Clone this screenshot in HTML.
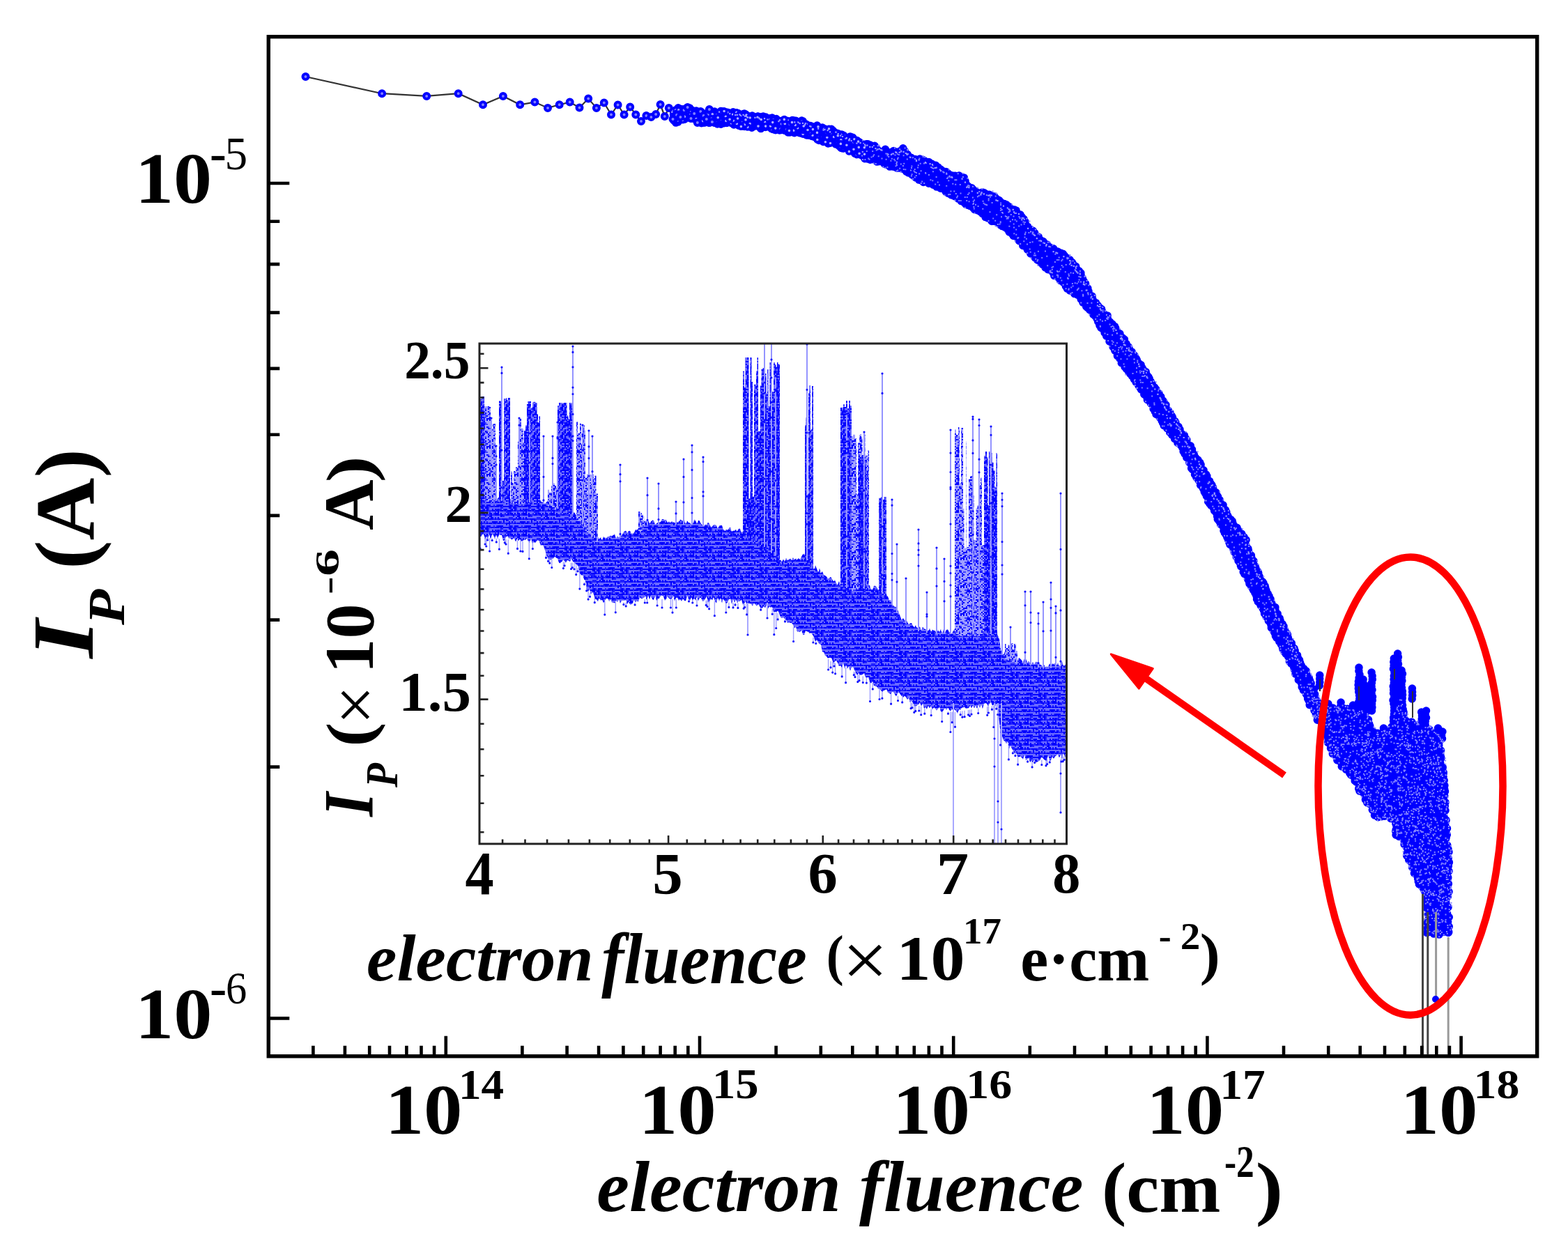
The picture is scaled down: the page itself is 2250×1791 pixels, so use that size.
<!DOCTYPE html>
<html><head><meta charset="utf-8"><title>electron fluence plot</title>
<style>html,body{margin:0;padding:0;background:#fff;overflow:hidden}svg{display:block;font-family:"Liberation Serif",serif;font-weight:bold}</style>
</head><body>
<svg width="2250" height="1791" viewBox="0 0 2250 1791">
<rect width="2250" height="1791" fill="#fff"/>
<path d="M438.5 110.0 L548.1 134.2 L612.2 137.9 L657.7 134.2 L693.0 150.3 L721.9 137.9 L746.2 150.3 L767.4 146.6 L786.0 154.9 L802.7 150.3 L817.7 146.6 L831.5 154.5 L844.2 141.5 L855.9 154.9 L866.8 147.5 L877.0 164.5 L886.6 150.4 L895.6 164.5 L904.2 153.4 L912.3 164.5 L920.0 174.0 L927.4 166.0 L934.4 168.0 L941.1 164.0 L947.6 150.0 L953.8 167.0 L959.8 155.0 L965.5 171.0 L971.1 165.0 L976.4 168.0 L981.6 158.0 L986.6 154.0 L991.5 170.0 L996.2 163.0 L1000.8 176.0 L1005.3 160.0 L1009.6 166.0 L1013.8 171.0 L1017.9 157.0 L1021.9 175.0" fill="none" stroke="#333" stroke-width="2.2"/>
<path d="M1236.7 224.3 L1237.0 224.4 L1254.7 232.3 L1280.3 239.2 L1280.6 239.3 L1298.6 245.3 L1299.1 245.4 L1299.5 245.7 L1299.9 245.9 L1317.3 258.5 L1333.7 264.3 L1334.0 264.4 L1352.0 272.4 L1352.4 272.6 L1352.7 272.8 L1369.6 283.7 L1392.5 296.6 L1392.8 296.8 L1413.7 310.8 L1434.6 323.7 L1434.9 323.9 L1455.9 338.9 L1456.3 339.3 L1456.7 339.6 L1477.6 362.5 L1498.3 383.3 L1519.1 400.1 L1519.5 400.4 L1519.8 400.7 L1533.2 416.1 L1542.6 421.7 L1543.0 422.0 L1543.4 422.3 L1543.8 422.7 L1565.8 447.7 L1566.0 448.0 L1566.3 448.4 L1598.3 500.4 L1598.4 500.6 L1612.2 525.2 L1632.0 551.0 L1632.2 551.3 L1649.2 577.3 L1649.3 577.4 L1664.2 602.2 L1698.0 647.0 L1698.3 647.4 L1698.5 647.8 L1722.5 697.7 L1748.9 747.7 L1749.0 747.9 L1772.5 797.8 L1822.4 897.7 L1849.4 947.6 L1849.5 947.8 L1873.5 997.8 L1894.4 1037.7 L1894.6 1038.1 L1905.6 1064.9 L1917.2 1088.2 L1938.8 1112.7 L1939.0 1113.0 L1939.3 1113.4 L1960.2 1147.4 L1975.9 1172.2 L1998.4 1174.0 L1998.9 1174.1 L1999.4 1174.2 L1999.8 1174.4 L2000.3 1174.6 L2000.7 1174.8 L2001.1 1175.1 L2001.5 1175.4 L2001.8 1175.8 L2002.1 1176.2 L2002.4 1176.6 L2002.6 1177.1 L2002.8 1177.5 L2002.9 1178.0 L2003.0 1178.5 L2003.0 1179.0 L2003.0 1198.0 L2013.4 1203.6 L2013.8 1203.8 L2014.2 1204.1 L2014.5 1204.5 L2014.9 1204.8 L2015.2 1205.2 L2015.4 1205.6 L2015.6 1206.1 L2015.8 1206.5 L2015.9 1207.0 L2016.0 1207.5 L2017.9 1225.6 L2033.5 1258.8 L2044.5 1280.8 L2044.7 1281.2 L2044.8 1281.7 L2044.9 1282.2 L2048.9 1308.2 L2049.0 1308.7 L2049.0 1309.1 L2048.1 1340.0 L2078.0 1340.0 L2078.0 1222.2 L2075.0 1180.4 L2075.0 1180.3 L2072.0 1130.3 L2067.1 1064.2 L2056.5 1053.5 L2056.1 1053.1 L2049.1 1044.4 L2033.6 1039.8 L2033.2 1039.7 L2020.2 1034.7 L2019.7 1034.5 L2019.3 1034.2 L2018.9 1033.9 L2018.5 1033.6 L2018.1 1033.2 L2017.8 1032.8 L2017.6 1032.3 L2017.4 1031.9 L2010.2 1013.8 L1999.7 1041.8 L1999.5 1042.2 L1999.2 1042.7 L1998.9 1043.1 L1998.5 1043.5 L1998.1 1043.9 L1988.1 1051.9 L1987.7 1052.2 L1987.3 1052.4 L1986.9 1052.6 L1986.4 1052.8 L1986.0 1052.9 L1985.5 1053.0 L1985.0 1053.0 L1984.5 1053.0 L1984.0 1052.9 L1983.6 1052.8 L1973.6 1049.8 L1973.1 1049.6 L1972.7 1049.4 L1972.3 1049.2 L1971.9 1048.9 L1971.6 1048.6 L1971.3 1048.3 L1971.0 1048.0 L1970.7 1047.6 L1957.2 1025.0 L1945.0 1025.0 L1944.5 1025.0 L1944.0 1024.9 L1943.6 1024.8 L1943.1 1024.6 L1942.6 1024.4 L1928.8 1017.0 L1905.0 1017.0 L1904.5 1017.0 L1904.0 1016.9 L1903.5 1016.8 L1903.1 1016.6 L1902.6 1016.4 L1902.2 1016.2 L1901.8 1015.9 L1901.5 1015.5 L1889.5 1003.5 L1889.2 1003.2 L1888.9 1002.8 L1888.6 1002.4 L1888.4 1002.0 L1888.3 1001.6 L1875.5 964.2 L1867.8 952.8 L1867.5 952.2 L1843.5 902.2 L1843.5 902.1 L1797.5 802.1 L1797.4 801.9 L1789.4 781.9 L1789.1 781.2 L1786.4 770.4 L1771.3 753.3 L1770.9 752.9 L1770.6 752.4 L1742.6 702.4 L1742.6 702.4 L1715.7 652.5 L1673.7 582.6 L1673.7 582.5 L1658.7 556.6 L1641.8 530.7 L1641.8 530.7 L1625.8 505.8 L1607.9 479.9 L1589.0 454.0 L1569.1 429.1 L1568.8 428.6 L1568.5 428.1 L1552.7 394.6 L1544.1 383.2 L1528.9 366.0 L1513.8 358.5 L1513.4 358.3 L1513.0 358.0 L1497.0 346.0 L1496.5 345.5 L1481.5 330.5 L1481.1 330.1 L1460.6 303.8 L1445.4 294.2 L1445.1 294.1 L1423.0 278.7 L1400.0 273.9 L1399.5 273.8 L1399.1 273.6 L1398.7 273.4 L1398.3 273.2 L1397.9 272.9 L1388.9 265.9 L1388.6 265.7 L1388.3 265.3 L1388.0 265.0 L1387.7 264.6 L1387.5 264.2 L1381.7 252.7 L1366.4 251.0 L1365.9 250.9 L1365.4 250.7 L1364.9 250.6 L1364.5 250.3 L1347.5 240.3 L1347.2 240.1 L1335.0 231.7 L1308.9 225.9 L1308.4 225.7 L1308.0 225.6 L1307.5 225.3 L1307.1 225.1 L1306.7 224.8 L1306.4 224.4 L1306.0 224.0 L1298.0 213.6 L1280.2 217.9 L1279.7 218.0 L1279.2 218.0 L1278.7 218.0 L1278.3 217.9 L1277.8 217.9 L1277.3 217.7 L1260.4 211.7 L1235.0 203.3 L1235.0 223.7 L1236.7 224.3Z" fill="#00f"/>
<path d="M968.8 158.8h0M968.9 158.3h0M966.5 164.1h0M967.3 168.8h0M969.8 176.1h0M972.9 175.1h0M979.0 170.1h0M979.5 170.2h0M982.4 171.2h0M989.1 166.8h0M989.3 169.1h0M995.6 170.3h0M1001.8 173.8h0M1003.3 174.0h0M1006.6 176.8h0M1010.9 176.1h0M1017.8 176.0h0M1021.9 173.9h0M1025.2 176.3h0M1029.4 177.9h0M1033.8 173.8h0M1034.5 178.2h0M1039.3 176.7h0M1042.9 176.5h0M1050.2 176.8h0M1053.0 179.0h0M1060.1 180.2h0M1063.2 179.6h0M1068.2 181.4h0M1069.1 181.2h0M1076.8 180.4h0M1078.8 183.2h0M1083.1 180.1h0M1083.5 180.9h0M1091.6 184.4h0M1091.8 184.6h0M1095.3 182.4h0M1098.2 182.4h0M1105.3 182.3h0M1108.4 183.8h0M1111.7 186.2h0M1112.9 186.8h0M1118.7 187.0h0M1121.8 186.4h0M1127.8 186.9h0M1130.7 189.9h0M1136.4 189.5h0M1140.6 188.7h0M1139.9 190.7h0M1147.2 190.8h0M1149.1 191.1h0M1157.3 194.0h0M1160.5 194.1h0M1165.0 195.4h0M1168.9 196.6h0M1172.5 198.5h0M1175.3 201.5h0M1176.9 198.5h0M1181.3 203.4h0M1185.8 202.6h0M1188.3 206.0h0M1195.3 204.0h0M1199.1 207.0h0M1204.3 209.7h0M1207.3 212.4h0M1210.5 213.0h0M1212.2 211.8h0M1218.6 214.7h0M1218.8 215.4h0M1226.5 220.3h0M1228.6 218.0h0M1231.3 219.2h0M1234.4 222.0h0M1238.7 224.5h0M1241.0 227.7h0M1244.8 228.0h0M1248.7 229.2h0M1254.1 228.9h0M1258.5 232.1h0M1261.3 230.4h0M1263.5 231.6h0M1269.1 235.2h0M1271.7 236.2h0M1276.8 239.1h0M1281.7 237.1h0M1282.1 239.3h0M1287.1 241.3h0M1291.3 241.1h0M1294.2 241.9h0M1299.0 244.1h0M1300.5 246.2h0M1303.5 247.9h0M1308.9 250.9h0M1312.7 253.7h0M1314.1 255.0h0M1318.6 258.1h0M1321.0 258.6h0M1325.1 261.4h0M1327.0 260.5h0M1332.7 263.3h0M1334.3 262.9h0M1339.1 265.2h0M1344.0 268.1h0M1347.4 267.9h0M1349.6 270.2h0M1352.0 270.4h0M1357.2 275.3h0M1360.7 277.5h0M1364.8 279.8h0M1365.5 279.9h0M1369.9 281.7h0M1375.0 285.1h0M1378.0 286.8h0M1379.3 288.6h0M1383.8 291.0h0M1386.2 293.4h0M1389.1 294.4h0M1392.2 295.7h0M1396.8 298.6h0M1398.5 300.8h0M1402.2 301.7h0M1406.4 303.7h0M1409.9 306.7h0M1413.2 308.8h0M1414.1 311.6h0M1417.4 312.9h0M1422.0 315.2h0M1423.2 317.4h0M1427.0 317.4h0M1432.3 319.7h0M1436.0 323.1h0M1438.2 324.6h0M1442.0 326.2h0M1445.9 329.3h0M1448.2 332.9h0M1452.4 335.7h0M1454.3 338.4h0M1459.5 340.3h0M1461.7 344.2h0M1462.5 345.8h0M1465.8 347.1h0M1467.8 352.5h0M1472.1 354.1h0M1474.3 358.1h0M1478.5 360.8h0M1478.8 363.9h0M1484.0 365.6h0M1485.3 370.0h0M1488.4 372.9h0M1490.0 373.7h0M1494.1 377.4h0M1496.3 379.7h0M1499.9 384.0h0M1503.7 386.8h0M1507.2 387.4h0M1510.9 391.2h0M1512.8 395.6h0M1517.2 396.2h0M1519.1 398.7h0M1521.6 402.7h0M1525.7 405.3h0M1528.9 408.8h0M1529.3 410.6h0M1531.3 414.1h0M1535.1 417.0h0M1540.4 419.4h0M1541.9 421.6h0M1545.9 422.9h0M1549.4 425.4h0M1551.3 429.4h0M1553.9 434.1h0M1558.2 435.2h0M1558.7 439.9h0M1560.7 441.7h0M1563.7 444.7h0M1567.8 448.9h0M1569.0 451.4h0M1571.8 453.9h0M1574.4 458.0h0M1575.7 461.5h0M1577.1 463.8h0M1578.0 467.3h0M1580.0 470.4h0M1584.1 474.1h0M1585.1 477.5h0M1587.6 482.1h0M1590.5 483.8h0M1592.0 489.9h0M1594.9 490.9h0M1597.3 496.1h0M1597.1 497.9h0M1599.9 503.3h0M1603.2 505.7h0M1603.4 510.6h0M1606.7 512.8h0M1606.8 514.4h0M1609.3 521.0h0M1612.7 522.1h0M1614.0 526.4h0M1616.1 529.3h0M1619.3 533.3h0M1621.9 536.4h0M1624.5 539.6h0M1627.3 544.3h0M1629.7 546.7h0M1630.2 548.4h0M1633.2 551.7h0M1634.1 553.8h0M1636.2 556.5h0M1637.5 559.0h0M1641.9 562.8h0M1641.8 565.9h0M1645.7 569.9h0M1646.4 573.8h0M1648.9 575.2h0M1651.3 579.0h0M1655.0 583.0h0M1655.1 586.8h0M1657.3 590.5h0M1659.0 594.5h0M1661.1 595.4h0M1664.2 599.1h0M1667.1 603.7h0M1668.5 606.6h0M1670.2 610.6h0M1674.7 614.6h0M1677.4 615.8h0M1678.7 620.5h0M1679.6 620.7h0M1681.7 624.2h0M1685.6 629.8h0M1688.1 630.4h0M1689.9 635.5h0M1694.2 638.7h0M1696.4 642.0h0M1698.1 647.8h0M1699.9 651.1h0M1702.0 652.8h0M1702.8 656.8h0M1706.4 658.8h0M1706.7 663.8h0M1709.7 666.7h0M1709.6 672.0h0M1711.1 673.8h0M1714.9 676.4h0M1714.5 680.9h0M1716.8 685.2h0M1719.9 689.3h0M1721.6 691.0h0M1722.9 693.0h0M1722.6 696.2h0M1726.4 701.0h0M1728.2 705.5h0M1729.4 707.6h0M1731.4 711.9h0M1734.1 716.9h0M1733.6 719.7h0M1735.8 722.8h0M1737.6 725.1h0M1740.6 727.9h0M1742.6 732.9h0M1745.1 735.6h0M1746.6 740.9h0M1747.3 745.3h0M1749.6 748.0h0M1751.6 752.4h0M1755.5 756.4h0M1756.0 761.5h0M1757.3 764.5h0M1759.1 767.1h0M1760.9 771.1h0M1762.7 775.3h0M1763.9 778.4h0M1765.0 781.4h0M1767.6 783.3h0M1770.0 788.2h0M1771.1 792.1h0M1773.8 795.0h0M1774.1 799.2h0M1777.0 804.9h0M1779.1 807.5h0M1780.3 811.5h0M1780.6 812.8h0M1783.8 815.8h0M1784.2 820.8h0M1785.8 823.6h0M1790.4 828.1h0M1790.9 831.8h0M1792.5 835.1h0M1792.9 837.6h0M1795.7 841.9h0M1797.7 845.1h0M1798.6 847.0h0M1800.9 851.0h0M1802.8 854.8h0M1803.5 859.8h0M1805.2 863.4h0M1808.4 867.0h0M1809.2 869.3h0M1812.0 873.2h0M1813.5 876.2h0M1814.5 880.4h0M1817.0 885.0h0M1818.9 886.5h0M1820.3 890.9h0M1822.8 893.4h0M1823.9 896.8h0M1824.3 901.0h0M1827.8 905.6h0M1828.9 908.0h0M1830.4 912.7h0M1831.8 915.2h0M1835.7 919.1h0M1835.7 920.6h0M1838.4 924.7h0M1840.5 929.7h0M1840.9 931.5h0M1843.2 935.7h0M1845.0 938.3h0M1848.3 941.9h0M1850.6 946.8h0M1850.3 949.3h0M1852.7 952.1h0M1856.4 956.8h0M1857.4 960.8h0M1859.1 964.8h0M1859.0 967.3h0M1862.7 969.3h0M1863.7 972.8h0M1863.3 975.7h0M1867.1 979.4h0M1868.3 983.1h0M1868.2 985.9h0M1870.4 990.4h0M1874.3 996.1h0M1876.2 998.9h0M1876.6 1002.4h0M1877.8 1005.0h0M1879.2 1011.6h0M1881.6 1012.2h0M1887.0 1015.2h0M1886.0 1019.4h0M1888.1 1023.5h0M1892.2 1030.1h0M1890.3 1033.3h0M1896.5 1038.0h0M1897.8 1040.6h0M1896.8 1041.8h0M1898.3 1043.9h0M1902.1 1048.6h0M1903.6 1054.2h0M1905.1 1057.7h0M1906.1 1062.0h0M1905.6 1065.8h0M1910.1 1066.7h0M1909.5 1073.6h0M1913.6 1077.1h0M1912.3 1081.7h0M1916.9 1084.4h0M1919.2 1086.7h0M1918.9 1090.9h0M1924.5 1091.6h0M1924.0 1093.8h0M1925.3 1099.9h0M1927.8 1099.0h0M1931.4 1104.3h0M1936.8 1109.5h0M1938.4 1111.9h0M1942.1 1114.2h0M1943.9 1116.5h0M1944.2 1120.4h0M1945.9 1121.9h0M1949.2 1124.9h0M1949.7 1131.7h0M1950.9 1135.2h0M1954.8 1135.5h0M1956.3 1137.7h0M1960.3 1144.5h0M1959.4 1147.4h0M1961.8 1152.0h0M1965.5 1153.8h0M1970.3 1156.7h0M1969.3 1162.3h0M1972.1 1164.0h0M1972.5 1169.9h0M1977.5 1172.7h0M1982.6 1171.8h0M1986.9 1171.3h0M1988.5 1170.0h0M1995.8 1174.6h0M1998.9 1175.1h0M2000.7 1175.6h0M2003.6 1179.6h0M2002.9 1182.3h0M2003.8 1184.7h0M2003.2 1190.7h0M2002.7 1193.0h0M2003.1 1198.3h0M2007.5 1200.5h0M2014.0 1203.2h0M2015.1 1206.6h0M2015.1 1211.8h0M2015.6 1211.5h0M2018.9 1216.4h0M2019.2 1224.4h0M2020.3 1224.4h0M2018.8 1228.3h0M2021.3 1230.9h0M2021.7 1234.2h0M2025.3 1237.4h0M2026.6 1244.8h0M2030.8 1246.0h0M2030.5 1247.5h0M2029.4 1253.2h0M2033.1 1256.0h0M2034.6 1261.0h0M2035.3 1265.3h0M2036.4 1268.9h0M2040.1 1271.8h0M2042.5 1275.2h0M2044.8 1279.5h0M2048.2 1281.2h0M2048.3 1288.0h0M2048.1 1290.0h0M2048.2 1295.1h0M2046.7 1300.8h0M2046.9 1302.6h0M2049.8 1306.7h0M2049.2 1312.3h0M2050.4 1316.9h0M2049.1 1321.2h0M2048.4 1324.6h0M2048.8 1331.0h0M2048.3 1332.3h0M2047.6 1338.6h0M2049.5 1336.9h0M2053.9 1337.7h0M2057.5 1340.1h0M2065.1 1341.1h0M2069.2 1337.0h0M2071.7 1337.5h0M2078.3 1338.5h0M2078.8 1337.5h0M2079.3 1329.8h0M2075.2 1326.7h0M2077.6 1322.7h0M2075.5 1321.7h0M2079.3 1316.2h0M2076.7 1311.4h0M2075.7 1310.7h0M2078.0 1301.9h0M2075.3 1299.3h0M2074.9 1295.7h0M2074.8 1290.9h0M2077.4 1286.4h0M2077.5 1281.1h0M2079.1 1279.8h0M2077.3 1271.5h0M2076.4 1270.8h0M2078.4 1268.3h0M2074.6 1264.3h0M2077.8 1259.4h0M2076.6 1256.8h0M2079.1 1250.2h0M2076.4 1244.9h0M2078.4 1242.6h0M2079.4 1237.5h0M2078.2 1231.8h0M2075.4 1230.4h0M2075.9 1226.8h0M2079.0 1222.8h0M2078.0 1218.6h0M2076.8 1213.1h0M2074.0 1210.0h0M2074.7 1203.6h0M2075.2 1201.8h0M2076.3 1197.9h0M2075.0 1195.1h0M2075.5 1189.5h0M2076.5 1189.0h0M2073.8 1182.2h0M2075.1 1177.1h0M2073.1 1174.7h0M2071.5 1169.8h0M2074.0 1163.2h0M2073.0 1161.5h0M2073.3 1156.5h0M2073.9 1151.4h0M2070.2 1151.4h0M2069.6 1144.7h0M2072.7 1142.1h0M2073.5 1135.8h0M2072.7 1132.2h0M2071.0 1129.9h0M2072.9 1127.2h0M2069.3 1124.7h0M2072.2 1119.9h0M2071.1 1115.0h0M2071.2 1110.1h0M2071.3 1108.6h0M2070.2 1101.5h0M2070.2 1101.1h0M2066.7 1094.9h0M2067.6 1088.4h0M2067.7 1086.7h0M2066.9 1083.4h0M2067.6 1077.0h0M2066.2 1076.1h0M2064.8 1069.3h0M2065.2 1064.4h0M2060.9 1060.2h0M2059.8 1060.0h0M2060.1 1057.3h0M2057.5 1054.4h0M2054.5 1051.4h0M2051.0 1046.7h0M2045.6 1047.0h0M2041.4 1044.1h0M2040.5 1041.0h0M2036.8 1042.4h0M2033.8 1040.9h0M2024.9 1036.3h0M2025.9 1036.2h0M2017.5 1035.2h0M2016.9 1033.9h0M2013.9 1028.0h0M2011.7 1027.3h0M2014.1 1022.0h0M2013.2 1018.1h0M2007.3 1020.4h0M2005.7 1024.6h0M2004.7 1026.1h0M2007.0 1033.2h0M2003.7 1036.2h0M2003.0 1038.8h0M2002.6 1040.9h0M1997.1 1043.0h0M1996.9 1045.7h0M1992.7 1050.1h0M1989.6 1049.9h0M1986.3 1052.5h0M1981.0 1055.0h0M1977.0 1052.3h0M1974.5 1052.6h0M1972.9 1051.8h0M1969.5 1049.4h0M1965.8 1041.7h0M1964.8 1039.1h0M1963.1 1036.5h0M1963.5 1032.7h0M1958.7 1030.3h0M1958.2 1026.6h0M1952.2 1024.2h0M1950.4 1024.4h0M1943.4 1026.0h0M1940.0 1026.3h0M1938.1 1021.5h0M1933.9 1021.8h0M1933.3 1017.2h0M1927.9 1016.6h0M1926.1 1020.4h0M1920.4 1018.8h0M1917.6 1018.9h0M1912.5 1015.9h0M1912.5 1020.0h0M1906.9 1017.9h0M1904.3 1017.8h0M1898.8 1017.3h0M1896.4 1010.3h0M1891.9 1010.1h0M1891.0 1008.4h0M1889.4 1005.3h0M1886.1 998.9h0M1886.7 996.3h0M1883.6 993.9h0M1885.4 989.2h0M1880.1 987.8h0M1881.2 980.6h0M1879.6 976.7h0M1878.3 972.9h0M1876.4 972.2h0M1874.7 967.6h0M1874.1 962.7h0M1870.8 959.6h0M1867.3 955.0h0M1865.7 951.2h0M1864.6 947.2h0M1862.8 944.7h0M1861.6 940.4h0M1858.8 938.3h0M1858.2 933.7h0M1857.1 930.5h0M1853.8 926.8h0M1853.3 923.1h0M1849.8 919.0h0M1848.4 915.4h0M1847.5 910.9h0M1846.2 908.9h0M1843.9 905.1h0M1840.9 901.0h0M1842.0 898.7h0M1840.2 895.5h0M1837.1 890.5h0M1836.2 887.3h0M1833.4 883.9h0M1833.2 880.9h0M1830.0 875.4h0M1829.9 871.5h0M1826.7 870.4h0M1824.9 866.0h0M1823.1 859.9h0M1821.1 855.6h0M1819.3 852.0h0M1817.0 847.2h0M1815.8 843.7h0M1815.2 841.1h0M1813.0 836.8h0M1811.9 835.1h0M1809.2 832.5h0M1807.2 827.4h0M1805.7 822.2h0M1805.0 820.4h0M1802.0 815.7h0M1801.2 812.8h0M1798.5 810.1h0M1798.9 805.0h0M1796.0 800.7h0M1795.4 797.0h0M1792.8 794.6h0M1791.4 789.8h0M1790.9 787.4h0M1788.3 783.5h0M1787.1 780.3h0M1788.1 774.8h0M1785.1 770.8h0M1783.2 769.1h0M1781.7 766.0h0M1778.8 764.5h0M1776.6 760.7h0M1775.0 757.2h0M1770.5 754.0h0M1768.8 750.3h0M1768.2 747.8h0M1765.9 745.4h0M1763.2 743.0h0M1761.7 740.1h0M1759.8 734.8h0M1758.4 731.7h0M1755.4 729.3h0M1755.1 724.8h0M1750.8 720.5h0M1750.1 717.4h0M1747.6 712.7h0M1746.4 711.0h0M1744.7 706.5h0M1741.4 703.8h0M1740.6 699.6h0M1738.9 696.1h0M1737.4 694.0h0M1735.6 690.4h0M1733.1 688.0h0M1731.9 683.2h0M1730.6 680.9h0M1726.4 676.6h0M1727.1 674.8h0M1723.2 670.6h0M1723.1 666.8h0M1721.8 663.9h0M1719.0 660.0h0M1715.5 656.8h0M1713.3 652.2h0M1711.8 650.2h0M1710.4 646.6h0M1710.5 645.1h0M1708.3 639.8h0M1704.1 637.2h0M1702.9 631.4h0M1701.7 629.5h0M1699.4 624.8h0M1696.1 622.7h0M1693.4 619.8h0M1693.0 616.4h0M1691.0 612.3h0M1688.0 610.8h0M1686.9 606.4h0M1685.9 604.4h0M1682.5 599.0h0M1681.5 597.0h0M1679.0 592.4h0M1676.4 589.1h0M1673.3 585.8h0M1673.0 581.0h0M1670.8 578.9h0M1668.8 575.0h0M1665.4 573.1h0M1665.8 569.4h0M1663.1 564.7h0M1660.0 562.6h0M1658.7 558.6h0M1656.6 555.7h0M1653.3 551.4h0M1651.2 547.6h0M1649.2 543.4h0M1647.9 540.7h0M1645.6 538.1h0M1644.2 533.6h0M1639.9 529.6h0M1638.4 527.1h0M1637.1 523.6h0M1633.3 520.5h0M1631.3 516.6h0M1630.3 514.6h0M1628.3 511.9h0M1627.3 509.5h0M1624.1 504.9h0M1621.7 503.1h0M1620.3 500.1h0M1619.4 497.7h0M1616.1 493.2h0M1613.7 492.0h0M1613.4 487.0h0M1611.0 485.0h0M1607.3 480.7h0M1606.9 478.7h0M1603.3 476.2h0M1600.7 470.9h0M1599.5 468.4h0M1596.1 465.1h0M1592.8 462.0h0M1589.6 457.7h0M1589.1 452.9h0M1585.6 451.8h0M1581.8 447.3h0M1580.6 443.6h0M1577.7 441.4h0M1575.3 438.2h0M1572.4 434.4h0M1569.5 432.7h0M1568.0 429.9h0M1567.1 425.1h0M1563.1 422.4h0M1562.0 418.1h0M1560.9 413.8h0M1558.8 412.3h0M1557.6 407.0h0M1555.2 403.6h0M1553.4 399.7h0M1551.1 394.6h0M1550.9 391.8h0M1548.3 388.9h0M1545.7 386.7h0M1543.7 382.3h0M1539.7 378.7h0M1538.4 376.5h0M1535.1 372.8h0M1530.3 369.8h0M1527.1 366.6h0M1525.4 364.2h0M1521.8 362.9h0M1518.9 362.6h0M1517.6 360.9h0M1513.0 360.4h0M1511.7 356.8h0M1506.9 355.1h0M1502.4 350.9h0M1500.1 350.0h0M1497.0 346.5h0M1493.6 344.9h0M1491.1 342.5h0M1490.2 339.9h0M1485.9 337.5h0M1484.7 334.3h0M1482.4 331.3h0M1479.3 329.4h0M1474.6 325.0h0M1471.9 322.2h0M1470.8 317.7h0M1469.0 314.2h0M1466.2 311.4h0M1464.1 308.1h0M1459.8 305.7h0M1458.0 301.9h0M1455.9 301.0h0M1451.1 299.7h0M1448.0 296.6h0M1444.2 293.8h0M1441.3 292.5h0M1435.9 289.9h0M1433.8 287.5h0M1430.0 285.2h0M1427.0 282.1h0M1422.9 280.9h0M1419.7 279.3h0M1414.7 278.3h0M1411.8 276.4h0M1409.5 276.1h0M1403.9 276.7h0M1400.2 274.8h0M1397.8 273.9h0M1396.5 272.0h0M1394.4 269.8h0M1389.2 267.3h0M1387.3 265.5h0M1384.9 263.6h0M1385.1 260.0h0M1383.3 254.9h0M1380.3 253.9h0M1376.2 252.1h0M1370.8 252.3h0M1368.6 252.3h0M1364.0 251.3h0M1360.3 248.7h0M1357.5 246.4h0M1353.1 245.6h0M1349.8 243.0h0M1346.0 239.9h0M1342.7 237.3h0M1339.7 236.8h0M1337.0 235.0h0M1332.8 232.4h0M1331.3 232.9h0M1327.1 231.1h0M1324.3 229.2h0M1319.9 228.1h0M1315.9 229.7h0M1313.3 228.4h0M1307.6 226.2h0M1304.8 224.9h0M1302.2 221.6h0M1298.2 216.6h0M1295.8 212.8h0M1295.8 216.5h0M1291.0 217.1h0M1283.0 217.1h0M1282.4 216.4h0M1277.2 218.8h0M1272.3 218.8h0M1270.4 214.3h0M1267.7 217.1h0M1259.5 215.1h0M1256.5 213.9h0M1255.1 209.2h0M1248.6 208.1h0M1245.5 206.8h0M1243.1 206.7h0M1236.8 207.2h0M1233.4 204.1h0M1231.6 203.0h0M1226.2 201.3h0M1223.7 197.2h0M1220.0 195.9h0M1211.8 196.8h0M1208.6 193.6h0M1207.7 192.9h0M1202.1 191.4h0M1199.8 191.1h0M1195.2 187.3h0M1193.0 185.3h0M1188.9 187.8h0M1183.6 184.9h0M1178.4 185.3h0M1176.6 184.7h0M1172.5 180.1h0M1169.2 181.8h0M1164.4 181.2h0M1160.6 180.2h0M1156.5 179.5h0M1152.1 173.8h0M1150.4 173.0h0M1145.6 175.1h0M1142.0 173.2h0M1137.0 172.6h0M1131.6 174.8h0M1125.5 171.5h0M1120.7 174.0h0M1116.5 172.8h0M1111.6 172.7h0M1108.0 169.0h0M1106.7 170.4h0M1099.1 168.2h0M1098.9 168.0h0M1095.2 167.1h0M1087.7 167.1h0M1087.3 167.1h0M1079.4 166.1h0M1079.6 167.3h0M1073.8 166.4h0M1069.9 163.9h0M1068.1 162.9h0M1062.3 165.4h0M1059.1 162.4h0M1056.5 162.1h0M1052.0 160.7h0M1044.8 161.5h0M1040.6 160.7h0M1037.2 159.9h0M1034.5 159.6h0M1030.1 161.7h0M1025.4 160.1h0M1019.6 161.2h0M1018.7 163.8h0M1011.7 164.6h0M1010.6 163.3h0M1003.4 165.2h0M1002.7 163.4h0M999.1 159.0h0M993.2 158.3h0M991.7 158.5h0M989.6 154.9h0M983.2 156.6h0M980.9 157.2h0M973.2 154.7h0M971.4 156.7h0M1893.8 969.0h0M1893.7 974.0h0M1893.8 979.0h0M1893.3 984.0h0M1905.9 1010.0h0M1905.2 1015.0h0M1924.1 1008.0h0M1923.9 1013.0h0M1941.5 1012.0h0M1941.6 1017.0h0M1950.0 958.0h0M1949.9 963.0h0M1951.0 968.0h0M1950.1 973.0h0M1949.4 978.0h0M1949.1 983.0h0M1949.3 988.0h0M1949.7 993.0h0M1950.6 998.0h0M1950.8 1003.0h0M1949.5 1008.0h0M1950.6 1013.0h0M1949.9 1018.0h0M1956.1 975.0h0M1956.1 980.0h0M1955.1 985.0h0M1955.1 990.0h0M1956.3 995.0h0M1956.4 1000.0h0M1955.8 1005.0h0M1956.8 1010.0h0M1956.6 1015.0h0M1955.6 1020.0h0M1968.1 965.0h0M1969.1 970.0h0M1969.3 975.0h0M1968.4 980.0h0M1968.1 985.0h0M1969.0 990.0h0M1968.1 995.0h0M1969.5 1000.0h0M1969.3 1005.0h0M1968.6 1010.0h0M1968.9 1015.0h0M1968.5 1020.0h0M1962.4 985.0h0M1962.4 990.0h0M1963.6 995.0h0M1962.9 1000.0h0M1963.4 1005.0h0M1962.7 1010.0h0M1963.6 1015.0h0M1963.2 1020.0h0M2000.3 945.0h0M1999.8 950.0h0M2000.1 955.0h0M1999.4 960.0h0M2000.9 965.0h0M2000.3 970.0h0M2000.1 975.0h0M2000.3 980.0h0M1999.2 985.0h0M1999.7 990.0h0M1999.5 995.0h0M2000.7 1000.0h0M1999.0 1005.0h0M1999.9 1010.0h0M2000.7 1015.0h0M2000.6 1020.0h0M2000.4 1025.0h0M1999.6 1030.0h0M1999.5 1035.0h0M2000.4 1040.0h0M2005.6 938.0h0M2006.4 943.0h0M2005.7 948.0h0M2006.5 953.0h0M2006.1 958.0h0M2006.6 963.0h0M2007.0 968.0h0M2005.8 973.0h0M2007.0 978.0h0M2005.0 983.0h0M2006.8 988.0h0M2005.1 993.0h0M2006.1 998.0h0M2005.8 1003.0h0M2006.5 1008.0h0M2005.6 1013.0h0M2005.4 1018.0h0M2006.6 1023.0h0M2006.1 1028.0h0M2006.5 1033.0h0M2006.0 1038.0h0M2011.1 962.0h0M2012.5 967.0h0M2011.4 972.0h0M2011.9 977.0h0M2011.0 982.0h0M2011.5 987.0h0M2012.3 992.0h0M2012.5 997.0h0M2012.3 1002.0h0M2011.9 1007.0h0M2012.5 1012.0h0M2012.3 1017.0h0M2011.4 1022.0h0M2012.1 1027.0h0M2012.2 1032.0h0M2012.5 1037.0h0M2026.4 988.0h0M2026.6 993.0h0M2026.7 998.0h0M2026.2 1003.0h0M2039.7 1022.0h0M2040.5 1027.0h0M2040.2 1032.0h0M2039.3 1037.0h0M2046.5 1020.0h0M2045.2 1025.0h0M2046.5 1030.0h0M2045.3 1035.0h0M2045.2 1040.0h0M2063.5 1045.0h0M2064.0 1050.0h0M2063.5 1055.0h0M2064.8 1060.0h0M2069.9 1050.0h0M2068.6 1055.0h0M2069.5 1060.0h0M1985.4 1045.0h0M1985.1 1050.0h0" stroke="#00f" stroke-width="11.5" stroke-linecap="round" fill="none"/>
<g fill="#b0b0ff" stroke="#00f" stroke-width="3.6"><circle cx="1055.4" cy="165.4" r="3.6"/><circle cx="1113.6" cy="180.9" r="3.6"/><circle cx="985.7" cy="161.1" r="3.6"/><circle cx="1000.5" cy="170.7" r="3.6"/><circle cx="1124.9" cy="183.2" r="3.6"/><circle cx="1006.1" cy="163.1" r="3.6"/><circle cx="1141.9" cy="181.4" r="3.6"/><circle cx="982.9" cy="169.4" r="3.6"/><circle cx="1153.3" cy="185.4" r="3.6"/><circle cx="1090.9" cy="176.2" r="3.6"/><circle cx="1176.4" cy="195.9" r="3.6"/><circle cx="1125.7" cy="187.5" r="3.6"/><circle cx="1012.6" cy="163.0" r="3.6"/><circle cx="1002.0" cy="172.4" r="3.6"/><circle cx="1014.9" cy="171.3" r="3.6"/><circle cx="1128.2" cy="173.5" r="3.6"/><circle cx="1228.1" cy="204.4" r="3.6"/><circle cx="1213.4" cy="210.9" r="3.6"/><circle cx="1206.6" cy="212.2" r="3.6"/><circle cx="983.6" cy="159.4" r="3.6"/><circle cx="1023.8" cy="166.3" r="3.6"/><circle cx="966.6" cy="165.5" r="3.6"/><circle cx="1066.5" cy="163.4" r="3.6"/><circle cx="990.1" cy="161.9" r="3.6"/><circle cx="1060.6" cy="173.7" r="3.6"/><circle cx="1203.5" cy="204.8" r="3.6"/><circle cx="1057.0" cy="170.7" r="3.6"/><circle cx="1027.0" cy="170.9" r="3.6"/><circle cx="1020.5" cy="169.3" r="3.6"/><circle cx="1197.2" cy="189.2" r="3.6"/><circle cx="1216.2" cy="211.0" r="3.6"/><circle cx="1172.4" cy="189.1" r="3.6"/><circle cx="1001.4" cy="165.5" r="3.6"/><circle cx="1214.9" cy="212.8" r="3.6"/><circle cx="1035.6" cy="175.7" r="3.6"/><circle cx="1087.3" cy="167.8" r="3.6"/><circle cx="1165.6" cy="194.7" r="3.6"/><circle cx="1034.7" cy="174.5" r="3.6"/><circle cx="1178.5" cy="191.2" r="3.6"/><circle cx="1238.2" cy="214.6" r="3.6"/><circle cx="1108.0" cy="179.0" r="3.6"/><circle cx="1118.6" cy="186.3" r="3.6"/><circle cx="1040.7" cy="163.9" r="3.6"/><circle cx="991.1" cy="158.7" r="3.6"/><circle cx="1155.4" cy="185.3" r="3.6"/><circle cx="1091.1" cy="179.0" r="3.6"/><circle cx="1040.0" cy="163.9" r="3.6"/><circle cx="1111.1" cy="171.8" r="3.6"/><circle cx="996.5" cy="166.2" r="3.6"/><circle cx="980.3" cy="169.1" r="3.6"/><circle cx="1052.1" cy="176.6" r="3.6"/><circle cx="1167.7" cy="194.3" r="3.6"/><circle cx="1191.3" cy="185.7" r="3.6"/><circle cx="1077.6" cy="179.6" r="3.6"/><circle cx="981.4" cy="163.9" r="3.6"/><circle cx="1036.7" cy="166.3" r="3.6"/><circle cx="1205.5" cy="203.0" r="3.6"/><circle cx="1043.9" cy="172.0" r="3.6"/><circle cx="967.9" cy="173.6" r="3.6"/><circle cx="977.9" cy="156.2" r="3.6"/><circle cx="1050.0" cy="171.4" r="3.6"/><circle cx="1073.4" cy="178.1" r="3.6"/><circle cx="1211.3" cy="199.8" r="3.6"/><circle cx="1102.1" cy="182.2" r="3.6"/><circle cx="1177.0" cy="199.1" r="3.6"/><circle cx="1007.0" cy="172.9" r="3.6"/><circle cx="1152.0" cy="175.5" r="3.6"/><circle cx="1235.0" cy="222.1" r="3.6"/><circle cx="1089.9" cy="173.9" r="3.6"/><circle cx="1191.6" cy="191.3" r="3.6"/><circle cx="1209.9" cy="205.3" r="3.6"/><circle cx="1090.2" cy="176.3" r="3.6"/><circle cx="1220.8" cy="206.0" r="3.6"/><circle cx="1034.9" cy="173.7" r="3.6"/><circle cx="1209.2" cy="213.2" r="3.6"/><circle cx="1167.5" cy="187.1" r="3.6"/><circle cx="1096.1" cy="179.4" r="3.6"/><circle cx="1146.6" cy="176.3" r="3.6"/><circle cx="1119.5" cy="183.0" r="3.6"/><circle cx="1012.4" cy="166.2" r="3.6"/><circle cx="1102.9" cy="170.4" r="3.6"/><circle cx="1019.3" cy="161.1" r="3.6"/><circle cx="1032.1" cy="173.2" r="3.6"/><circle cx="1172.3" cy="184.3" r="3.6"/><circle cx="1069.9" cy="179.0" r="3.6"/><circle cx="1040.9" cy="172.5" r="3.6"/><circle cx="1228.4" cy="215.8" r="3.6"/><circle cx="996.4" cy="165.7" r="3.6"/><circle cx="1224.9" cy="206.7" r="3.6"/><circle cx="1143.7" cy="176.5" r="3.6"/><circle cx="1001.6" cy="172.7" r="3.6"/><circle cx="997.3" cy="159.6" r="3.6"/><circle cx="1073.0" cy="170.7" r="3.6"/><circle cx="1229.7" cy="201.1" r="3.6"/><circle cx="1030.9" cy="172.4" r="3.6"/><circle cx="1230.2" cy="205.4" r="3.6"/><circle cx="1081.8" cy="173.1" r="3.6"/><circle cx="1105.1" cy="169.4" r="3.6"/><circle cx="1148.9" cy="181.9" r="3.6"/><circle cx="1069.1" cy="178.5" r="3.6"/><circle cx="1192.1" cy="185.8" r="3.6"/><circle cx="976.1" cy="159.1" r="3.6"/><circle cx="1059.6" cy="174.2" r="3.6"/><circle cx="1053.4" cy="174.4" r="3.6"/><circle cx="1218.1" cy="200.3" r="3.6"/><circle cx="1072.6" cy="172.7" r="3.6"/><circle cx="1133.2" cy="178.2" r="3.6"/><circle cx="1034.4" cy="159.2" r="3.6"/><circle cx="1039.2" cy="160.6" r="3.6"/><circle cx="1161.3" cy="186.8" r="3.6"/><circle cx="1122.1" cy="181.5" r="3.6"/><circle cx="1034.4" cy="172.3" r="3.6"/><circle cx="1125.2" cy="178.1" r="3.6"/><circle cx="1105.8" cy="171.3" r="3.6"/><circle cx="1188.4" cy="201.7" r="3.6"/><circle cx="999.2" cy="168.2" r="3.6"/><circle cx="1005.3" cy="169.3" r="3.6"/><circle cx="1052.2" cy="169.2" r="3.6"/><circle cx="1184.8" cy="194.1" r="3.6"/><circle cx="983.9" cy="161.9" r="3.6"/><circle cx="1079.0" cy="175.0" r="3.6"/><circle cx="1066.4" cy="168.8" r="3.6"/><circle cx="1006.5" cy="175.0" r="3.6"/><circle cx="1020.7" cy="163.7" r="3.6"/><circle cx="1214.7" cy="199.3" r="3.6"/><circle cx="1108.7" cy="182.2" r="3.6"/><circle cx="1000.3" cy="172.4" r="3.6"/><circle cx="1138.6" cy="176.7" r="3.6"/><circle cx="1100.9" cy="171.5" r="3.6"/><circle cx="1092.3" cy="167.5" r="3.6"/><circle cx="1104.8" cy="181.8" r="3.6"/><circle cx="1023.7" cy="173.5" r="3.6"/><circle cx="1105.4" cy="177.6" r="3.6"/><circle cx="976.6" cy="167.7" r="3.6"/><circle cx="1141.2" cy="180.5" r="3.6"/><circle cx="1206.1" cy="194.6" r="3.6"/><circle cx="1139.4" cy="183.0" r="3.6"/><circle cx="1087.9" cy="167.3" r="3.6"/><circle cx="975.8" cy="165.3" r="3.6"/><circle cx="1135.6" cy="185.8" r="3.6"/><circle cx="1002.7" cy="171.0" r="3.6"/><circle cx="1137.8" cy="188.8" r="3.6"/><circle cx="1033.4" cy="165.3" r="3.6"/><circle cx="1205.7" cy="211.0" r="3.6"/><circle cx="1076.8" cy="173.6" r="3.6"/><circle cx="1120.9" cy="179.8" r="3.6"/><circle cx="1143.7" cy="186.6" r="3.6"/><circle cx="1223.7" cy="207.5" r="3.6"/><circle cx="1077.9" cy="171.7" r="3.6"/><circle cx="1051.4" cy="176.2" r="3.6"/><circle cx="1171.1" cy="188.1" r="3.6"/><circle cx="1170.1" cy="187.2" r="3.6"/><circle cx="1028.5" cy="162.2" r="3.6"/><circle cx="1118.5" cy="186.0" r="3.6"/><circle cx="1182.9" cy="192.3" r="3.6"/><circle cx="1038.0" cy="171.6" r="3.6"/><circle cx="1123.1" cy="176.8" r="3.6"/><circle cx="1061.2" cy="164.8" r="3.6"/><circle cx="974.4" cy="157.6" r="3.6"/><circle cx="995.9" cy="169.4" r="3.6"/><circle cx="1139.9" cy="175.3" r="3.6"/><circle cx="993.9" cy="161.6" r="3.6"/><circle cx="972.2" cy="173.1" r="3.6"/><circle cx="1067.5" cy="177.7" r="3.6"/><circle cx="1200.2" cy="199.2" r="3.6"/><circle cx="1114.1" cy="170.2" r="3.6"/><circle cx="966.9" cy="169.1" r="3.6"/><circle cx="1044.4" cy="170.1" r="3.6"/><circle cx="1158.5" cy="190.5" r="3.6"/><circle cx="1138.9" cy="180.2" r="3.6"/><circle cx="1023.1" cy="173.6" r="3.6"/><circle cx="1062.2" cy="178.1" r="3.6"/><circle cx="1178.8" cy="196.4" r="3.6"/><circle cx="1019.1" cy="176.3" r="3.6"/><circle cx="1008.9" cy="165.8" r="3.6"/><circle cx="1056.6" cy="168.2" r="3.6"/><circle cx="1234.2" cy="207.2" r="3.6"/><circle cx="1236.6" cy="211.9" r="3.6"/><circle cx="1167.8" cy="185.9" r="3.6"/><circle cx="995.8" cy="169.5" r="3.6"/><circle cx="1156.8" cy="190.7" r="3.6"/><circle cx="1140.1" cy="188.0" r="3.6"/><circle cx="1082.1" cy="171.1" r="3.6"/><circle cx="1200.5" cy="203.6" r="3.6"/><circle cx="1142.6" cy="187.3" r="3.6"/><circle cx="1139.3" cy="172.6" r="3.6"/><circle cx="1137.1" cy="184.1" r="3.6"/><circle cx="1180.1" cy="182.6" r="3.6"/><circle cx="1194.1" cy="192.2" r="3.6"/><circle cx="1063.2" cy="173.7" r="3.6"/><circle cx="1074.1" cy="169.9" r="3.6"/><circle cx="1188.7" cy="200.3" r="3.6"/><circle cx="1095.0" cy="175.8" r="3.6"/><circle cx="1069.8" cy="172.9" r="3.6"/><circle cx="1083.5" cy="168.0" r="3.6"/><circle cx="1043.7" cy="172.2" r="3.6"/><circle cx="1147.5" cy="180.7" r="3.6"/><circle cx="1221.4" cy="216.2" r="3.6"/><circle cx="1215.1" cy="211.2" r="3.6"/><circle cx="994.4" cy="164.9" r="3.6"/><circle cx="1061.6" cy="165.6" r="3.6"/><circle cx="1214.7" cy="211.7" r="3.6"/><circle cx="1118.9" cy="173.6" r="3.6"/><circle cx="1030.8" cy="164.6" r="3.6"/><circle cx="1104.8" cy="174.2" r="3.6"/><circle cx="1057.3" cy="177.4" r="3.6"/><circle cx="1209.6" cy="193.9" r="3.6"/><circle cx="968.2" cy="168.3" r="3.6"/><circle cx="1219.4" cy="198.5" r="3.6"/><circle cx="1216.2" cy="198.7" r="3.6"/><circle cx="1149.6" cy="187.6" r="3.6"/><circle cx="1146.5" cy="181.2" r="3.6"/><circle cx="1120.8" cy="173.2" r="3.6"/><circle cx="977.3" cy="163.1" r="3.6"/><circle cx="1188.9" cy="196.1" r="3.6"/><circle cx="1139.4" cy="184.7" r="3.6"/><circle cx="1225.9" cy="211.2" r="3.6"/><circle cx="1122.1" cy="175.7" r="3.6"/><circle cx="1234.8" cy="214.6" r="3.6"/><circle cx="1131.5" cy="176.8" r="3.6"/><circle cx="967.0" cy="173.5" r="3.6"/><circle cx="1123.5" cy="174.3" r="3.6"/><circle cx="1094.2" cy="169.5" r="3.6"/><circle cx="1183.8" cy="187.7" r="3.6"/><circle cx="1018.4" cy="168.4" r="3.6"/><circle cx="1130.4" cy="179.5" r="3.6"/><circle cx="1122.2" cy="173.4" r="3.6"/><circle cx="1180.4" cy="185.3" r="3.6"/><circle cx="1226.3" cy="209.9" r="3.6"/><circle cx="1021.7" cy="167.6" r="3.6"/><circle cx="989.5" cy="158.2" r="3.6"/><circle cx="1130.7" cy="183.2" r="3.6"/><circle cx="1150.3" cy="182.9" r="3.6"/><circle cx="981.8" cy="165.0" r="3.6"/><circle cx="1152.3" cy="176.1" r="3.6"/><circle cx="1037.0" cy="163.5" r="3.6"/><circle cx="1032.0" cy="164.9" r="3.6"/><circle cx="1197.7" cy="199.9" r="3.6"/><circle cx="1090.7" cy="179.1" r="3.6"/><circle cx="1192.4" cy="189.0" r="3.6"/><circle cx="1162.4" cy="194.5" r="3.6"/><circle cx="1009.2" cy="174.1" r="3.6"/><circle cx="1097.6" cy="175.2" r="3.6"/><circle cx="1037.3" cy="169.1" r="3.6"/><circle cx="1240.5" cy="221.3" r="3.6"/><circle cx="1195.0" cy="192.6" r="3.6"/><circle cx="988.3" cy="160.9" r="3.6"/><circle cx="1133.5" cy="190.3" r="3.6"/><circle cx="1041.7" cy="169.4" r="3.6"/><circle cx="1189.3" cy="196.6" r="3.6"/><circle cx="1167.6" cy="184.0" r="3.6"/><circle cx="1067.3" cy="166.4" r="3.6"/><circle cx="1016.6" cy="162.0" r="3.6"/><circle cx="974.8" cy="161.5" r="3.6"/><circle cx="1205.2" cy="206.3" r="3.6"/><circle cx="978.9" cy="163.4" r="3.6"/><circle cx="1043.3" cy="163.4" r="3.6"/><circle cx="1197.0" cy="192.5" r="3.6"/><circle cx="1229.4" cy="222.0" r="3.6"/><circle cx="1140.2" cy="180.9" r="3.6"/><circle cx="972.2" cy="164.6" r="3.6"/><circle cx="1232.7" cy="210.6" r="3.6"/><circle cx="1223.7" cy="200.3" r="3.6"/><circle cx="1142.6" cy="173.7" r="3.6"/><circle cx="1137.0" cy="172.6" r="3.6"/><circle cx="1109.3" cy="185.9" r="3.6"/><circle cx="1000.5" cy="164.0" r="3.6"/><circle cx="1045.6" cy="172.1" r="3.6"/><circle cx="1197.0" cy="198.6" r="3.6"/><circle cx="1134.7" cy="188.4" r="3.6"/><circle cx="1051.7" cy="172.0" r="3.6"/><circle cx="996.5" cy="170.8" r="3.6"/><circle cx="1229.8" cy="207.9" r="3.6"/><circle cx="1191.9" cy="191.9" r="3.6"/><circle cx="1175.0" cy="188.9" r="3.6"/><circle cx="1176.7" cy="196.8" r="3.6"/><circle cx="1123.5" cy="184.7" r="3.6"/><circle cx="1133.2" cy="182.0" r="3.6"/><circle cx="1072.0" cy="177.8" r="3.6"/><circle cx="1017.1" cy="176.5" r="3.6"/><circle cx="969.4" cy="158.0" r="3.6"/><circle cx="1219.1" cy="210.4" r="3.6"/><circle cx="1154.6" cy="182.7" r="3.6"/><circle cx="1152.2" cy="192.5" r="3.6"/><circle cx="1235.1" cy="214.2" r="3.6"/><circle cx="1212.0" cy="204.4" r="3.6"/><circle cx="1009.4" cy="175.5" r="3.6"/><circle cx="1018.1" cy="167.7" r="3.6"/><circle cx="1197.7" cy="196.9" r="3.6"/><circle cx="1124.2" cy="184.2" r="3.6"/><circle cx="999.9" cy="165.9" r="3.6"/><circle cx="994.0" cy="166.9" r="3.6"/><circle cx="983.6" cy="155.5" r="3.6"/><circle cx="1162.9" cy="180.1" r="3.6"/><circle cx="1013.0" cy="173.8" r="3.6"/><circle cx="1126.3" cy="179.7" r="3.6"/><circle cx="1090.0" cy="182.4" r="3.6"/><circle cx="1222.0" cy="216.3" r="3.6"/><circle cx="1033.3" cy="167.1" r="3.6"/><circle cx="1064.9" cy="168.0" r="3.6"/><circle cx="1113.0" cy="182.4" r="3.6"/><circle cx="1062.9" cy="172.2" r="3.6"/><circle cx="1019.0" cy="175.0" r="3.6"/><circle cx="1148.8" cy="179.2" r="3.6"/><circle cx="1105.1" cy="171.0" r="3.6"/><circle cx="1213.4" cy="197.0" r="3.6"/><circle cx="1067.5" cy="172.3" r="3.6"/><circle cx="1122.3" cy="177.0" r="3.6"/><circle cx="1051.9" cy="170.9" r="3.6"/><circle cx="1216.0" cy="210.5" r="3.6"/><circle cx="1002.8" cy="174.5" r="3.6"/><circle cx="1148.7" cy="179.9" r="3.6"/><circle cx="977.6" cy="157.4" r="3.6"/><circle cx="1011.0" cy="168.9" r="3.6"/><circle cx="1196.9" cy="195.7" r="3.6"/><circle cx="1201.0" cy="198.4" r="3.6"/><circle cx="979.5" cy="172.2" r="3.6"/><circle cx="1157.2" cy="183.0" r="3.6"/><circle cx="1043.7" cy="161.0" r="3.6"/><circle cx="1221.8" cy="204.5" r="3.6"/><circle cx="1138.9" cy="187.2" r="3.6"/><circle cx="1115.8" cy="172.6" r="3.6"/><circle cx="1079.5" cy="169.1" r="3.6"/><circle cx="1051.7" cy="164.4" r="3.6"/><circle cx="1031.8" cy="172.0" r="3.6"/><circle cx="1130.8" cy="187.8" r="3.6"/><circle cx="1065.5" cy="169.5" r="3.6"/><circle cx="1066.1" cy="166.7" r="3.6"/><circle cx="986.2" cy="155.3" r="3.6"/><circle cx="1238.8" cy="208.7" r="3.6"/><circle cx="1085.7" cy="168.3" r="3.6"/><circle cx="1218.9" cy="201.1" r="3.6"/><circle cx="1034.0" cy="164.6" r="3.6"/><circle cx="1056.2" cy="167.9" r="3.6"/><circle cx="1191.5" cy="205.5" r="3.6"/><circle cx="1009.7" cy="176.2" r="3.6"/><circle cx="991.1" cy="157.4" r="3.6"/><circle cx="1087.1" cy="168.3" r="3.6"/><circle cx="1182.5" cy="185.3" r="3.6"/><circle cx="1107.8" cy="185.0" r="3.6"/><circle cx="1121.1" cy="179.7" r="3.6"/><circle cx="1020.1" cy="160.7" r="3.6"/><circle cx="1233.1" cy="220.2" r="3.6"/><circle cx="1144.2" cy="176.2" r="3.6"/><circle cx="974.1" cy="168.2" r="3.6"/><circle cx="1152.8" cy="186.8" r="3.6"/><circle cx="1121.5" cy="183.2" r="3.6"/><circle cx="997.9" cy="167.6" r="3.6"/><circle cx="1210.8" cy="194.1" r="3.6"/><circle cx="1036.1" cy="161.4" r="3.6"/><circle cx="1112.2" cy="172.7" r="3.6"/><circle cx="1238.4" cy="206.6" r="3.6"/><circle cx="1074.1" cy="166.9" r="3.6"/><circle cx="1025.0" cy="176.2" r="3.6"/><circle cx="1160.7" cy="185.3" r="3.6"/><circle cx="1210.4" cy="199.4" r="3.6"/><circle cx="1205.9" cy="195.2" r="3.6"/><circle cx="1218.4" cy="217.4" r="3.6"/><circle cx="1196.6" cy="196.5" r="3.6"/><circle cx="1071.0" cy="165.0" r="3.6"/><circle cx="1206.8" cy="193.4" r="3.6"/><circle cx="1060.5" cy="165.4" r="3.6"/><circle cx="1153.0" cy="182.9" r="3.6"/><circle cx="1206.1" cy="198.6" r="3.6"/><circle cx="1073.0" cy="180.1" r="3.6"/><circle cx="979.0" cy="165.1" r="3.6"/><circle cx="1150.7" cy="174.2" r="3.6"/><circle cx="1206.0" cy="210.4" r="3.6"/><circle cx="1066.1" cy="174.9" r="3.6"/><circle cx="1224.2" cy="203.7" r="3.6"/><circle cx="1169.5" cy="191.3" r="3.6"/><circle cx="1140.9" cy="179.8" r="3.6"/><circle cx="1117.7" cy="183.9" r="3.6"/><circle cx="1098.7" cy="181.1" r="3.6"/><circle cx="1033.3" cy="171.5" r="3.6"/><circle cx="1062.4" cy="164.3" r="3.6"/><circle cx="1122.6" cy="176.4" r="3.6"/><circle cx="1049.3" cy="176.8" r="3.6"/><circle cx="1166.0" cy="194.3" r="3.6"/><circle cx="988.5" cy="167.5" r="3.6"/><circle cx="1011.7" cy="173.9" r="3.6"/><circle cx="1076.2" cy="169.0" r="3.6"/><circle cx="1060.1" cy="164.4" r="3.6"/><circle cx="1206.8" cy="200.7" r="3.6"/><circle cx="1144.6" cy="183.8" r="3.6"/><circle cx="1152.9" cy="178.9" r="3.6"/><circle cx="1130.6" cy="173.1" r="3.6"/><circle cx="1056.9" cy="161.3" r="3.6"/><circle cx="1009.4" cy="164.8" r="3.6"/><circle cx="1189.9" cy="185.1" r="3.6"/><circle cx="1131.6" cy="178.4" r="3.6"/><circle cx="1090.9" cy="174.6" r="3.6"/><circle cx="974.2" cy="164.2" r="3.6"/><circle cx="1007.5" cy="167.4" r="3.6"/><circle cx="1141.1" cy="179.4" r="3.6"/><circle cx="1186.2" cy="187.8" r="3.6"/><circle cx="1225.9" cy="199.8" r="3.6"/><circle cx="1028.0" cy="172.7" r="3.6"/><circle cx="1030.0" cy="169.2" r="3.6"/><circle cx="1174.9" cy="200.9" r="3.6"/><circle cx="1130.5" cy="187.3" r="3.6"/><circle cx="993.3" cy="166.7" r="3.6"/><circle cx="1105.1" cy="171.3" r="3.6"/><circle cx="1208.9" cy="207.4" r="3.6"/><circle cx="1041.4" cy="167.3" r="3.6"/><circle cx="1039.1" cy="159.5" r="3.6"/><circle cx="1206.4" cy="206.4" r="3.6"/><circle cx="1076.1" cy="177.5" r="3.6"/><circle cx="1072.8" cy="182.4" r="3.6"/><circle cx="1070.0" cy="171.9" r="3.6"/><circle cx="1021.0" cy="162.9" r="3.6"/><circle cx="1157.1" cy="178.0" r="3.6"/><circle cx="1200.8" cy="191.4" r="3.6"/><circle cx="1170.5" cy="181.9" r="3.6"/><circle cx="1162.0" cy="183.0" r="3.6"/><circle cx="1152.4" cy="177.8" r="3.6"/><circle cx="1027.2" cy="164.8" r="3.6"/><circle cx="1008.7" cy="172.7" r="3.6"/><circle cx="1187.0" cy="192.2" r="3.6"/><circle cx="1157.3" cy="187.0" r="3.6"/><circle cx="1153.2" cy="181.0" r="3.6"/><circle cx="1109.4" cy="171.7" r="3.6"/><circle cx="1068.3" cy="179.1" r="3.6"/><circle cx="982.3" cy="167.4" r="3.6"/><circle cx="1055.4" cy="172.0" r="3.6"/><circle cx="1184.0" cy="199.2" r="3.6"/><circle cx="1088.0" cy="181.1" r="3.6"/><circle cx="1233.1" cy="205.9" r="3.6"/><circle cx="1174.0" cy="181.9" r="3.6"/><circle cx="1213.9" cy="209.2" r="3.6"/><circle cx="998.9" cy="170.5" r="3.6"/><circle cx="994.4" cy="160.9" r="3.6"/><circle cx="1173.3" cy="195.3" r="3.6"/><circle cx="1161.7" cy="189.4" r="3.6"/><circle cx="1240.5" cy="213.5" r="3.6"/><circle cx="1041.9" cy="173.5" r="3.6"/><circle cx="1052.4" cy="173.0" r="3.6"/><circle cx="1202.3" cy="194.7" r="3.6"/><circle cx="1106.8" cy="184.9" r="3.6"/><circle cx="1113.9" cy="181.5" r="3.6"/><circle cx="1126.7" cy="181.0" r="3.6"/><circle cx="1112.8" cy="184.1" r="3.6"/><circle cx="1121.6" cy="177.9" r="3.6"/><circle cx="1186.8" cy="197.3" r="3.6"/><circle cx="1186.3" cy="190.5" r="3.6"/><circle cx="1047.4" cy="169.8" r="3.6"/><circle cx="994.2" cy="161.4" r="3.6"/><circle cx="1047.1" cy="171.3" r="3.6"/><circle cx="1126.3" cy="177.6" r="3.6"/><circle cx="1166.4" cy="185.6" r="3.6"/><circle cx="1172.5" cy="190.4" r="3.6"/><circle cx="990.8" cy="164.6" r="3.6"/><circle cx="1130.0" cy="187.9" r="3.6"/><circle cx="1063.4" cy="181.6" r="3.6"/><circle cx="1007.4" cy="161.3" r="3.6"/><circle cx="1105.6" cy="181.0" r="3.6"/><circle cx="1022.3" cy="163.7" r="3.6"/><circle cx="1008.7" cy="173.6" r="3.6"/><circle cx="1108.7" cy="175.6" r="3.6"/><circle cx="1125.3" cy="171.4" r="3.6"/><circle cx="1189.0" cy="187.9" r="3.6"/><circle cx="1061.0" cy="164.7" r="3.6"/><circle cx="1020.9" cy="170.4" r="3.6"/><circle cx="1240.3" cy="211.7" r="3.6"/><circle cx="1172.8" cy="200.5" r="3.6"/><circle cx="1062.4" cy="166.3" r="3.6"/><circle cx="1231.6" cy="203.1" r="3.6"/><circle cx="1214.9" cy="208.3" r="3.6"/><circle cx="1128.6" cy="186.0" r="3.6"/><circle cx="1232.3" cy="211.4" r="3.6"/><circle cx="1030.2" cy="168.8" r="3.6"/><circle cx="1092.2" cy="171.6" r="3.6"/><circle cx="1184.4" cy="203.8" r="3.6"/><circle cx="1225.0" cy="214.2" r="3.6"/><circle cx="971.0" cy="162.5" r="3.6"/><circle cx="1189.5" cy="184.8" r="3.6"/><circle cx="1132.5" cy="187.6" r="3.6"/><circle cx="1058.6" cy="170.0" r="3.6"/><circle cx="1136.5" cy="175.6" r="3.6"/><circle cx="1159.0" cy="186.5" r="3.6"/></g>
<path d="M964.3 160.8h0M964.4 158.3h0M973.2 157.7h0M973.9 157.1h0M976.8 158.0h0M979.9 158.7h0M986.3 159.0h0M991.4 160.1h0M995.2 160.2h0M1004.3 163.4h0M1009.1 163.0h0M1014.1 163.6h0M1016.4 164.7h0M1022.7 164.0h0M1032.1 160.7h0M1047.3 163.2h0M1055.2 165.2h0M1057.8 164.9h0M1061.4 164.4h0M1066.6 164.9h0M1068.8 166.6h0M1070.8 166.8h0M1072.2 168.1h0M1073.1 168.6h0M1083.4 168.9h0M1088.8 169.2h0M1089.9 170.3h0M1097.0 170.0h0M1097.0 170.1h0M1101.4 171.5h0M1117.4 174.1h0M1119.0 172.3h0M1140.3 175.4h0M1145.5 175.7h0M1147.7 177.2h0M1151.9 176.8h0M1155.0 179.2h0M1155.7 177.2h0M1162.3 181.0h0M1163.5 181.7h0M1174.2 184.6h0M1181.6 186.6h0M1183.5 185.9h0M1187.7 187.1h0M1191.1 189.3h0M1199.4 189.7h0M1202.7 192.0h0M1206.1 194.7h0M1209.0 196.0h0M1213.8 198.9h0M1214.9 197.8h0M1219.1 199.4h0M1221.6 202.0h0M1229.4 205.6h0M1234.6 205.1h0M1241.1 207.5h0M1241.6 209.4h0M1244.4 208.7h0M1248.3 210.9h0M1251.8 211.0h0M1256.4 213.0h0M1259.4 214.3h0M1261.8 213.6h0M1263.9 215.0h0M1265.4 215.7h0M1273.4 220.9h0M1278.9 221.8h0M1281.8 220.6h0M1285.2 218.3h0M1286.4 218.9h0M1291.0 218.5h0M1293.2 217.4h0M1296.6 217.8h0M1299.7 220.0h0M1301.2 220.7h0M1301.7 221.8h0M1306.4 225.8h0M1314.9 229.8h0M1315.0 231.2h0M1318.7 229.4h0M1327.9 233.1h0M1328.6 234.0h0M1334.6 235.2h0M1337.9 236.0h0M1341.7 241.0h0M1343.7 240.7h0M1348.8 243.5h0M1350.1 245.1h0M1354.5 247.5h0M1358.3 249.6h0M1362.5 252.8h0M1365.6 253.8h0M1366.3 254.9h0M1380.6 256.6h0M1385.0 261.6h0M1388.4 268.0h0M1387.3 269.0h0M1390.4 269.1h0M1394.8 274.5h0M1402.8 276.8h0M1407.5 278.7h0M1408.6 277.0h0M1411.9 278.3h0M1418.3 280.7h0M1420.5 280.1h0M1422.8 280.4h0M1429.4 287.4h0M1431.5 288.2h0M1440.0 295.6h0M1445.8 298.5h0M1447.6 300.3h0M1453.7 300.9h0M1455.0 304.4h0M1462.0 307.2h0M1466.8 312.9h0M1466.3 315.3h0M1475.1 327.9h0M1479.1 332.5h0M1482.2 333.5h0M1483.4 336.7h0M1484.9 337.8h0M1487.8 342.1h0M1493.3 345.4h0M1494.1 346.1h0M1498.9 349.0h0M1501.7 351.0h0M1501.2 352.7h0M1505.5 353.9h0M1511.6 361.1h0M1515.4 362.7h0M1517.2 363.3h0M1526.4 368.1h0M1531.6 371.1h0M1535.2 374.0h0M1536.1 377.5h0M1537.6 380.9h0M1540.7 381.8h0M1543.9 384.7h0M1543.5 388.3h0M1544.9 390.2h0M1546.5 391.6h0M1549.9 393.5h0M1550.5 397.6h0M1555.3 404.5h0M1554.9 407.9h0M1556.3 408.7h0M1558.8 416.6h0M1561.2 420.5h0M1566.3 426.1h0M1567.8 429.2h0M1574.9 438.6h0M1577.1 440.0h0M1578.8 443.4h0M1580.0 445.3h0M1588.5 457.2h0M1597.3 472.1h0M1601.4 473.9h0M1602.8 478.4h0M1609.1 484.8h0M1608.1 486.2h0M1610.1 486.0h0M1610.6 488.0h0M1612.4 491.2h0M1612.9 494.6h0M1614.6 495.3h0M1617.1 499.8h0M1619.9 501.8h0M1621.5 503.9h0M1622.8 508.9h0M1627.5 515.5h0M1634.1 522.6h0M1635.1 525.8h0M1641.1 533.0h0M1641.0 535.5h0M1645.5 540.6h0M1646.5 542.5h0M1651.7 548.0h0M1652.8 552.0h0M1654.1 553.6h0M1657.3 558.5h0M1661.4 565.8h0M1664.6 570.9h0M1665.4 572.4h0M1666.6 575.0h0M1667.5 578.4h0M1669.9 580.4h0M1671.1 584.1h0M1671.6 585.5h0M1673.7 588.4h0M1677.3 590.9h0M1679.2 600.2h0M1688.1 608.7h0M1689.6 610.4h0M1691.3 616.0h0M1693.3 617.7h0M1694.9 620.8h0M1695.0 621.5h0M1698.7 628.0h0M1701.9 635.0h0M1704.5 640.6h0M1707.0 641.9h0M1708.1 646.6h0M1711.8 651.4h0M1715.0 657.9h0M1715.4 659.3h0M1720.4 662.5h0M1721.1 666.3h0M1723.1 668.6h0M1721.7 671.0h0M1725.3 672.9h0M1724.7 677.0h0M1728.2 679.7h0M1726.9 680.3h0M1735.3 691.7h0M1733.7 693.6h0M1738.6 696.9h0M1742.7 707.5h0M1742.8 709.1h0M1744.2 711.7h0M1746.5 716.7h0M1748.6 718.8h0M1749.8 721.5h0M1751.3 722.1h0M1752.8 727.0h0M1755.3 728.9h0M1756.2 730.8h0M1757.2 733.6h0M1759.6 740.6h0M1763.2 745.1h0M1765.3 747.1h0M1765.0 748.3h0M1771.1 757.5h0M1772.5 759.7h0M1778.7 764.7h0M1779.4 765.8h0M1779.4 767.6h0M1785.4 771.9h0M1787.8 781.7h0M1787.5 787.3h0M1791.5 792.4h0M1792.1 794.3h0M1798.3 807.6h0M1800.3 811.7h0M1800.8 816.5h0M1801.7 819.5h0M1803.3 823.7h0M1806.0 827.8h0M1808.0 829.9h0M1810.2 833.5h0M1812.5 839.4h0M1812.4 845.1h0M1820.7 856.5h0M1821.6 860.2h0M1825.7 865.6h0M1826.0 870.9h0M1829.3 875.7h0M1829.5 876.5h0M1830.5 881.3h0M1831.2 884.1h0M1835.4 888.1h0M1835.5 890.1h0M1838.4 895.7h0M1837.6 899.2h0M1841.3 899.4h0M1841.3 903.7h0M1847.3 914.7h0M1848.0 919.5h0M1851.4 920.0h0M1849.6 924.6h0M1853.0 925.6h0M1853.1 929.5h0M1854.2 929.3h0M1856.1 932.1h0M1858.7 940.8h0M1859.8 942.5h0M1862.2 946.3h0M1864.0 949.1h0M1864.7 952.0h0" stroke="#9a9aff" stroke-width="2.2" stroke-linecap="square" fill="none"/>
<path d="M1756.0 743.8h0M2008.7 1154.9h0M1964.2 1136.1h0M1358.2 266.7h0M1531.3 407.8h0M1791.4 822.9h0M2058.8 1336.1h0M2050.8 1042.9h0M1993.4 1093.6h0M2063.3 1337.2h0M2033.4 1262.3h0M2054.1 1113.2h0M2040.9 1208.4h0M2046.0 1318.2h0M2056.5 1235.5h0M1941.8 1095.8h0M2012.2 1011.1h0M1967.6 1164.6h0M1952.6 1045.6h0M1904.5 1043.4h0M2063.0 1107.4h0M2052.5 1206.8h0M2069.6 1061.3h0M2046.0 1176.6h0M2044.3 1236.9h0M1464.2 350.0h0M1966.7 1109.5h0M1980.7 1129.4h0M1852.5 962.2h0M1976.3 1106.5h0M2076.5 1235.3h0M1597.5 491.0h0M2019.4 1043.4h0M2056.3 1242.5h0M2051.7 1087.2h0M2024.5 1094.8h0M1594.6 469.1h0M1987.1 1128.8h0M1928.4 1075.0h0M1923.3 1017.8h0M1970.7 1117.4h0M1706.0 628.4h0M2034.3 1035.1h0M2022.5 1177.7h0M1636.3 534.9h0M2001.6 1084.0h0M2060.5 1094.6h0M1302.1 214.6h0M2067.5 1100.8h0M2068.4 1276.1h0M1980.7 1077.5h0M1959.8 1066.2h0M1552.4 417.2h0M1705.6 628.1h0M2030.4 1103.0h0M1291.2 214.3h0M1952.8 1044.8h0M1939.5 1030.6h0M2021.2 1067.8h0M2078.2 1151.3h0M1991.8 1084.5h0M2021.7 1244.1h0M1960.4 1100.4h0M1290.5 219.1h0M1927.0 1058.1h0M2082.7 1300.0h0M1888.5 1007.7h0M2020.9 1217.3h0M1710.6 659.3h0M2071.6 1269.7h0M1867.2 950.5h0M2038.4 1205.1h0M2068.7 1251.1h0M2019.1 1185.7h0M1523.3 374.3h0M1970.4 1165.2h0M1954.6 1058.0h0M1961.4 1141.6h0M2012.6 1025.7h0M1880.2 982.0h0M1930.9 1088.8h0M1835.0 912.6h0M2007.6 1126.1h0M1438.0 305.1h0M1976.2 1079.3h0M1448.4 324.7h0M1449.3 303.1h0M1952.1 1115.9h0M1949.3 1124.1h0M1960.0 1081.0h0M1963.5 1098.0h0M1718.5 648.2h0M2060.1 1156.5h0M1981.5 1074.5h0M1996.9 1098.7h0M2064.3 1086.8h0M2007.5 1195.7h0M2005.4 1018.5h0M2018.3 1167.0h0M2001.5 1040.6h0M2058.1 1088.5h0M2075.4 1160.6h0M2042.4 1279.3h0M2058.8 1108.4h0M1992.2 1095.2h0M1646.6 557.3h0M2008.2 1061.2h0M2028.9 1193.8h0M1485.9 329.5h0M2032.3 1198.6h0M1929.8 1063.1h0M2042.3 1269.9h0M2071.6 1221.2h0M1824.0 863.2h0M1308.4 238.5h0M1238.0 201.4h0M2031.1 1206.7h0M1744.6 698.3h0M2000.5 1102.2h0M2001.6 1121.8h0M1938.2 1042.3h0M2019.8 1150.7h0M1884.9 1003.5h0M2037.8 1250.6h0M2019.3 1065.7h0M2052.0 1157.0h0M2047.8 1333.8h0M1765.7 790.4h0M2019.9 1161.7h0M1320.7 234.7h0M1656.5 580.7h0M2056.3 1059.7h0M1966.2 1034.7h0M1870.3 961.5h0M2012.5 1043.2h0M2049.7 1270.4h0M1916.2 1032.8h0M1469.3 346.3h0M1926.6 1012.4h0M2004.7 1081.3h0M2005.1 1015.2h0M2002.4 1041.6h0M1388.4 255.8h0M1932.0 1041.5h0M1975.7 1062.4h0M1874.3 968.1h0M2071.4 1188.7h0M1355.5 280.2h0M2073.0 1154.8h0M2040.9 1066.7h0M2021.7 1187.2h0M2066.5 1135.2h0M1644.9 534.9h0M2048.9 1243.0h0M1924.7 1068.2h0M2065.2 1271.2h0M2063.9 1252.9h0M1478.2 348.0h0M2044.6 1136.9h0M1691.5 612.6h0M2060.4 1304.0h0M2072.3 1118.6h0M1557.3 396.0h0M1983.5 1109.4h0M1398.4 306.0h0M1989.8 1083.8h0M1976.4 1143.8h0M2073.8 1088.3h0M1452.1 293.4h0M1888.1 1003.5h0M2067.1 1234.0h0M1883.5 978.5h0M1999.3 1175.5h0M1481.6 335.5h0M1592.4 453.6h0M2082.1 1220.2h0M1951.9 1033.7h0M1411.6 291.8h0M1629.0 505.5h0M1381.9 254.1h0M2041.7 1222.2h0M1966.9 1060.8h0M1915.1 1082.8h0M1997.2 1159.6h0M1283.1 228.7h0M2026.3 1150.5h0M1965.8 1092.3h0M2000.5 1066.4h0M2017.5 1217.7h0M1848.1 906.2h0M1627.9 520.6h0M2073.4 1166.4h0M2042.8 1236.9h0M1390.6 276.9h0M2000.7 1142.9h0M1890.9 1019.5h0M1766.1 760.4h0M1574.6 453.7h0M2016.1 1086.3h0M2019.7 1212.2h0M1907.0 1034.0h0M1256.7 235.0h0M1517.0 389.1h0M2054.8 1126.4h0M1899.1 1059.3h0M2078.1 1178.0h0M1978.8 1122.9h0M1993.5 1156.0h0M1998.5 1042.0h0M2070.4 1147.2h0M2033.2 1065.7h0M1842.4 900.5h0M2082.5 1285.5h0M2008.9 1153.4h0M2003.0 1060.3h0M1914.0 1063.7h0M1798.4 802.7h0M1309.9 226.2h0M1537.3 412.4h0M2031.4 1191.0h0M2019.8 1075.7h0M1983.9 1055.6h0M2051.0 1251.9h0M2058.1 1165.9h0M1936.2 1086.0h0M1454.5 310.5h0M1995.4 1169.8h0M1604.9 505.8h0M1358.1 248.4h0M2011.3 1143.7h0M1980.3 1100.5h0M1943.3 1034.0h0M2018.3 1166.7h0M2009.4 1205.8h0M2033.5 1192.1h0M2044.7 1096.9h0M1788.1 810.2h0M1957.2 1134.7h0M1423.6 290.9h0M1740.1 695.9h0M1359.4 256.1h0M1966.7 1159.2h0M1619.4 503.2h0M2035.2 1231.9h0M2064.5 1056.9h0M2040.0 1089.6h0M2016.9 1023.0h0M1663.5 593.9h0M1810.3 841.3h0M1990.0 1104.2h0M2021.4 1165.0h0M1816.8 885.4h0M1717.1 691.8h0M2021.8 1190.8h0M2076.2 1169.0h0M1510.4 396.6h0M2038.8 1279.2h0M2042.6 1132.9h0M2058.7 1223.0h0M1434.5 321.7h0M2035.1 1191.4h0M2042.3 1263.6h0M1947.4 1131.2h0M1679.4 585.6h0M1650.5 584.7h0M2066.9 1340.0h0M2026.9 1055.5h0M1453.0 315.2h0M1975.0 1099.6h0M1916.6 1077.0h0M1993.7 1129.0h0M2057.0 1114.9h0M1981.5 1102.0h0M2010.8 1122.9h0M2069.7 1153.7h0M1939.5 1068.4h0M2034.8 1182.7h0M1321.7 262.9h0M1632.9 508.7h0M2018.5 1069.2h0M1993.6 1051.2h0M2074.5 1312.5h0M1877.6 982.1h0M1740.3 710.2h0M1323.1 260.6h0M1887.8 1030.6h0M2025.8 1130.2h0M1908.0 1016.2h0M2027.0 1071.4h0M2017.0 1070.7h0M2042.6 1211.9h0M2006.0 1071.3h0M2048.7 1090.1h0M2023.5 1079.7h0M1945.1 1091.1h0M1596.4 493.7h0M1805.6 810.1h0M1880.0 988.8h0M1980.4 1160.4h0M1513.6 400.6h0M2056.1 1305.1h0M1536.6 421.8h0M2058.9 1205.9h0M2032.6 1066.5h0M2065.6 1070.5h0M1538.5 420.0h0M1942.2 1105.6h0M1883.6 1006.3h0M2034.9 1230.9h0M2073.2 1154.6h0M2001.6 1023.3h0M1876.6 1008.9h0M1877.1 1000.8h0M1898.8 1036.9h0M2073.3 1221.9h0M1925.1 1059.7h0M2052.5 1070.0h0M2056.7 1127.4h0M2019.8 1178.2h0M2030.0 1049.7h0M1962.0 1031.3h0M1990.5 1137.7h0M2066.2 1122.7h0M2047.8 1096.0h0M2048.0 1315.4h0M1967.2 1035.4h0M1943.9 1067.2h0M2059.4 1175.9h0M2046.9 1324.0h0M2033.4 1187.8h0M2027.0 1176.0h0M1944.5 1119.7h0M1998.2 1124.5h0M1676.1 609.7h0M2055.9 1307.0h0M1923.0 1017.3h0M1885.5 1008.2h0M2021.7 1053.3h0M2023.1 1212.6h0M2014.6 1105.5h0M1297.3 234.8h0M2069.0 1111.3h0M1817.1 865.2h0M2082.3 1230.1h0M1319.2 249.6h0M1884.1 1022.1h0M1761.9 781.5h0M1643.7 530.5h0M1455.3 335.2h0M1886.0 1027.7h0M1994.0 1137.0h0M2054.3 1062.5h0M2007.0 1147.3h0M1968.8 1079.8h0M1525.4 383.3h0M1397.8 299.4h0M2017.4 1147.6h0M1969.8 1121.3h0M2074.2 1304.2h0M1964.0 1053.5h0M1542.1 377.6h0M1488.5 374.8h0M2008.6 1160.1h0M1944.2 1026.7h0M2033.9 1048.9h0M1308.6 250.3h0M2004.5 1017.6h0M1973.3 1079.3h0M2051.0 1210.8h0M2038.7 1133.3h0M1595.7 489.3h0M2044.2 1082.0h0M1933.5 1067.8h0M2022.6 1136.4h0M2060.2 1052.6h0M1730.8 718.5h0M1806.8 872.9h0M1762.8 732.9h0M2077.6 1246.0h0M2057.1 1085.7h0M2028.4 1051.3h0M2068.9 1128.3h0M2045.6 1157.8h0M1985.5 1068.3h0M1977.2 1173.2h0M1766.3 791.7h0M1532.2 398.7h0M1803.5 826.7h0M1933.2 1058.7h0M1962.7 1029.5h0M1628.8 549.2h0M1795.0 836.7h0M1603.2 510.8h0M2036.8 1158.2h0M1978.2 1079.6h0M2052.8 1153.2h0M1816.7 875.4h0M2034.4 1075.5h0M2004.8 1195.0h0M1295.9 238.0h0M2074.7 1323.3h0M1435.7 319.6h0M2058.0 1067.5h0M2018.1 1197.2h0M2034.7 1174.1h0M2070.6 1321.6h0M2006.9 1089.1h0M1920.2 1020.1h0M1961.0 1073.3h0M2045.4 1222.9h0M1969.0 1082.9h0M1829.9 888.0h0M1547.7 404.5h0M1607.9 497.8h0M1941.4 1054.4h0M2082.8 1252.1h0M2073.1 1230.6h0M1973.8 1129.2h0M2077.4 1204.8h0M2069.1 1280.0h0M1669.7 579.1h0M2064.1 1189.7h0M1919.7 1065.8h0M2040.5 1049.9h0M2012.4 1023.3h0M1920.8 1014.9h0M1812.9 887.8h0M1880.7 989.6h0M1940.8 1095.5h0M2022.0 1069.9h0M2017.1 1151.3h0M2056.8 1283.3h0M1907.4 1079.1h0M1945.7 1092.7h0M1435.7 318.2h0M2020.9 1044.9h0M2016.7 1200.8h0M1387.8 282.9h0M1696.8 640.8h0M1671.3 605.7h0M1317.1 240.6h0M1430.2 308.2h0M2044.3 1059.9h0M2012.3 1174.9h0M1826.4 871.6h0M2030.8 1237.0h0M1532.0 399.6h0M1985.3 1059.3h0M1238.0 218.1h0M2023.8 1171.6h0M1404.7 281.1h0M1418.6 287.6h0M2075.8 1258.9h0M2051.6 1127.3h0M2035.6 1057.9h0M1749.7 746.0h0M1436.1 294.0h0M1980.5 1059.7h0M2073.7 1149.0h0M1966.7 1080.0h0M2068.0 1132.9h0M2070.9 1223.1h0M2015.0 1106.8h0M1993.5 1053.2h0M1854.3 944.1h0M2063.4 1086.5h0M2011.2 1155.4h0M2065.1 1247.3h0M1959.1 1136.7h0M2013.7 1222.2h0M2033.8 1135.0h0M1613.5 526.2h0M2056.1 1045.9h0M1308.0 240.9h0M2070.9 1252.6h0M1978.7 1132.0h0M2046.1 1286.5h0M2068.6 1270.7h0M2047.1 1233.0h0M2043.4 1066.4h0M1638.4 532.9h0M1879.7 1006.3h0M2020.9 1179.7h0M2033.9 1251.3h0M1847.0 948.1h0M1859.7 930.4h0M2073.5 1253.1h0M2049.8 1281.1h0M1963.9 1145.5h0M2044.5 1099.9h0M1861.7 947.3h0M2036.8 1057.0h0M2075.9 1245.3h0M1326.2 263.1h0M1265.5 227.6h0M1785.4 830.8h0M1979.4 1087.7h0M2009.6 1127.4h0M2051.4 1137.0h0M1446.1 312.3h0M1906.5 1028.4h0M1809.2 818.0h0M1909.7 1060.7h0M2040.3 1083.0h0M1946.0 1061.0h0M2002.3 1075.3h0M1918.6 1015.3h0M2040.6 1207.1h0M2009.5 1074.5h0M1914.1 1069.0h0M2004.2 1190.6h0M1990.5 1174.2h0M2070.0 1289.1h0M2074.2 1096.7h0M2025.7 1199.4h0M2045.5 1196.7h0M1574.3 461.1h0M1646.0 531.8h0M2062.4 1201.7h0M2035.6 1138.2h0M1926.3 1042.9h0M2072.1 1079.7h0M1586.0 446.3h0M2018.7 1226.5h0M2064.6 1094.8h0M2067.9 1178.1h0M2037.4 1131.9h0M2075.4 1162.3h0M1803.7 836.7h0M1862.4 970.3h0M2034.1 1090.2h0M1420.9 282.6h0M2026.2 1201.1h0M1243.8 217.0h0M1439.0 305.7h0M1997.1 1158.3h0M2039.9 1193.3h0M1824.2 896.2h0M2059.4 1187.1h0M1520.2 389.6h0M2040.5 1091.9h0M2075.8 1142.2h0M1995.0 1133.6h0M1524.6 372.5h0M2056.4 1235.7h0M1942.2 1019.1h0M2009.0 1004.4h0M1982.6 1156.0h0M1937.4 1037.9h0M2052.8 1044.0h0M1566.4 434.8h0M1637.1 548.8h0M2061.6 1114.1h0M1961.5 1156.8h0M2003.2 1171.6h0M1968.6 1104.1h0M1770.9 785.6h0M1655.2 547.1h0M2000.4 1031.9h0M1456.6 345.8h0M1700.6 633.4h0M2074.7 1303.8h0M1855.2 933.8h0M1418.5 316.9h0M1820.9 884.5h0M2029.1 1089.7h0M2022.6 1085.0h0M1469.8 314.9h0M1996.0 1136.1h0M2058.4 1284.7h0M1548.4 396.9h0M1589.3 480.0h0M1927.9 1050.6h0M2010.3 1095.8h0M2050.4 1229.2h0M2028.9 1137.7h0M1958.9 1076.9h0M1958.4 1082.7h0M1632.3 517.4h0M2033.5 1236.2h0M1988.5 1120.2h0M1955.6 1084.4h0M1429.4 277.3h0M1925.6 1021.5h0M1959.0 1075.6h0M2047.7 1082.5h0M1489.2 373.0h0M2056.8 1064.0h0M2048.0 1344.8h0M1933.3 1062.4h0M2066.4 1306.9h0M2047.9 1183.9h0M2061.9 1214.3h0M1535.4 365.9h0M1882.3 987.6h0M1937.7 1080.0h0M1597.8 474.9h0M2036.9 1138.2h0M2034.2 1172.4h0M1907.7 1055.1h0M2003.2 1161.8h0M1907.8 1070.5h0M1851.5 933.2h0M1986.8 1173.0h0M1969.9 1086.9h0M1879.4 962.7h0M1662.2 560.8h0M1988.5 1153.3h0M1781.9 786.9h0M1748.8 726.8h0M1602.9 492.3h0M2046.3 1278.4h0M2059.7 1065.5h0M1796.4 840.5h0M1974.8 1163.2h0M2035.7 1039.8h0M2051.1 1285.5h0M1252.2 217.1h0M2065.5 1102.3h0M1964.9 1063.4h0M1993.6 1130.1h0M2070.9 1292.7h0M1970.8 1091.0h0M2015.9 1168.3h0M1510.5 351.4h0M2048.5 1181.5h0M2001.9 1174.1h0M1907.6 1061.5h0M1996.0 1140.4h0M1881.1 966.8h0M1935.1 1065.8h0M2061.4 1103.8h0M2033.4 1160.4h0M2071.1 1208.0h0M1307.0 244.4h0M1947.1 1100.8h0M1986.5 1140.3h0M2053.2 1282.8h0M2045.3 1157.4h0M1944.1 1023.4h0M1559.7 416.5h0M1615.6 503.4h0M1766.7 756.6h0M1943.0 1065.7h0M2053.0 1220.5h0M1632.3 519.8h0M2013.3 1186.5h0M2052.2 1042.2h0M1976.0 1077.9h0M1957.3 1128.8h0M2034.9 1070.7h0M2050.0 1099.4h0M1909.8 1069.5h0M1914.9 1089.1h0M1628.5 545.0h0M1855.7 917.1h0M1978.0 1137.8h0M1582.3 440.9h0M2021.2 1072.3h0M1983.8 1144.4h0M1471.0 335.8h0M2004.3 1183.6h0M1497.1 348.6h0M1967.4 1082.2h0M1247.5 228.8h0M1983.9 1077.7h0M1946.6 1095.5h0M1702.6 665.6h0M2044.8 1276.2h0M1657.7 592.1h0M2075.6 1219.0h0M2066.3 1323.9h0M2078.2 1276.9h0M2022.6 1244.3h0M2027.5 1184.5h0M1564.3 442.0h0M2061.8 1254.3h0M2063.9 1310.7h0M2006.2 1123.4h0M1996.6 1122.3h0M1940.0 1029.5h0M1642.7 529.4h0M1778.7 781.6h0M2067.2 1299.1h0M1723.4 699.1h0M1882.4 997.5h0M1982.0 1151.2h0M2026.4 1079.3h0M2039.4 1255.4h0M2012.8 1148.6h0M1519.7 369.5h0M1489.9 360.7h0M2080.0 1308.5h0M1889.5 1028.6h0M2002.4 1119.9h0M1776.8 809.3h0M1719.1 673.6h0M2015.9 1100.4h0M1982.8 1050.0h0M1998.0 1176.9h0M2006.8 1020.6h0M2074.0 1322.5h0M1924.5 1042.6h0M2065.3 1203.8h0M1997.4 1174.9h0M2065.6 1069.6h0M1957.0 1071.0h0M1976.4 1160.4h0M2050.5 1313.7h0M1991.0 1094.0h0M1941.3 1070.5h0M1545.1 381.9h0M1890.9 1023.1h0M1936.8 1019.3h0M2027.1 1168.0h0M2046.8 1171.2h0M1642.9 539.0h0M1803.0 838.1h0M2043.5 1144.6h0M1620.0 499.4h0M1364.4 274.5h0M2058.3 1279.2h0M2060.8 1342.9h0M1766.6 794.5h0M2056.8 1285.0h0M2061.6 1321.9h0M2063.9 1203.6h0M2065.9 1155.2h0M2063.5 1184.8h0M1563.3 451.4h0M1303.1 220.9h0M1909.9 1043.3h0M1787.1 782.4h0M1834.1 912.6h0M2047.5 1120.4h0M2050.2 1224.6h0M2034.5 1037.7h0M1947.2 1077.4h0M2006.9 1048.0h0M2064.0 1222.5h0M1982.0 1104.9h0M1702.2 634.5h0M1590.2 489.1h0M1284.4 230.4h0M2011.1 1004.8h0M2066.7 1288.1h0M2015.6 1069.0h0M1492.5 351.8h0M1489.2 380.7h0M1630.9 557.3h0M2027.9 1087.2h0M1586.2 460.0h0M1981.7 1139.8h0M1811.0 833.2h0M2048.8 1086.8h0M1458.1 306.1h0M1946.9 1119.3h0M2062.9 1241.9h0M1786.7 772.0h0M1866.1 975.5h0M2040.6 1093.2h0M2060.8 1309.2h0M2061.6 1311.9h0M2048.0 1322.9h0M2053.9 1119.1h0M1378.7 288.0h0M2038.7 1174.5h0M1842.7 896.9h0M1988.7 1112.9h0M2030.4 1123.1h0M1915.5 1014.8h0M2042.1 1098.3h0M2061.4 1103.6h0M2006.5 1106.6h0M2078.9 1210.5h0M2049.8 1219.3h0M2054.1 1180.3h0M1578.9 458.7h0M1314.9 248.0h0M2023.9 1225.7h0M1682.2 589.1h0M1599.8 503.7h0M2034.7 1179.2h0M2047.5 1082.6h0M2065.8 1142.7h0M2081.7 1226.6h0M1983.9 1137.9h0M1500.0 360.4h0M1828.5 889.7h0M2036.0 1195.4h0M1982.5 1116.5h0M2053.1 1296.4h0M1288.2 244.6h0M2045.9 1238.0h0M1285.5 238.2h0M2008.8 1092.7h0M1428.6 324.4h0M2041.2 1090.7h0M1918.0 1019.6h0M1336.2 240.0h0M2009.5 1195.8h0M1950.8 1021.0h0M2066.6 1069.0h0M1958.3 1131.4h0M1988.3 1161.2h0M2053.8 1162.1h0M1507.2 354.2h0M1507.6 388.5h0M2053.3 1183.4h0M1886.0 1001.0h0M1482.0 333.8h0M2058.9 1265.4h0M2058.1 1075.4h0M2010.6 1180.7h0M2032.0 1163.0h0M1414.9 293.8h0M2020.9 1069.9h0M1979.6 1060.5h0M2078.5 1292.0h0M1905.2 1020.7h0M1373.1 283.5h0M2064.4 1290.9h0M1533.2 370.4h0M1971.8 1058.9h0M1359.1 256.1h0M1959.0 1054.0h0M1926.9 1100.1h0M1611.6 504.6h0M1988.1 1113.6h0M2074.3 1294.1h0M1909.9 1068.4h0M1546.8 415.1h0M2002.9 1058.6h0M2081.1 1289.6h0M1556.4 397.1h0M2069.5 1323.0h0M1932.6 1056.4h0M2058.1 1143.6h0M1909.7 1015.5h0M2004.3 1192.6h0M1688.7 631.7h0M2008.2 1143.8h0M1929.7 1105.4h0M1995.6 1046.9h0M1952.4 1118.1h0M2030.8 1161.4h0M2052.1 1120.2h0M1624.5 505.3h0M1867.2 963.4h0M1963.5 1081.1h0M2070.5 1297.9h0M1881.3 993.1h0M2018.0 1139.8h0M2060.9 1245.9h0M2041.9 1157.1h0M2044.1 1318.7h0M1822.7 906.8h0M2044.5 1235.3h0M2002.4 1058.5h0M2033.6 1140.1h0M1988.2 1125.1h0M1929.7 1041.0h0M1916.9 1062.6h0M1964.1 1140.8h0M2044.4 1247.3h0M1897.6 1050.0h0M2052.5 1194.6h0M2043.4 1174.8h0M2007.6 1134.6h0M2035.7 1260.2h0M1525.6 408.8h0M1845.6 932.4h0M1914.2 1064.2h0M1990.3 1050.4h0M2050.1 1290.9h0M1884.4 992.7h0M2040.9 1063.6h0M2055.5 1134.7h0M2008.1 1084.9h0M1906.7 1040.4h0M2044.7 1105.4h0M2005.0 1197.6h0M2025.9 1245.4h0M2077.6 1331.2h0M1770.9 801.9h0M1861.8 954.8h0M2011.7 1052.8h0M1967.2 1105.6h0M2034.2 1228.5h0M1958.6 1107.1h0M2071.2 1239.5h0M1686.2 626.7h0M2031.0 1071.6h0M2023.4 1233.3h0M2004.1 1087.5h0M1270.4 240.9h0M1740.0 711.9h0M2068.1 1148.2h0M1889.7 1009.8h0M2041.0 1126.6h0M1673.5 617.4h0M1589.7 458.1h0M2036.6 1216.8h0M1966.9 1084.7h0M2020.1 1041.4h0M2017.3 1178.4h0M2078.9 1189.1h0M1990.3 1164.1h0M1848.8 930.8h0M2060.3 1266.8h0M1909.7 1079.2h0M1705.7 630.1h0M1999.8 1122.2h0M1944.4 1113.6h0M1964.6 1108.3h0M2053.1 1237.8h0M2029.6 1240.7h0M1413.3 293.3h0M1983.2 1066.5h0M1565.4 427.5h0M1968.5 1131.7h0M1246.3 227.6h0M2029.8 1227.6h0M1447.3 304.4h0M2061.0 1284.2h0M2006.4 1042.1h0M1983.2 1146.2h0M2009.8 1134.3h0M1539.6 374.6h0M1926.7 1068.3h0M2013.3 1056.5h0M1963.7 1085.9h0M1985.7 1089.5h0M2019.8 1024.9h0M1999.2 1085.5h0M1861.5 939.5h0M1876.4 995.9h0M1729.1 718.4h0M1892.5 999.1h0M2041.7 1208.3h0M1950.6 1055.1h0M1917.5 1072.7h0M1816.9 890.6h0M1850.7 946.1h0M1536.4 374.8h0M2059.0 1243.6h0M2036.6 1275.2h0M2018.3 1074.4h0M2063.5 1335.0h0M2024.1 1069.2h0M1950.8 1054.8h0M2067.4 1225.1h0M1975.9 1099.6h0M2045.7 1132.7h0M1708.9 665.2h0M2066.8 1107.1h0M1410.6 288.8h0M2027.7 1144.4h0M1797.8 807.7h0M1742.0 716.3h0M1693.4 614.3h0M1989.3 1122.6h0M2059.1 1109.1h0M1920.2 1082.9h0M1713.5 651.0h0M1250.6 225.4h0M2056.4 1163.4h0M2010.1 1083.1h0M2044.2 1067.2h0M1689.3 640.6h0M1761.6 744.0h0M1990.2 1068.0h0M2019.0 1227.0h0M1402.9 282.3h0M2029.0 1095.1h0M1287.8 221.2h0M1254.2 222.3h0M2006.9 1142.6h0M1287.0 237.0h0M1267.3 239.4h0M1478.7 361.7h0M1904.0 1022.5h0M1384.7 298.0h0M1471.7 333.5h0M2068.8 1338.1h0M1389.3 266.0h0M1892.0 1029.7h0M2017.7 1230.5h0M1919.1 1083.1h0M1991.2 1085.6h0M1966.2 1112.7h0M2080.0 1256.3h0M1361.7 243.4h0M2000.7 1025.0h0M2054.3 1063.6h0M1950.5 1066.0h0M2042.6 1146.4h0M1987.6 1168.6h0M1974.8 1106.8h0M1685.0 605.9h0M1554.1 422.8h0M2078.1 1247.9h0M1398.1 287.3h0M1237.1 223.4h0M1987.6 1052.8h0M2048.0 1283.1h0M2043.7 1284.3h0M1592.5 453.1h0M1931.3 1055.3h0M1312.8 254.6h0M2057.2 1123.8h0M2071.3 1138.7h0M1967.5 1161.6h0M1529.7 379.9h0M1998.8 1169.4h0M1933.6 1017.9h0M1958.3 1141.8h0M2004.2 1091.9h0M2010.1 1169.9h0M1509.9 391.6h0M1589.5 455.1h0M2065.5 1149.7h0M1292.6 246.6h0M1822.8 877.2h0M1545.6 406.8h0M1944.6 1092.9h0M1806.6 863.1h0M1962.6 1152.8h0M2011.6 1048.9h0M2046.5 1120.2h0M1907.4 1027.1h0M1688.3 639.0h0M2017.3 1038.9h0M1949.0 1026.1h0M1973.1 1156.4h0M1935.2 1092.6h0M1956.2 1134.9h0M1744.3 733.3h0M2050.4 1126.0h0M1397.0 291.7h0M2011.3 1156.7h0M1455.0 326.6h0M2056.4 1235.0h0M2005.7 1132.6h0M1954.5 1102.0h0M1519.3 372.9h0M1829.0 874.4h0M2012.2 1154.9h0M2033.4 1037.1h0M1916.0 1073.0h0M1906.6 1023.8h0M1949.4 1062.2h0M1503.2 381.2h0M1991.1 1097.1h0M1974.1 1173.7h0M2016.6 1193.6h0M1562.4 409.5h0M2072.1 1186.5h0M1921.0 1016.9h0M1917.6 1018.5h0M1860.6 965.7h0M2027.0 1139.9h0M2005.3 1100.6h0M1979.4 1075.1h0M1469.7 321.6h0M1870.0 996.1h0M1955.1 1022.8h0M2056.0 1261.8h0M2009.6 1169.9h0M1653.2 568.5h0M1893.1 1003.3h0M1935.3 1028.5h0M1489.7 335.4h0M2077.5 1144.6h0M1638.8 556.5h0M1947.6 1058.6h0M2066.3 1058.6h0M2036.8 1116.1h0M1717.2 677.3h0M1253.7 209.1h0M1992.0 1156.6h0M2038.5 1146.4h0M1961.0 1066.4h0M1929.8 1064.6h0M2051.1 1150.4h0M2045.8 1247.6h0M2064.1 1318.0h0M1570.8 423.9h0M1274.8 221.8h0M1966.7 1072.2h0M1954.7 1078.6h0M1990.7 1175.9h0M1837.1 927.8h0M1275.2 224.9h0M1898.8 1030.3h0M1760.7 769.1h0M2064.2 1324.3h0M1606.9 472.0h0M1436.2 299.0h0M2020.6 1071.9h0M1934.2 1095.4h0M2056.6 1103.0h0M1539.6 410.5h0M1981.2 1104.0h0M2073.2 1150.9h0M2040.4 1266.3h0M2020.6 1130.4h0M1834.8 887.8h0M1641.6 540.0h0M1972.7 1152.1h0M1961.7 1083.2h0M1703.3 637.0h0M1990.3 1085.8h0M2050.7 1187.1h0M1990.3 1158.3h0M2059.6 1125.2h0M1958.4 1152.7h0M2012.5 1212.7h0M1854.2 969.0h0M2047.7 1087.8h0M1944.6 1107.9h0M2027.7 1102.2h0M2057.3 1070.2h0M2005.2 1099.7h0M2055.9 1247.1h0M2016.8 1225.9h0M2053.3 1059.3h0M1615.3 537.5h0M2014.4 1164.7h0M1582.5 445.3h0M1949.5 1128.3h0M1458.3 336.7h0M2076.0 1336.9h0M1884.3 1011.1h0M2040.9 1160.3h0M2046.0 1138.8h0M2065.8 1283.5h0M2082.7 1250.1h0M2035.5 1161.0h0M1321.6 245.2h0M1920.1 1080.3h0M2006.6 1130.8h0M1449.8 317.8h0M1962.8 1080.3h0M2030.7 1057.5h0M1953.4 1092.7h0M2036.0 1240.4h0M2073.5 1249.3h0M2076.3 1157.4h0M1893.4 1016.6h0M2050.8 1205.7h0M1759.1 777.8h0M2045.8 1296.7h0M2045.2 1308.9h0M1296.8 242.9h0M1582.6 447.6h0M1921.1 1033.4h0M1854.2 919.9h0M1342.2 264.5h0M1338.3 259.2h0M2064.3 1149.6h0M1987.0 1049.7h0M2010.5 1194.6h0M1911.5 1049.3h0M2070.2 1064.9h0M1448.4 303.8h0M1954.9 1066.0h0M1599.3 471.7h0M1886.0 1019.5h0M2015.6 1116.4h0M2039.3 1157.9h0M1949.6 1109.4h0M2027.1 1034.1h0M1882.2 969.6h0M1596.1 480.8h0M1978.7 1087.4h0M1785.9 821.8h0M1908.0 1039.0h0M1826.6 894.2h0M2052.5 1280.1h0M1758.9 753.6h0M1994.0 1157.1h0M1933.9 1014.4h0M1462.4 310.9h0M1396.0 267.7h0M2011.0 1108.6h0M2004.7 1067.0h0M1587.9 452.0h0M2060.4 1096.8h0M1877.9 964.8h0M1689.9 604.6h0M1301.8 228.5h0M1796.1 791.7h0M1893.9 1027.1h0M1968.4 1164.5h0M1431.3 325.7h0M2028.3 1161.1h0M1984.6 1068.8h0M1958.7 1070.6h0M1681.0 610.2h0M2039.2 1113.9h0M2037.1 1118.7h0M1976.5 1135.1h0M1273.4 240.1h0M1506.3 347.6h0M2066.8 1257.5h0M1716.9 691.8h0M2008.8 1070.3h0M1367.3 263.8h0M2043.8 1182.3h0M2020.7 1123.2h0M2064.3 1097.1h0M1670.4 611.4h0M1631.0 528.3h0M2039.3 1248.6h0M1474.0 350.4h0M2035.4 1164.8h0M1891.8 1026.5h0M2071.8 1134.3h0M1672.7 587.2h0M2065.5 1286.8h0M1360.4 254.5h0M1899.6 1061.1h0M1989.3 1156.5h0M1721.4 683.6h0M1989.7 1106.4h0M2074.7 1286.6h0M2064.3 1066.8h0M2046.4 1056.4h0M2051.3 1149.7h0M1962.3 1155.8h0M2008.4 1115.6h0M2082.5 1273.3h0M2039.2 1180.5h0M2031.0 1149.1h0M2044.1 1107.7h0M1693.4 624.8h0M1932.7 1099.3h0M2005.8 1036.1h0M1818.8 873.9h0M1389.2 278.9h0M2041.4 1183.7h0M1686.6 631.1h0M1682.9 592.7h0M2061.3 1073.6h0M1908.3 1069.2h0M1293.0 216.6h0M2006.4 1067.0h0M1996.1 1055.1h0M1363.3 279.1h0M1409.2 271.0h0M1943.2 1042.1h0M2048.7 1305.5h0M2033.1 1087.6h0M2051.8 1190.3h0M1977.4 1127.9h0M1261.9 208.7h0M1994.6 1167.8h0M1435.9 301.8h0M1286.4 245.5h0M1944.2 1111.1h0M2024.8 1087.0h0M2047.0 1135.5h0M1961.2 1066.0h0M2073.6 1274.0h0M1292.8 235.6h0M2032.5 1103.0h0M1963.1 1069.0h0M1506.9 390.8h0M1241.4 229.0h0M1954.8 1068.8h0M1938.3 1024.3h0M2030.9 1193.1h0M2035.2 1039.2h0M1995.0 1107.1h0M1950.5 1117.4h0M1363.4 254.5h0M1934.5 1089.7h0M1866.4 983.0h0M1555.1 405.4h0M2051.8 1265.9h0M1951.4 1114.6h0M1371.8 278.1h0M2026.3 1219.5h0M2072.1 1341.6h0M1971.4 1082.3h0M1942.8 1020.5h0M1890.7 1024.2h0M1871.4 986.4h0M1987.6 1149.3h0M1937.5 1108.7h0M2045.6 1141.1h0M1807.2 825.0h0M2035.9 1051.2h0M1629.5 506.6h0M2051.5 1042.3h0M2021.8 1076.3h0M2040.0 1048.2h0M1813.0 883.3h0M2007.1 1013.2h0M2080.6 1241.3h0M2056.9 1095.6h0M1338.4 237.4h0M1310.0 256.8h0M1390.9 266.8h0M2076.0 1290.1h0M2057.4 1173.2h0M1977.6 1137.4h0M2037.0 1072.5h0M1319.1 249.3h0M2034.7 1265.1h0M2006.8 1106.7h0M2037.4 1157.8h0M1610.4 498.3h0M2028.1 1101.8h0M1931.5 1025.9h0M1850.7 905.8h0M1890.6 1013.8h0M2041.0 1214.0h0M2034.9 1129.7h0M2067.6 1257.5h0M1673.4 580.3h0M2043.9 1073.8h0M2052.1 1122.7h0M1977.6 1084.3h0M2053.6 1176.1h0M2062.0 1255.4h0M2053.0 1175.6h0M2000.2 1149.9h0M1957.5 1066.6h0M2061.8 1110.9h0M1405.3 275.0h0M2058.8 1196.7h0M2061.4 1202.7h0M1425.2 313.5h0M2023.8 1153.8h0M2064.1 1286.2h0M1446.7 313.5h0M2074.3 1106.6h0M2021.6 1034.8h0M2044.1 1104.9h0M2045.2 1314.9h0M1400.0 293.7h0M2036.4 1110.7h0M1545.8 416.3h0M1607.8 481.6h0M2073.7 1240.0h0M1947.1 1081.4h0M1855.2 945.2h0M1905.3 1065.3h0M2053.5 1042.8h0M1848.2 901.8h0M1858.9 928.3h0M1996.7 1171.8h0M2064.6 1312.8h0M2043.6 1227.9h0M2033.0 1223.9h0M1948.9 1137.3h0M2007.3 1131.4h0M1768.1 778.2h0M2065.0 1146.5h0M1994.2 1050.0h0M2033.5 1064.5h0M1917.4 1057.7h0M2025.5 1140.4h0M1253.0 224.2h0M2024.0 1070.6h0M1528.8 390.3h0M2012.3 1060.9h0M2039.8 1194.1h0M1369.3 274.4h0M1960.5 1062.4h0M2028.1 1198.6h0M1845.6 948.5h0M1458.2 329.6h0M1992.6 1144.1h0M1915.5 1039.6h0M1961.9 1149.9h0M2011.9 1182.7h0M1942.9 1059.9h0M1899.4 1025.2h0M1915.9 1081.2h0M1302.2 215.5h0M2011.5 1067.6h0M1749.4 744.6h0M1814.6 853.6h0M2036.4 1163.4h0M1387.7 267.8h0M1987.5 1091.6h0M1715.6 683.9h0M1686.7 630.3h0M1457.4 306.1h0M1982.3 1141.3h0M2065.1 1344.3h0M1913.7 1089.1h0M1407.3 279.7h0M1592.3 497.3h0M1987.2 1048.6h0M1937.6 1084.2h0M1575.1 434.1h0M1532.9 399.9h0M1955.2 1118.2h0M1850.9 909.6h0M1770.7 790.4h0M1936.1 1059.9h0M2035.1 1192.6h0M1900.9 1024.4h0M1986.7 1170.3h0M1919.6 1022.0h0M1288.0 228.3h0M2054.3 1189.0h0M2053.2 1260.2h0M2081.4 1272.6h0M2003.7 1171.3h0M1965.2 1120.5h0M1781.9 800.2h0M1980.5 1174.5h0M1963.2 1059.9h0M2077.3 1327.9h0M2048.3 1295.2h0M1958.5 1035.2h0M1592.5 465.5h0M1656.3 578.5h0M2048.3 1342.0h0M2062.8 1337.2h0M1940.4 1054.3h0M1483.9 366.4h0M1968.4 1068.3h0M2019.1 1119.4h0M1978.2 1173.4h0M1878.4 1000.8h0M2080.6 1227.6h0M1987.6 1104.5h0M1468.5 318.6h0M1474.2 363.2h0M2036.8 1083.4h0M1534.9 379.2h0M1966.9 1139.9h0M2006.6 1052.7h0M2063.2 1090.1h0M2049.7 1053.3h0M2012.1 1177.4h0M1789.3 794.9h0M1998.1 1056.4h0M1945.5 1069.7h0M2081.7 1213.7h0M1881.1 1017.9h0M1712.4 673.9h0M2004.2 1120.8h0M1337.7 240.9h0M2064.7 1072.0h0M1982.6 1150.2h0M1780.3 806.7h0M2018.0 1165.2h0M1701.6 619.7h0M1965.9 1034.5h0M1959.1 1137.8h0M1965.4 1050.5h0M1959.7 1106.2h0M2070.1 1295.5h0M2025.5 1168.0h0M2070.8 1081.2h0M1791.8 802.6h0M2018.3 1168.6h0M1312.7 242.9h0M2074.5 1112.2h0M1470.5 340.4h0M1971.0 1163.0h0M2065.8 1068.9h0M1828.6 861.4h0M1328.1 248.0h0M1991.8 1105.1h0M2021.6 1174.1h0M2006.0 1177.3h0M2007.9 1169.5h0M2011.8 1058.0h0M2049.3 1333.9h0M1747.7 754.9h0M2027.9 1197.6h0M1883.9 1027.2h0M1947.2 1116.1h0M1542.6 387.2h0M1887.4 1026.2h0M1991.6 1174.2h0M1370.4 258.2h0M2062.3 1120.2h0M2079.1 1283.2h0M2030.8 1203.9h0M2029.4 1118.0h0M2067.0 1072.6h0M2012.9 1174.0h0M1374.7 249.3h0M1954.3 1049.1h0M1837.6 935.6h0M1792.3 820.9h0M2026.1 1114.2h0M2025.5 1163.2h0M1931.3 1063.4h0M2022.8 1093.7h0M2040.7 1170.6h0M1776.4 765.0h0M1468.9 313.1h0M2070.8 1278.7h0M1999.7 1099.4h0M1961.5 1054.6h0M1536.6 391.4h0M1623.6 495.9h0M2022.4 1238.8h0M1957.3 1130.7h0M1345.7 261.5h0M1788.4 817.6h0M2012.8 1175.9h0M2048.9 1050.6h0M2021.4 1207.6h0M1962.4 1026.7h0M1967.6 1070.8h0M1934.8 1027.0h0M2045.5 1044.1h0M1881.8 1016.1h0M1667.9 611.6h0M1955.2 1075.5h0M1941.6 1078.3h0M2082.9 1331.5h0M2072.8 1249.7h0M1991.1 1112.4h0M1988.0 1102.9h0M1964.1 1156.8h0M2051.4 1337.1h0M2045.6 1138.9h0M1795.5 831.9h0M1936.5 1054.2h0M2029.1 1161.5h0M1926.6 1045.5h0M2069.1 1238.8h0M1988.1 1168.2h0M2056.3 1292.0h0M2015.0 1099.5h0M2006.9 1102.7h0M1918.4 1084.8h0M1997.1 1135.3h0M1977.7 1067.0h0M2009.1 1094.3h0M2030.0 1185.6h0M1906.4 1039.4h0M1787.4 776.4h0M1692.4 634.5h0M2036.4 1116.3h0M1578.2 436.9h0M1273.5 223.3h0M1956.9 1110.7h0M1911.4 1086.7h0M2052.0 1058.5h0M2052.2 1137.5h0M1314.7 251.9h0M2070.0 1114.0h0M2081.9 1279.2h0M1566.2 425.5h0M2020.6 1129.0h0M1687.8 614.6h0M2009.1 1098.4h0M1319.4 227.5h0M2024.9 1194.4h0M2021.3 1133.2h0M1905.6 1014.0h0M2039.7 1218.9h0M2007.7 1078.9h0M1792.0 844.7h0M2048.3 1314.9h0M2030.2 1037.3h0M2008.0 1084.5h0M2041.1 1232.1h0M1981.4 1176.0h0M2004.8 1176.7h0M1675.0 600.3h0M1975.8 1054.1h0M1913.2 1051.1h0M1415.8 280.1h0M2015.9 1031.5h0M2047.2 1111.7h0M1812.3 865.5h0M2071.4 1280.1h0M1888.6 1028.4h0M2005.5 1174.7h0M2079.0 1186.0h0M2067.5 1294.0h0M2028.0 1148.4h0M1950.0 1082.9h0M2053.7 1202.8h0M1845.6 917.2h0M2010.4 1169.6h0M2045.4 1218.6h0M2011.3 1145.0h0M2001.2 1159.8h0M1805.9 859.2h0M2079.3 1217.6h0M2066.7 1277.3h0M1957.7 1089.6h0M1472.9 342.8h0M2021.6 1121.9h0M1983.1 1121.1h0M1957.4 1066.4h0M1921.5 1094.8h0M1942.9 1028.0h0M1486.3 371.8h0M2063.2 1144.8h0M1998.5 1091.2h0M1408.6 276.1h0M2068.0 1220.9h0M1280.1 220.8h0M1905.3 1065.5h0M1326.0 234.4h0M1534.0 395.8h0M2013.7 1189.1h0M1987.5 1114.3h0M2062.3 1054.3h0M1653.0 561.5h0M1305.5 225.6h0M2033.1 1140.8h0M2041.9 1193.9h0M1920.3 1073.3h0M1976.7 1075.8h0M1977.9 1083.6h0M2045.2 1253.8h0M2003.7 1147.7h0M2006.5 1134.6h0M1458.8 317.4h0M1969.7 1098.3h0M2066.7 1199.9h0M2055.1 1139.5h0M1938.4 1046.0h0M1551.2 434.6h0M2053.6 1236.9h0M1959.5 1132.9h0M2050.8 1262.9h0M1286.7 233.8h0M1797.9 831.1h0M2043.5 1227.6h0M2052.5 1299.0h0M2031.8 1186.1h0M1922.7 1019.4h0M2046.1 1156.1h0M1431.8 322.0h0M2044.8 1151.0h0M1921.5 1058.2h0M1909.6 1082.7h0M1993.9 1093.3h0M1986.8 1141.6h0M1998.9 1193.1h0M1523.7 381.0h0M1376.2 287.9h0M1964.6 1114.7h0M1928.1 1042.5h0M2064.3 1054.4h0M1484.7 363.4h0M1403.6 295.9h0M1279.9 227.8h0M1371.2 264.7h0M2027.1 1168.5h0M2067.6 1198.7h0M1579.1 439.8h0M1980.1 1124.7h0M2080.7 1289.1h0M2060.3 1312.8h0M1559.6 403.0h0M2047.0 1092.0h0M2048.8 1231.8h0M1916.8 1033.9h0M2037.1 1268.1h0M2019.4 1047.8h0M1634.5 525.8h0M2039.0 1267.1h0M2003.5 1033.1h0M2041.2 1050.8h0M2064.1 1094.6h0M1517.9 389.9h0M1687.7 602.2h0M1993.0 1080.5h0M1830.1 880.3h0M2079.7 1305.0h0M1810.5 854.6h0M1978.4 1174.3h0M1997.2 1099.0h0M1284.0 212.4h0M1782.8 779.0h0M1772.5 797.2h0M1996.1 1163.6h0M2067.5 1191.2h0M1506.6 388.9h0M1986.2 1062.9h0M2040.4 1264.3h0M1554.1 424.8h0M2059.7 1174.4h0M1923.7 1035.7h0M1998.6 1041.6h0M2074.3 1119.5h0M2037.6 1093.0h0M1950.9 1066.0h0M1296.6 223.3h0M2004.4 1190.4h0M1460.5 341.2h0M1917.2 1072.8h0M1271.4 220.6h0M1963.6 1136.7h0M1977.2 1060.0h0M1981.2 1108.8h0M1542.7 406.2h0M1962.8 1050.4h0M2082.6 1281.8h0M2065.2 1278.4h0M2014.9 1133.7h0M2018.3 1111.3h0M1237.6 217.8h0M1931.3 1059.0h0M1980.9 1127.4h0M2013.7 1029.0h0M1700.3 640.8h0M1914.4 1079.3h0M2034.0 1261.8h0M1585.5 478.4h0M1813.3 827.6h0M1954.3 1133.4h0M1981.5 1104.6h0M1904.1 1017.8h0M2015.0 1034.2h0M2032.6 1152.9h0M2015.3 1064.7h0M1883.4 1002.0h0M2065.9 1215.8h0M2050.1 1261.3h0M1920.0 1076.8h0M2054.8 1230.9h0M2071.7 1147.6h0M1963.2 1037.9h0M1740.3 726.8h0M1666.0 573.4h0M1996.8 1083.1h0M1581.9 460.7h0M2037.4 1210.5h0M1982.6 1147.0h0M2020.6 1149.7h0M1454.7 321.5h0M1989.7 1098.7h0M2036.9 1177.7h0M1538.9 406.9h0M1597.0 502.0h0M1893.4 1034.1h0M2012.2 1154.1h0M2058.2 1050.9h0M1954.6 1040.6h0M2076.2 1249.2h0M2055.1 1157.5h0M1890.5 1006.9h0M2009.8 1068.8h0M1890.2 1003.3h0M1874.0 970.5h0M2052.1 1327.1h0M1381.7 248.9h0M1977.8 1099.5h0M1533.5 393.4h0M2021.0 1159.0h0M1924.6 1069.9h0M2048.6 1294.5h0M1848.4 921.6h0M1465.5 322.4h0M2045.0 1048.9h0M2036.2 1094.9h0M2039.3 1078.1h0M1921.7 1051.0h0M1713.7 688.6h0M1741.6 715.1h0M2005.7 1108.5h0M2057.2 1307.4h0M1923.5 1047.8h0M1957.1 1083.4h0M1921.2 1050.7h0M2054.1 1283.9h0M2039.8 1056.7h0M2037.1 1141.0h0M2056.9 1339.7h0M1977.1 1056.8h0M1909.1 1032.3h0M2019.4 1052.4h0M1711.2 671.4h0M1291.2 241.8h0M1666.7 561.3h0M1957.5 1083.9h0M1675.2 580.7h0M1954.2 1020.5h0M1922.3 1086.8h0M2056.0 1227.4h0M1516.9 372.9h0M1988.6 1155.3h0M1456.6 315.5h0M2029.5 1173.1h0M2068.2 1064.0h0M1980.9 1111.3h0M1674.2 596.0h0M1997.0 1133.5h0M2024.2 1223.9h0M2009.7 1130.8h0M1477.4 317.5h0M2031.9 1112.3h0M1964.6 1066.5h0M1977.5 1054.0h0M1968.8 1087.5h0M1872.2 992.8h0M1930.8 1014.0h0M1378.5 277.5h0M2053.1 1090.3h0M2007.9 1024.0h0M1804.4 824.6h0M2068.5 1231.5h0M1706.4 649.2h0M2018.1 1112.3h0M2071.2 1179.6h0M1831.7 889.6h0M1986.3 1151.2h0M2040.6 1080.5h0M2075.2 1176.1h0M1370.5 287.4h0M1613.7 488.7h0M1857.8 941.4h0M1953.5 1099.8h0M1816.9 840.7h0M2053.5 1192.1h0M2037.4 1255.7h0M2047.6 1110.9h0M1540.1 391.9h0M1850.2 907.0h0M2061.2 1083.6h0M1278.4 230.7h0M1972.7 1109.6h0M2065.3 1159.0h0M2007.2 1031.8h0M1949.2 1130.3h0M1958.4 1041.9h0M1773.8 757.9h0M1989.6 1054.6h0M2079.0 1288.3h0M1986.2 1130.2h0M1981.1 1085.0h0M2058.1 1133.0h0M1860.0 936.2h0M2014.5 1227.0h0M2005.7 1118.2h0M1755.4 717.4h0M1832.9 906.5h0M1437.0 311.2h0M2045.5 1139.1h0M1911.6 1057.9h0M2076.2 1293.5h0M2042.9 1199.2h0M1975.6 1154.6h0M2052.8 1106.7h0M1909.3 1020.8h0M1918.4 1075.3h0M1782.3 767.8h0M1299.3 243.3h0M1953.7 1099.0h0M1449.1 301.2h0M1648.0 581.5h0M1997.2 1058.0h0M1495.2 370.1h0M2025.7 1226.9h0M2055.4 1212.2h0M1631.0 533.7h0M1993.0 1042.7h0M2049.7 1278.4h0M2055.6 1142.8h0M2034.7 1144.2h0M1955.6 1066.4h0M2039.1 1152.6h0M1238.0 229.1h0M1995.1 1059.0h0M1723.0 700.3h0M1986.7 1058.8h0M2017.1 1055.7h0M2080.6 1327.4h0M2055.2 1318.1h0M2044.5 1235.7h0M1463.5 312.9h0M2023.0 1091.2h0M2019.6 1225.4h0M2029.3 1128.2h0M1923.5 1038.5h0M2040.0 1126.6h0M2012.3 1084.2h0M2027.6 1257.4h0M2040.5 1230.8h0M1706.0 642.4h0M2053.7 1093.6h0M2054.9 1076.8h0M2009.4 1061.6h0M1962.8 1093.2h0M2038.9 1235.9h0M1753.1 726.9h0M1779.2 791.3h0M1954.8 1132.0h0M2049.2 1210.3h0M2071.8 1287.7h0M2042.6 1109.9h0M2068.7 1320.1h0M1894.3 1007.2h0M2064.7 1203.5h0M2017.0 1142.3h0M2005.7 1125.5h0M1338.9 246.3h0M2011.9 1066.9h0M1953.5 1086.2h0M1926.8 1072.1h0M2056.5 1197.7h0M1792.4 823.4h0M2041.8 1234.1h0M2045.2 1171.9h0M1912.0 1072.5h0M2025.1 1199.9h0M1668.8 595.0h0M2020.5 1226.1h0M1931.7 1093.9h0M2071.3 1075.4h0M2080.2 1267.0h0M2066.6 1192.0h0M2013.6 1116.2h0M1930.0 1031.7h0M2064.6 1293.0h0M1513.9 376.1h0M1838.7 938.1h0M1943.9 1062.8h0M1980.9 1086.6h0M1948.9 1116.1h0M1962.8 1055.9h0M1988.0 1173.0h0M2058.2 1106.7h0M1643.9 576.3h0M2076.9 1235.7h0M1721.2 691.3h0M1578.9 468.7h0M2049.0 1245.2h0M1792.1 784.0h0M1625.5 536.0h0M2068.6 1161.1h0M1996.0 1178.1h0M1903.9 1013.3h0M2036.7 1078.5h0M1374.1 281.6h0M2022.1 1204.7h0M2000.0 1181.4h0M1390.6 289.2h0M1900.1 1031.6h0M1436.1 291.4h0M1916.7 1071.9h0M2034.3 1038.3h0M1966.5 1146.3h0M2069.3 1301.8h0M2019.8 1062.3h0M1578.8 468.1h0M2049.0 1261.9h0M2064.5 1115.7h0M2046.5 1199.3h0M2048.2 1124.2h0M2048.4 1196.8h0M2068.4 1281.2h0M1260.7 224.2h0M2026.4 1123.3h0M2008.8 1119.6h0M2071.6 1249.0h0M2070.0 1244.7h0M1950.8 1024.5h0M1994.0 1173.6h0M2065.8 1160.9h0M2064.3 1155.3h0M2070.7 1123.4h0M1846.8 952.6h0M2070.1 1173.7h0M2074.6 1319.9h0M2059.3 1226.2h0M1428.7 281.4h0M1560.5 434.9h0M2044.2 1281.2h0M2062.3 1180.6h0M2071.5 1232.8h0M1339.5 241.8h0M1934.5 1019.1h0M1941.4 1019.1h0M2049.3 1202.3h0M1943.6 1068.0h0M1734.6 707.1h0M1288.7 226.4h0M2037.1 1215.0h0M1549.7 392.2h0M2066.2 1280.7h0M2062.6 1289.7h0M2079.9 1217.5h0M2078.0 1268.1h0M1840.7 927.1h0M1842.5 915.2h0M1600.7 495.8h0M2032.3 1241.0h0M2004.1 1183.4h0M2065.0 1101.3h0M1773.9 768.7h0M1896.6 1008.6h0M1996.4 1064.7h0M1623.9 505.3h0M2050.7 1263.7h0M2049.3 1101.1h0M2033.5 1260.8h0M1866.2 957.3h0M1535.4 367.5h0M2065.0 1087.0h0M1816.8 884.8h0M2075.8 1262.0h0M2020.4 1209.5h0M2080.0 1299.0h0M2011.6 1168.6h0M2046.6 1291.6h0M2016.9 1180.8h0M2004.5 1108.6h0M1324.7 225.0h0M2077.0 1274.8h0M1801.3 812.4h0M2017.5 1095.8h0M2029.9 1192.1h0M1632.1 556.7h0M1977.4 1111.6h0M2055.7 1282.0h0M2042.4 1063.6h0M1885.2 1027.4h0M2017.7 1117.5h0M2030.8 1144.9h0M1951.2 1126.0h0M2035.6 1090.5h0M1966.0 1089.6h0M1447.4 311.3h0M1926.3 1102.7h0M1900.1 1044.4h0M2057.3 1070.9h0M2023.3 1075.3h0M1536.1 421.2h0M1533.4 415.7h0M1757.0 768.8h0M2016.5 1101.3h0M2039.7 1279.6h0M2016.5 1024.6h0M1343.6 253.9h0M1945.8 1025.8h0M1627.9 546.5h0M1430.4 278.2h0M2054.1 1313.6h0M1814.1 877.6h0M1991.1 1113.1h0M1958.1 1112.5h0M2040.3 1149.2h0M1948.1 1096.6h0M1965.9 1142.7h0M2057.0 1264.8h0M1951.4 1107.7h0M2049.6 1197.2h0M1735.4 692.5h0M1846.2 922.9h0M1940.2 1067.0h0M1984.8 1164.6h0M2033.2 1087.0h0M1701.6 649.5h0M2048.0 1225.8h0M2060.3 1074.9h0M1418.7 285.3h0M1915.0 1050.2h0M2031.2 1239.5h0M1384.8 282.9h0M1970.7 1062.7h0M1286.3 234.9h0M1706.9 653.6h0M2033.2 1117.6h0M1750.2 705.8h0M1529.6 414.3h0M1590.8 455.7h0M1964.4 1055.6h0M1257.7 215.5h0M1954.6 1061.4h0M2082.5 1295.8h0M2060.7 1315.2h0M1623.8 497.6h0M1946.3 1110.3h0M1988.3 1131.4h0M2034.8 1174.6h0M1737.1 699.4h0M2030.2 1131.5h0M1328.3 248.8h0M1921.8 1029.0h0M1935.7 1067.7h0M1307.9 252.6h0M1953.2 1077.3h0M1518.2 397.5h0M1476.4 334.1h0M2037.9 1132.7h0M1636.3 545.4h0M1901.9 1034.7h0M2040.7 1149.7h0M1730.5 701.5h0M2022.6 1139.9h0M1971.6 1148.6h0M2037.7 1159.0h0M2074.6 1142.3h0M1953.6 1143.4h0M2037.2 1227.1h0M2038.1 1192.3h0M2038.8 1171.1h0M1786.4 767.6h0M1929.3 1099.4h0M2051.1 1137.6h0M1925.9 1104.5h0M2053.2 1095.2h0M1609.9 481.8h0M1898.2 1041.0h0M1333.0 251.1h0M2068.4 1165.4h0M2029.4 1222.5h0M2049.2 1185.9h0M2046.8 1247.6h0M1832.9 904.3h0M2032.4 1063.1h0M1975.3 1148.4h0M1428.2 316.7h0M2013.9 1114.4h0M2031.1 1079.6h0M2082.1 1263.5h0M1516.8 394.8h0M1442.8 310.2h0M2050.3 1173.9h0M1983.5 1098.7h0M2057.1 1101.7h0M2054.9 1047.4h0M1948.7 1065.4h0M2048.8 1044.2h0M1514.4 364.8h0M2067.7 1257.5h0M1976.5 1170.6h0M1982.2 1148.4h0M1982.4 1078.8h0M2078.9 1208.0h0M1444.3 311.0h0M1959.5 1040.2h0M2032.3 1139.5h0M1890.1 1015.6h0M2056.5 1244.6h0M1882.7 1005.1h0M2071.7 1272.4h0M2025.2 1114.2h0M1635.8 532.6h0M2020.3 1168.0h0M1654.4 554.5h0M1982.9 1115.3h0M1984.5 1172.7h0M2068.6 1063.3h0M1814.5 867.4h0M1989.4 1156.6h0M2061.7 1333.8h0M1875.9 985.9h0M1936.6 1115.0h0M1981.5 1117.1h0M1717.4 682.3h0M1892.8 1011.6h0M1976.8 1081.2h0M1990.3 1148.6h0M1950.6 1138.7h0M1543.6 382.7h0M1969.9 1061.8h0M1271.6 228.8h0M1361.3 259.3h0M1919.5 1022.8h0M2066.9 1335.8h0M2027.7 1185.4h0M1958.4 1150.8h0M1996.0 1100.6h0M2056.4 1058.9h0M1547.7 413.7h0M1521.8 398.7h0M2041.7 1221.0h0M1395.9 283.5h0M1983.7 1147.4h0M2027.9 1080.1h0M1894.7 1049.6h0M2053.6 1155.2h0M2005.9 1043.7h0M2003.6 1075.6h0M1982.4 1109.8h0M2037.6 1252.2h0M2031.8 1136.7h0M1909.0 1047.5h0M1554.3 424.2h0M2018.0 1136.6h0M1313.0 228.0h0M2079.0 1233.6h0M1966.7 1079.7h0M2071.6 1063.7h0M2006.6 1115.4h0M1511.2 382.8h0M2031.3 1062.0h0M1997.5 1161.3h0M1605.6 499.0h0M1967.5 1148.5h0M1779.8 793.0h0M1882.0 1018.1h0M1867.8 986.4h0M1473.3 313.7h0M2063.1 1306.0h0M1674.9 574.7h0M1822.0 860.1h0M2023.1 1144.8h0M2013.2 1216.9h0M1976.7 1051.2h0M1979.9 1063.1h0M2049.0 1099.6h0M1905.0 1018.9h0M1992.5 1080.7h0M1518.2 395.2h0M2047.1 1321.7h0M1565.1 422.3h0M2080.7 1316.8h0M1914.9 1050.9h0M2069.3 1303.4h0M2013.4 1056.3h0M2009.2 1047.7h0M1596.6 468.0h0M1928.1 1058.1h0M2056.9 1191.1h0M2057.3 1263.8h0M1450.8 307.9h0M2001.9 1119.6h0M1509.9 386.8h0M1508.9 390.9h0M1549.9 389.1h0M2069.9 1245.6h0M1927.7 1019.3h0M1908.7 1075.3h0M2050.1 1049.6h0M2057.4 1336.7h0M1608.5 515.2h0M1979.1 1100.2h0M2003.6 1178.4h0M2059.0 1187.9h0M2051.2 1207.6h0M2064.6 1272.3h0M2035.7 1149.8h0M2036.1 1167.7h0M1909.7 1037.3h0M1754.1 736.4h0M2064.6 1337.3h0M2049.3 1325.1h0M1482.0 325.9h0M2067.0 1060.7h0M1521.9 386.6h0M1561.6 422.4h0M1917.7 1050.2h0M1769.0 767.7h0M2018.9 1028.2h0M1286.9 232.6h0M1782.7 759.2h0M1904.0 1029.5h0M2031.3 1097.0h0M1983.1 1128.2h0M1956.4 1095.8h0M2080.1 1282.4h0M1895.2 1041.4h0M1396.4 292.9h0M2012.7 1084.0h0M1680.3 611.4h0M1769.5 799.6h0M1973.6 1107.1h0M1902.1 1028.4h0M2043.5 1077.1h0M2013.8 1226.7h0M2074.6 1238.6h0M2067.7 1277.7h0M2063.1 1128.2h0M1461.3 341.0h0M1946.7 1029.3h0M1660.4 601.6h0M1961.7 1064.2h0M2067.9 1270.6h0M1901.3 1066.7h0M2077.7 1262.0h0M1456.2 305.9h0M1486.0 366.5h0M2041.8 1187.9h0M1879.4 987.0h0M2027.2 1056.5h0M1893.3 1019.1h0M1887.3 1003.4h0M2043.3 1130.3h0M2034.7 1128.4h0M1725.4 672.3h0M2081.5 1222.9h0M1921.1 1085.2h0M2028.8 1088.5h0M1982.2 1145.6h0M2062.2 1102.6h0M1317.8 237.2h0M1928.5 1043.0h0M2067.5 1092.5h0M2023.7 1130.7h0M2052.2 1242.1h0M2078.5 1175.8h0M1958.4 1131.8h0M1986.0 1059.9h0M1950.9 1044.6h0M2003.5 1102.2h0M2039.8 1224.8h0M2053.8 1076.0h0M2074.5 1202.7h0M1290.0 222.1h0M1883.6 1027.5h0M1710.2 669.9h0M2015.3 1069.5h0M1960.4 1128.6h0M1903.1 1040.0h0M1959.0 1116.8h0M2068.3 1240.5h0M1572.2 458.1h0M1967.3 1140.2h0M1714.6 679.5h0M1577.3 451.5h0M2027.1 1173.1h0M1503.8 347.7h0M1853.8 939.2h0M2011.3 1195.5h0M1717.1 670.7h0M2054.4 1097.6h0M2078.0 1251.2h0M2061.6 1148.7h0M1983.8 1071.6h0M2062.9 1087.5h0M1462.2 324.6h0M2068.4 1221.1h0M1531.4 369.8h0M2051.4 1297.3h0M2059.4 1209.4h0M1968.9 1119.0h0M2058.2 1321.2h0M1837.5 931.4h0M2069.3 1123.5h0M1460.4 342.1h0M2067.7 1112.8h0M2074.0 1150.9h0M1974.9 1101.4h0M1976.7 1176.9h0M1953.7 1075.0h0M1945.7 1066.9h0M2064.5 1150.0h0M1614.8 508.6h0M1885.2 1029.3h0M1396.8 288.9h0M1962.3 1024.5h0M2043.0 1202.3h0M2033.8 1132.4h0M1911.4 1083.1h0M2006.4 1184.5h0M2058.9 1318.2h0M1803.7 804.8h0M1617.4 515.2h0M1984.3 1113.1h0M1477.7 357.6h0M1444.7 313.7h0M1551.0 404.4h0M1481.6 347.2h0M2069.3 1127.9h0M1377.8 265.1h0M2071.6 1341.5h0M2003.0 1184.3h0M1509.5 383.7h0M1797.3 798.9h0M1492.2 336.4h0M2009.9 1018.9h0M2012.4 1130.6h0M2028.3 1164.8h0M1957.6 1098.0h0M1312.9 246.9h0M2024.0 1213.9h0M1937.4 1105.9h0M2043.6 1187.6h0M2049.2 1051.5h0M2052.8 1165.8h0M1523.4 402.4h0M1639.3 540.1h0M2017.2 1059.9h0M1932.8 1060.2h0M1658.7 548.2h0M1610.1 487.6h0M2057.7 1310.3h0M2081.3 1334.6h0M1814.7 873.0h0M1878.6 982.3h0M2026.8 1059.5h0M2066.0 1231.9h0M1353.1 246.6h0M1679.3 609.9h0M1253.6 234.4h0M1902.3 1018.7h0M2073.0 1121.8h0M1984.9 1054.3h0M1951.4 1036.6h0M2032.0 1218.5h0M2004.5 1195.7h0M2074.2 1234.1h0M2016.4 1105.4h0M1996.1 1156.8h0M2018.7 1194.9h0M1986.6 1080.8h0M2064.7 1203.7h0M1962.5 1117.1h0M2005.4 1037.7h0M2076.3 1255.8h0M1944.6 1056.4h0M1628.7 552.9h0M1894.8 1034.5h0M1991.7 1096.1h0M1335.4 258.3h0M1973.4 1044.9h0M1259.6 209.2h0M1387.2 288.0h0M2004.3 1199.5h0M2036.6 1225.7h0M1678.6 608.0h0M1676.2 622.8h0M1311.6 245.5h0M2065.4 1103.4h0M2048.8 1102.0h0M1663.3 558.4h0M2025.9 1180.9h0M1922.8 1050.2h0M1790.6 774.6h0M2039.4 1051.7h0M1612.6 522.4h0M1900.5 1024.8h0M2031.1 1187.4h0M1502.3 367.7h0M1969.5 1102.0h0M1548.6 401.5h0M2013.2 1134.9h0M2031.5 1246.9h0M2006.5 1191.1h0M2003.3 1105.5h0M2024.7 1079.4h0M1865.1 956.8h0M1925.0 1081.6h0M2062.7 1306.5h0M2081.1 1275.4h0M1738.2 720.0h0M1605.0 502.3h0M2023.6 1248.5h0M2023.0 1185.0h0M1942.1 1048.1h0M1420.5 304.2h0M1914.6 1020.5h0M2076.8 1339.8h0M2034.1 1091.6h0M1948.5 1023.3h0M1959.9 1069.9h0M2070.3 1269.3h0M1961.0 1091.9h0M2061.6 1268.8h0M1639.8 549.1h0M2060.5 1192.8h0M1372.4 258.3h0M1994.7 1085.5h0M1792.2 781.0h0M1739.2 711.3h0M1479.5 370.5h0M2017.4 1177.5h0M1284.5 222.4h0M1970.2 1076.3h0M1348.0 265.4h0M1989.9 1113.8h0M1410.3 299.7h0M2062.1 1307.3h0M2010.7 1013.1h0M1762.9 737.8h0M1298.6 212.5h0M2052.2 1261.3h0M1361.1 279.2h0M1958.5 1084.6h0M2064.5 1328.3h0M1517.9 405.9h0M2049.9 1080.9h0M1858.8 946.1h0M2058.5 1226.3h0M2049.6 1268.0h0M1971.3 1043.4h0M1533.7 414.5h0M1985.8 1048.9h0M1943.8 1101.9h0M2018.6 1091.2h0M2036.9 1062.0h0M1690.8 628.1h0M2063.1 1091.5h0M2035.3 1104.4h0M1470.7 336.6h0M1609.5 500.5h0M1598.1 469.5h0M1424.5 274.5h0M2060.3 1177.1h0M2071.9 1149.3h0M2039.8 1102.6h0M1963.0 1053.0h0M2073.3 1211.7h0M1826.5 903.1h0M2048.7 1106.8h0M1437.7 301.0h0M1924.7 1031.5h0M2052.1 1118.4h0M2050.2 1150.1h0M2006.9 1099.2h0M2030.2 1218.0h0M1402.9 269.5h0M1996.1 1107.4h0M1995.2 1092.0h0M2058.8 1126.2h0M2053.4 1149.4h0M1987.3 1124.9h0M1491.2 345.6h0M2051.0 1184.3h0M1920.1 1022.8h0M2057.0 1199.2h0M1929.7 1088.9h0M2074.1 1091.4h0M1416.2 294.2h0M1966.8 1131.2h0M1742.0 729.7h0M1397.4 296.9h0M1951.5 1132.3h0M1928.6 1068.2h0M1824.2 863.7h0M2044.8 1165.9h0M2026.9 1213.7h0M2057.1 1121.5h0M2008.1 1151.6h0M2057.8 1097.1h0M2063.3 1260.9h0M2046.8 1253.1h0M2078.8 1180.9h0M2052.5 1143.0h0M1957.7 1125.1h0M1986.7 1172.8h0M1694.0 618.6h0M2018.7 1043.9h0M2063.7 1213.7h0M1974.7 1137.2h0M1470.8 318.9h0M1928.9 1092.3h0M2063.0 1136.0h0M1991.4 1094.9h0M1766.4 769.5h0M2051.9 1095.8h0M1947.5 1120.0h0M2039.2 1217.6h0M2022.6 1242.4h0M1971.7 1094.6h0M1558.6 407.3h0M2072.6 1221.3h0M2063.6 1157.3h0M2025.2 1135.6h0M2080.5 1195.6h0M2018.9 1238.2h0M1973.5 1165.7h0M1915.5 1089.3h0M1913.7 1069.2h0M2067.1 1211.3h0M2056.9 1282.2h0M1854.9 935.2h0M1931.1 1031.0h0M2051.9 1254.1h0M1327.2 225.6h0M1620.3 510.4h0M2049.9 1290.8h0M2045.8 1264.6h0M2067.2 1107.8h0M2071.6 1229.3h0M2069.9 1144.0h0M1780.7 810.9h0M1940.2 1104.0h0M1703.1 663.5h0M2036.0 1181.7h0M1931.9 1078.9h0M1768.0 751.7h0M1961.6 1110.7h0M2060.8 1212.6h0M1946.1 1107.1h0M2029.2 1227.3h0M2055.4 1338.4h0M2029.7 1052.5h0M2051.1 1277.5h0M1917.6 1033.7h0M2069.9 1250.1h0M1749.4 732.4h0M2057.0 1137.9h0M2011.6 1210.2h0M1782.6 814.2h0M2033.3 1039.9h0M2050.6 1197.2h0" stroke="#8484ff" stroke-width="2" stroke-linecap="square" fill="none"/>
<g fill="#8080ff" stroke="#00f" stroke-width="4"><circle cx="438.5" cy="110.0" r="4"/><circle cx="548.1" cy="134.2" r="4"/><circle cx="612.2" cy="137.9" r="4"/><circle cx="657.7" cy="134.2" r="4"/><circle cx="693.0" cy="150.3" r="4"/><circle cx="721.9" cy="137.9" r="4"/><circle cx="746.2" cy="150.3" r="4"/><circle cx="767.4" cy="146.6" r="4"/><circle cx="786.0" cy="154.9" r="4"/><circle cx="802.7" cy="150.3" r="4"/><circle cx="817.7" cy="146.6" r="4"/><circle cx="831.5" cy="154.5" r="4"/><circle cx="844.2" cy="141.5" r="4"/><circle cx="855.9" cy="154.9" r="4"/><circle cx="866.8" cy="147.5" r="4"/><circle cx="877.0" cy="164.5" r="4"/><circle cx="886.6" cy="150.4" r="4"/><circle cx="895.6" cy="164.5" r="4"/><circle cx="904.2" cy="153.4" r="4"/><circle cx="912.3" cy="164.5" r="4"/><circle cx="920.0" cy="174.0" r="4"/><circle cx="927.4" cy="166.0" r="4"/><circle cx="934.4" cy="168.0" r="4"/><circle cx="941.1" cy="164.0" r="4"/><circle cx="947.6" cy="150.0" r="4"/><circle cx="953.8" cy="167.0" r="4"/><circle cx="959.8" cy="155.0" r="4"/><circle cx="965.5" cy="171.0" r="4"/><circle cx="971.1" cy="165.0" r="4"/><circle cx="976.4" cy="168.0" r="4"/><circle cx="981.6" cy="158.0" r="4"/><circle cx="986.6" cy="154.0" r="4"/><circle cx="991.5" cy="170.0" r="4"/><circle cx="996.2" cy="163.0" r="4"/><circle cx="1000.8" cy="176.0" r="4"/><circle cx="1005.3" cy="160.0" r="4"/><circle cx="1009.6" cy="166.0" r="4"/><circle cx="1013.8" cy="171.0" r="4"/><circle cx="1017.9" cy="157.0" r="4"/><circle cx="1021.9" cy="175.0" r="4"/></g>
<path d="M2041.5 1283V1513M2048.8 1309V1513" stroke="#444" stroke-width="3"/><path d="M2078.2 1345V1513" stroke="#9a9a9a" stroke-width="3"/>
<path d="M2060.6 1309V1430" stroke="#999" stroke-width="3"/>
<path d="M1894 975V992M1950 985V1005M2001 960V975M2027 992V1030" stroke="#333" stroke-width="2"/>
<path d="M2060 1434h0" stroke="#00f" stroke-width="10" stroke-linecap="round"/>
<path d="M383.3 263.0h32M383.3 1461.4h32M383.3 1100.6h18M383.3 889.6h18M383.3 739.9h18M383.3 623.8h18M383.3 528.9h18M383.3 448.6h18M383.3 379.1h18M383.3 317.8h18M449.4 1517.8v-17M494.9 1517.8v-17M530.2 1517.8v-17M559.0 1517.8v-17M583.4 1517.8v-17M604.5 1517.8v-17M623.1 1517.8v-17M639.8 1517.8v-31M749.4 1517.8v-17M813.6 1517.8v-17M859.1 1517.8v-17M894.4 1517.8v-17M923.2 1517.8v-17M947.6 1517.8v-17M968.7 1517.8v-17M987.3 1517.8v-17M1004.0 1517.8v-31M1113.6 1517.8v-17M1177.8 1517.8v-17M1223.3 1517.8v-17M1258.6 1517.8v-17M1287.4 1517.8v-17M1311.8 1517.8v-17M1332.9 1517.8v-17M1351.5 1517.8v-17M1368.2 1517.8v-31M1477.8 1517.8v-17M1542.0 1517.8v-17M1587.5 1517.8v-17M1622.8 1517.8v-17M1651.6 1517.8v-17M1676.0 1517.8v-17M1697.1 1517.8v-17M1715.7 1517.8v-17M1732.4 1517.8v-31M1842.0 1517.8v-17M1906.2 1517.8v-17M1951.7 1517.8v-17M1987.0 1517.8v-17M2015.8 1517.8v-17M2040.2 1517.8v-17M2061.3 1517.8v-17M2079.9 1517.8v-17M2096.6 1517.8v-31" stroke="#000" stroke-width="4.6"/>
<rect x="385.3" y="52.7" width="1820.4" height="1463.1" fill="none" stroke="#000" stroke-width="5.4"/>
<text transform="translate(193.99,291.44) scale(1.0681,1)" font-size="103.09">10</text>
<text transform="translate(300.94,243.78) scale(0.9867,1)" font-size="72.50">-</text>
<text transform="translate(322.48,243.33) scale(0.9788,1)" font-size="66.67" font-weight="normal">5</text>
<text transform="translate(194.07,1489.54) scale(1.0719,1)" font-size="102.94">10</text>
<text transform="translate(300.88,1442.37) scale(1.0080,1)" font-size="72.50">-</text>
<text transform="translate(324.08,1440.20) scale(0.9313,1)" font-size="64.93" font-weight="normal">6</text>
<text transform="translate(552.63,1627.45) scale(1.0836,1)" font-size="102.35">10</text>
<text transform="translate(657.88,1577.00) scale(1.0551,1)" font-size="61.82">14</text>
<text transform="translate(916.83,1627.45) scale(1.0836,1)" font-size="102.35">10</text>
<text transform="translate(1021.96,1576.39) scale(1.0954,1)" font-size="60.90">15</text>
<text transform="translate(1281.03,1627.45) scale(1.0836,1)" font-size="102.35">10</text>
<text transform="translate(1386.22,1575.80) scale(1.0993,1)" font-size="60.00">16</text>
<text transform="translate(1645.23,1627.45) scale(1.0836,1)" font-size="102.35">10</text>
<text transform="translate(1750.48,1577.00) scale(1.0551,1)" font-size="61.82">17</text>
<text transform="translate(2009.43,1627.45) scale(1.0836,1)" font-size="102.35">10</text>
<text transform="translate(2114.62,1575.80) scale(1.0993,1)" font-size="60.00">18</text>
<g transform="translate(0,1000) rotate(-90)"><text transform="translate(55.42,133.30) scale(1.1370,1)" font-size="124.77" font-style="italic">I</text><text transform="translate(103.00,178.00) scale(1.1358,1)" font-size="73.85" font-style="italic">P</text><text transform="translate(183.02,134.30) scale(1.0385,1)" font-size="120.00">(A)</text></g>
<text transform="translate(856.20,1738.26) scale(1.0162,1)" font-size="103.52" font-style="italic">electron fluence</text>
<text transform="translate(1581.07,1738.53) scale(1.0351,1)" font-size="102.22">(cm</text>
<text transform="translate(1756.95,1689.34) scale(0.7789,1)" font-size="65.91">-2</text>
<text transform="translate(1801.42,1738.53) scale(1.1664,1)" font-size="102.22">)</text>
<defs>
<pattern id="pc" width="40" height="30" patternUnits="userSpaceOnUse"><rect width="40" height="30" fill="#6a6aff"/><path d="M6 0h2v2h-2zM8 0h2v2h-2zM10 0h2v2h-2zM18 0h2v2h-2zM22 0h2v2h-2zM24 0h2v2h-2zM28 0h2v2h-2zM30 0h2v2h-2zM34 0h2v2h-2zM36 0h2v2h-2zM6 2h2v2h-2zM0 4h2v2h-2zM12 4h2v2h-2zM18 4h2v2h-2zM20 4h2v2h-2zM22 4h2v2h-2zM34 4h2v2h-2zM36 4h2v2h-2zM38 4h2v2h-2zM2 6h2v2h-2zM4 6h2v2h-2zM6 6h2v2h-2zM8 6h2v2h-2zM10 6h2v2h-2zM12 6h2v2h-2zM18 6h2v2h-2zM24 6h2v2h-2zM26 6h2v2h-2zM30 6h2v2h-2zM32 6h2v2h-2zM34 6h2v2h-2zM38 6h2v2h-2zM10 8h2v2h-2zM12 8h2v2h-2zM16 8h2v2h-2zM18 8h2v2h-2zM4 10h2v2h-2zM6 10h2v2h-2zM14 10h2v2h-2zM18 10h2v2h-2zM26 10h2v2h-2zM30 10h2v2h-2zM34 10h2v2h-2zM0 12h2v2h-2zM4 12h2v2h-2zM8 12h2v2h-2zM10 12h2v2h-2zM12 12h2v2h-2zM14 12h2v2h-2zM18 12h2v2h-2zM26 12h2v2h-2zM28 12h2v2h-2zM32 12h2v2h-2zM34 12h2v2h-2zM38 12h2v2h-2zM34 14h2v2h-2zM8 16h2v2h-2zM12 16h2v2h-2zM14 16h2v2h-2zM18 16h2v2h-2zM22 16h2v2h-2zM24 16h2v2h-2zM30 16h2v2h-2zM32 16h2v2h-2zM34 16h2v2h-2zM38 16h2v2h-2zM0 18h2v2h-2zM6 18h2v2h-2zM8 18h2v2h-2zM14 18h2v2h-2zM16 18h2v2h-2zM24 18h2v2h-2zM30 18h2v2h-2zM32 18h2v2h-2zM34 18h2v2h-2zM38 18h2v2h-2zM22 20h2v2h-2zM24 20h2v2h-2zM38 20h2v2h-2zM20 22h2v2h-2zM24 22h2v2h-2zM26 22h2v2h-2zM34 22h2v2h-2zM0 24h2v2h-2zM2 24h2v2h-2zM4 24h2v2h-2zM6 24h2v2h-2zM16 24h2v2h-2zM18 24h2v2h-2zM22 24h2v2h-2zM24 24h2v2h-2zM26 24h2v2h-2zM30 24h2v2h-2zM34 24h2v2h-2zM36 24h2v2h-2zM2 26h2v2h-2zM6 26h2v2h-2zM2 28h2v2h-2zM10 28h2v2h-2zM14 28h2v2h-2zM26 28h2v2h-2zM28 28h2v2h-2zM30 28h2v2h-2zM32 28h2v2h-2zM36 28h2v2h-2z" fill="#0000ff"/><path d="M0 0h2v2h-2zM2 0h2v2h-2zM4 0h2v2h-2zM12 0h2v2h-2zM14 0h2v2h-2zM16 0h2v2h-2zM20 0h2v2h-2zM26 0h2v2h-2zM32 0h2v2h-2zM38 0h2v2h-2zM10 2h2v2h-2zM10 4h2v2h-2zM14 4h2v2h-2zM28 4h2v2h-2zM32 4h2v2h-2zM0 6h2v2h-2zM14 6h2v2h-2zM16 6h2v2h-2zM20 6h2v2h-2zM22 6h2v2h-2zM28 6h2v2h-2zM36 6h2v2h-2zM0 8h2v2h-2zM20 8h2v2h-2zM38 8h2v2h-2zM2 10h2v2h-2zM12 10h2v2h-2zM20 10h2v2h-2zM32 10h2v2h-2zM36 10h2v2h-2zM38 10h2v2h-2zM2 12h2v2h-2zM6 12h2v2h-2zM16 12h2v2h-2zM20 12h2v2h-2zM22 12h2v2h-2zM24 12h2v2h-2zM30 12h2v2h-2zM36 12h2v2h-2zM6 14h2v2h-2zM8 14h2v2h-2zM10 14h2v2h-2zM12 14h2v2h-2zM22 14h2v2h-2zM30 14h2v2h-2zM4 16h2v2h-2zM10 16h2v2h-2zM28 16h2v2h-2zM2 18h2v2h-2zM4 18h2v2h-2zM10 18h2v2h-2zM12 18h2v2h-2zM18 18h2v2h-2zM20 18h2v2h-2zM22 18h2v2h-2zM26 18h2v2h-2zM28 18h2v2h-2zM36 18h2v2h-2zM0 20h2v2h-2zM2 20h2v2h-2zM16 20h2v2h-2zM10 22h2v2h-2zM12 22h2v2h-2zM14 22h2v2h-2zM30 22h2v2h-2zM8 24h2v2h-2zM10 24h2v2h-2zM12 24h2v2h-2zM14 24h2v2h-2zM20 24h2v2h-2zM28 24h2v2h-2zM32 24h2v2h-2zM38 24h2v2h-2zM8 26h2v2h-2zM16 26h2v2h-2zM18 28h2v2h-2zM38 28h2v2h-2z" fill="#2020ff"/></pattern>
<pattern id="pd" width="40" height="40" patternUnits="userSpaceOnUse"><rect width="40" height="40" fill="#7070ff"/><path d="M10 0h2v2h-2zM14 0h2v2h-2zM18 0h2v2h-2zM22 0h2v2h-2zM24 0h2v2h-2zM28 0h2v2h-2zM34 0h2v2h-2zM38 0h2v2h-2zM0 2h2v2h-2zM2 2h2v2h-2zM6 2h2v2h-2zM8 2h2v2h-2zM12 2h2v2h-2zM16 2h2v2h-2zM18 2h2v2h-2zM20 2h2v2h-2zM22 2h2v2h-2zM28 2h2v2h-2zM30 2h2v2h-2zM34 2h2v2h-2zM36 2h2v2h-2zM0 4h2v2h-2zM4 4h2v2h-2zM6 4h2v2h-2zM14 4h2v2h-2zM16 4h2v2h-2zM22 4h2v2h-2zM26 4h2v2h-2zM32 4h2v2h-2zM34 4h2v2h-2zM38 4h2v2h-2zM2 6h2v2h-2zM4 6h2v2h-2zM6 6h2v2h-2zM10 6h2v2h-2zM12 6h2v2h-2zM16 6h2v2h-2zM20 6h2v2h-2zM22 6h2v2h-2zM26 6h2v2h-2zM28 6h2v2h-2zM32 6h2v2h-2zM34 6h2v2h-2zM36 6h2v2h-2zM38 6h2v2h-2zM2 8h2v2h-2zM6 8h2v2h-2zM10 8h2v2h-2zM12 8h2v2h-2zM14 8h2v2h-2zM16 8h2v2h-2zM22 8h2v2h-2zM26 8h2v2h-2zM32 8h2v2h-2zM36 8h2v2h-2zM0 10h2v2h-2zM8 10h2v2h-2zM10 10h2v2h-2zM12 10h2v2h-2zM14 10h2v2h-2zM18 10h2v2h-2zM22 10h2v2h-2zM24 10h2v2h-2zM28 10h2v2h-2zM36 10h2v2h-2zM8 12h2v2h-2zM26 12h2v2h-2zM30 12h2v2h-2zM32 12h2v2h-2zM36 12h2v2h-2zM6 14h2v2h-2zM16 14h2v2h-2zM18 14h2v2h-2zM24 14h2v2h-2zM30 14h2v2h-2zM32 14h2v2h-2zM36 14h2v2h-2zM0 16h2v2h-2zM4 16h2v2h-2zM10 16h2v2h-2zM14 16h2v2h-2zM18 16h2v2h-2zM22 16h2v2h-2zM24 16h2v2h-2zM28 16h2v2h-2zM30 16h2v2h-2zM34 16h2v2h-2zM36 16h2v2h-2zM2 18h2v2h-2zM10 18h2v2h-2zM16 18h2v2h-2zM22 18h2v2h-2zM24 18h2v2h-2zM32 18h2v2h-2zM0 20h2v2h-2zM6 20h2v2h-2zM10 20h2v2h-2zM14 20h2v2h-2zM16 20h2v2h-2zM22 20h2v2h-2zM32 20h2v2h-2zM34 20h2v2h-2zM36 20h2v2h-2zM38 20h2v2h-2zM6 22h2v2h-2zM8 22h2v2h-2zM12 22h2v2h-2zM14 22h2v2h-2zM16 22h2v2h-2zM18 22h2v2h-2zM22 22h2v2h-2zM24 22h2v2h-2zM32 22h2v2h-2zM38 22h2v2h-2zM4 24h2v2h-2zM6 24h2v2h-2zM10 24h2v2h-2zM12 24h2v2h-2zM16 24h2v2h-2zM18 24h2v2h-2zM24 24h2v2h-2zM28 24h2v2h-2zM32 24h2v2h-2zM34 24h2v2h-2zM38 24h2v2h-2zM4 26h2v2h-2zM6 26h2v2h-2zM10 26h2v2h-2zM16 26h2v2h-2zM20 26h2v2h-2zM24 26h2v2h-2zM26 26h2v2h-2zM28 26h2v2h-2zM30 26h2v2h-2zM36 26h2v2h-2zM0 28h2v2h-2zM6 28h2v2h-2zM10 28h2v2h-2zM24 28h2v2h-2zM30 28h2v2h-2zM32 28h2v2h-2zM34 28h2v2h-2zM36 28h2v2h-2zM38 28h2v2h-2zM0 30h2v2h-2zM2 30h2v2h-2zM8 30h2v2h-2zM10 30h2v2h-2zM12 30h2v2h-2zM14 30h2v2h-2zM20 30h2v2h-2zM26 30h2v2h-2zM28 30h2v2h-2zM30 30h2v2h-2zM32 30h2v2h-2zM36 30h2v2h-2zM0 32h2v2h-2zM8 32h2v2h-2zM14 32h2v2h-2zM16 32h2v2h-2zM22 32h2v2h-2zM24 32h2v2h-2zM28 32h2v2h-2zM32 32h2v2h-2zM36 32h2v2h-2zM0 34h2v2h-2zM4 34h2v2h-2zM6 34h2v2h-2zM8 34h2v2h-2zM10 34h2v2h-2zM12 34h2v2h-2zM14 34h2v2h-2zM18 34h2v2h-2zM24 34h2v2h-2zM26 34h2v2h-2zM28 34h2v2h-2zM32 34h2v2h-2zM36 34h2v2h-2zM38 34h2v2h-2zM4 36h2v2h-2zM10 36h2v2h-2zM16 36h2v2h-2zM18 36h2v2h-2zM22 36h2v2h-2zM24 36h2v2h-2zM26 36h2v2h-2zM28 36h2v2h-2zM34 36h2v2h-2zM0 38h2v2h-2zM6 38h2v2h-2zM10 38h2v2h-2zM12 38h2v2h-2zM14 38h2v2h-2zM18 38h2v2h-2zM24 38h2v2h-2zM26 38h2v2h-2zM28 38h2v2h-2zM30 38h2v2h-2zM32 38h2v2h-2zM38 38h2v2h-2z" fill="#0000ff"/><path d="M0 0h2v2h-2zM2 0h2v2h-2zM36 0h2v2h-2zM10 2h2v2h-2zM24 2h2v2h-2zM26 2h2v2h-2zM8 4h2v2h-2zM12 4h2v2h-2zM28 4h2v2h-2zM36 4h2v2h-2zM0 6h2v2h-2zM8 6h2v2h-2zM14 6h2v2h-2zM18 6h2v2h-2zM24 6h2v2h-2zM30 6h2v2h-2zM18 8h2v2h-2zM28 8h2v2h-2zM34 8h2v2h-2zM38 8h2v2h-2zM2 10h2v2h-2zM16 10h2v2h-2zM20 10h2v2h-2zM32 10h2v2h-2zM0 12h2v2h-2zM2 12h2v2h-2zM6 12h2v2h-2zM10 12h2v2h-2zM14 12h2v2h-2zM18 12h2v2h-2zM20 12h2v2h-2zM22 12h2v2h-2zM24 12h2v2h-2zM34 12h2v2h-2zM38 12h2v2h-2zM0 14h2v2h-2zM2 14h2v2h-2zM14 14h2v2h-2zM20 14h2v2h-2zM22 14h2v2h-2zM28 14h2v2h-2zM34 14h2v2h-2zM6 16h2v2h-2zM12 16h2v2h-2zM38 16h2v2h-2zM8 18h2v2h-2zM26 18h2v2h-2zM34 18h2v2h-2zM38 18h2v2h-2zM2 20h2v2h-2zM8 20h2v2h-2zM18 20h2v2h-2zM28 20h2v2h-2zM0 22h2v2h-2zM34 22h2v2h-2zM14 24h2v2h-2zM26 24h2v2h-2zM30 24h2v2h-2zM36 24h2v2h-2zM2 26h2v2h-2zM18 26h2v2h-2zM22 26h2v2h-2zM32 26h2v2h-2zM34 26h2v2h-2zM4 28h2v2h-2zM8 28h2v2h-2zM12 28h2v2h-2zM18 28h2v2h-2zM22 28h2v2h-2zM26 28h2v2h-2zM4 30h2v2h-2zM18 30h2v2h-2zM34 30h2v2h-2zM38 30h2v2h-2zM2 32h2v2h-2zM6 32h2v2h-2zM10 32h2v2h-2zM12 32h2v2h-2zM18 32h2v2h-2zM34 32h2v2h-2zM38 32h2v2h-2zM16 34h2v2h-2zM22 34h2v2h-2zM34 34h2v2h-2zM0 36h2v2h-2zM36 36h2v2h-2zM38 36h2v2h-2zM8 38h2v2h-2zM16 38h2v2h-2zM34 38h2v2h-2z" fill="#3030ff"/></pattern>
<pattern id="pl" width="40" height="40" patternUnits="userSpaceOnUse"><rect width="40" height="40" fill="#a0a0ff"/><path d="M2 0h2v2h-2zM4 0h2v2h-2zM10 0h2v2h-2zM18 0h2v2h-2zM20 0h2v2h-2zM22 0h2v2h-2zM26 0h2v2h-2zM30 0h2v2h-2zM34 0h2v2h-2zM4 2h2v2h-2zM12 2h2v2h-2zM14 2h2v2h-2zM18 2h2v2h-2zM22 2h2v2h-2zM26 2h2v2h-2zM34 2h2v2h-2zM36 2h2v2h-2zM0 4h2v2h-2zM2 4h2v2h-2zM14 4h2v2h-2zM32 4h2v2h-2zM36 4h2v2h-2zM0 6h2v2h-2zM4 6h2v2h-2zM12 6h2v2h-2zM14 6h2v2h-2zM28 6h2v2h-2zM30 6h2v2h-2zM36 6h2v2h-2zM2 8h2v2h-2zM6 8h2v2h-2zM10 8h2v2h-2zM14 8h2v2h-2zM28 8h2v2h-2zM30 8h2v2h-2zM32 8h2v2h-2zM34 8h2v2h-2zM4 10h2v2h-2zM10 10h2v2h-2zM26 10h2v2h-2zM38 10h2v2h-2zM6 12h2v2h-2zM12 12h2v2h-2zM14 12h2v2h-2zM18 12h2v2h-2zM28 12h2v2h-2zM8 14h2v2h-2zM10 14h2v2h-2zM12 14h2v2h-2zM14 14h2v2h-2zM20 14h2v2h-2zM32 14h2v2h-2zM0 16h2v2h-2zM6 16h2v2h-2zM34 16h2v2h-2zM16 18h2v2h-2zM36 18h2v2h-2zM0 20h2v2h-2zM2 20h2v2h-2zM6 20h2v2h-2zM8 20h2v2h-2zM18 20h2v2h-2zM32 20h2v2h-2zM34 20h2v2h-2zM2 22h2v2h-2zM10 22h2v2h-2zM14 22h2v2h-2zM20 22h2v2h-2zM30 22h2v2h-2zM34 22h2v2h-2zM0 24h2v2h-2zM12 24h2v2h-2zM22 24h2v2h-2zM28 24h2v2h-2zM38 24h2v2h-2zM8 26h2v2h-2zM20 26h2v2h-2zM34 26h2v2h-2zM4 28h2v2h-2zM16 28h2v2h-2zM28 28h2v2h-2zM30 28h2v2h-2zM34 28h2v2h-2zM2 30h2v2h-2zM6 30h2v2h-2zM8 30h2v2h-2zM12 30h2v2h-2zM20 30h2v2h-2zM26 30h2v2h-2zM16 32h2v2h-2zM22 32h2v2h-2zM24 32h2v2h-2zM26 32h2v2h-2zM34 32h2v2h-2zM36 32h2v2h-2zM4 36h2v2h-2zM18 36h2v2h-2zM24 36h2v2h-2zM32 36h2v2h-2zM4 38h2v2h-2zM8 38h2v2h-2zM22 38h2v2h-2zM24 38h2v2h-2zM34 38h2v2h-2zM36 38h2v2h-2zM38 38h2v2h-2z" fill="#0000ff"/><path d="M6 0h2v2h-2zM14 0h2v2h-2zM0 2h2v2h-2zM8 2h2v2h-2zM10 4h2v2h-2zM28 4h2v2h-2zM34 4h2v2h-2zM38 4h2v2h-2zM2 6h2v2h-2zM6 6h2v2h-2zM16 6h2v2h-2zM24 6h2v2h-2zM26 6h2v2h-2zM16 8h2v2h-2zM18 8h2v2h-2zM26 8h2v2h-2zM38 8h2v2h-2zM14 10h2v2h-2zM24 10h2v2h-2zM30 10h2v2h-2zM0 12h2v2h-2zM2 12h2v2h-2zM20 12h2v2h-2zM32 12h2v2h-2zM2 14h2v2h-2zM22 14h2v2h-2zM28 14h2v2h-2zM36 14h2v2h-2zM24 16h2v2h-2zM26 16h2v2h-2zM32 16h2v2h-2zM36 16h2v2h-2zM4 18h2v2h-2zM6 18h2v2h-2zM8 18h2v2h-2zM12 18h2v2h-2zM18 18h2v2h-2zM28 18h2v2h-2zM30 18h2v2h-2zM16 20h2v2h-2zM22 20h2v2h-2zM24 20h2v2h-2zM36 20h2v2h-2zM8 24h2v2h-2zM20 24h2v2h-2zM10 26h2v2h-2zM12 26h2v2h-2zM16 26h2v2h-2zM38 26h2v2h-2zM0 28h2v2h-2zM10 28h2v2h-2zM32 28h2v2h-2zM38 28h2v2h-2zM0 30h2v2h-2zM10 30h2v2h-2zM14 30h2v2h-2zM30 30h2v2h-2zM32 30h2v2h-2zM34 30h2v2h-2zM36 30h2v2h-2zM0 32h2v2h-2zM6 32h2v2h-2zM8 32h2v2h-2zM10 32h2v2h-2zM2 34h2v2h-2zM6 34h2v2h-2zM14 34h2v2h-2zM16 34h2v2h-2zM20 34h2v2h-2zM22 34h2v2h-2zM36 34h2v2h-2zM0 36h2v2h-2zM2 36h2v2h-2zM10 36h2v2h-2zM16 36h2v2h-2zM26 36h2v2h-2zM30 36h2v2h-2zM34 36h2v2h-2zM38 36h2v2h-2zM0 38h2v2h-2zM14 38h2v2h-2zM16 38h2v2h-2zM28 38h2v2h-2zM30 38h2v2h-2z" fill="#4040ff"/></pattern>
<clipPath id="ic"><rect x="689.0" y="494.0" width="840.5" height="716.0"/></clipPath>
</defs>
<rect x="688.0" y="493.0" width="842.5" height="718.0" fill="#fff"/>
<g clip-path="url(#ic)">
<path d="M689.0 772.0V787.0M696.1 772.0V781.0M697.8 772.0V784.0M699.6 772.0V775.0M702.6 772.2V791.0M706.2 772.5V775.5M712.3 772.9V777.9M716.4 773.2V788.2M724.3 773.8V778.8M726.0 774.0V781.0M729.3 774.2V794.2M742.5 775.4V787.4M746.9 776.0V791.0M750.0 776.4V791.4M759.3 777.8V801.8M764.4 778.5V787.5M783.5 795.4V800.4M786.6 800.3V805.3M788.8 801.2V808.2M791.8 802.5V814.5M808.4 806.6V815.6M810.1 806.8V811.8M819.5 807.5V816.5M821.3 807.6V814.6M824.0 807.8V816.8M826.7 809.6V824.6M829.1 814.8V819.8M831.9 821.0V845.1M838.5 835.6V838.6M841.7 842.8V847.8M844.1 848.1V860.1M846.5 851.3V856.3M853.3 857.7V864.7M867.8 862.7V882.1M883.3 863.8V878.8M894.9 864.6V867.6M898.2 864.9V869.9M911.1 865.0V868.0M925.3 860.0V865.0M928.7 860.0V865.0M943.1 860.0V869.0M950.0 860.0V872.0M962.4 860.0V872.0M965.0 860.0V879.1M970.3 860.0V872.0M988.5 860.0V863.0M993.8 860.0V865.0M1000.0 860.0V869.0M1013.2 861.4V868.4M1015.0 861.5V870.5M1017.6 861.8V873.8M1025.4 862.6V883.7M1041.8 864.0V879.0M1045.9 864.4V871.4M1052.0 864.9V871.9M1055.0 865.1V868.1M1058.9 865.4V872.4M1067.2 866.2V873.2M1068.8 866.5V871.5M1071.6 866.9V881.9M1091.7 870.2V875.2M1108.2 874.3V881.3M1110.8 876.1V910.7M1113.7 878.2V901.5M1116.1 879.9V888.9M1126.5 888.9V891.9M1138.6 900.0V920.5M1166.9 915.0V922.0M1170.8 920.5V923.5M1188.6 946.0V961.0M1192.0 948.9V957.9M1194.7 950.1V965.1M1196.9 951.0V956.0M1198.6 951.8V966.8M1208.2 955.9V970.9M1213.6 958.3V979.7M1225.3 963.7V968.7M1227.0 964.6V971.6M1230.8 966.6V978.6M1233.0 967.7V976.7M1238.3 970.5V979.5M1243.4 973.1V980.1M1248.5 976.4V1006.5M1252.3 979.9V988.9M1262.0 988.5V1003.5M1265.9 990.2V1002.2M1278.6 995.2V1010.2M1288.5 998.5V1005.5M1294.7 1000.9V1007.9M1307.1 1007.7V1016.7M1308.9 1008.7V1015.7M1311.8 1010.3V1022.3M1313.8 1011.4V1020.4M1318.8 1013.0V1020.0M1321.7 1013.8V1025.8M1326.8 1015.2V1024.2M1336.2 1017.6V1026.6M1351.7 1020.5V1035.5M1360.5 1021.2V1024.2M1363.9 1021.5V1050.5M1366.2 1021.7V1036.7M1370.5 1021.9V1043.2M1378.2 1020.7V1025.7M1380.9 1020.2V1029.2M1384.1 1019.7V1028.7M1389.5 1018.8V1025.8M1391.6 1018.5V1027.5M1394.0 1018.1V1025.1M1403.7 1016.5V1023.5M1416.7 1014.3V1026.3M1418.5 1014.0V1023.0M1423.4 1013.2V1018.2M1425.8 1012.9V1043.5M1429.8 1012.2V1017.2M1431.6 1016.5V1025.5M1435.5 1047.7V1069.2M1447.4 1071.3V1089.9M1453.4 1077.8V1080.8M1456.9 1081.6V1084.6M1460.6 1085.2V1097.2M1474.6 1090.1V1093.1M1481.1 1091.9V1100.9M1484.7 1091.5V1094.5M1494.8 1090.5V1097.5M1501.0 1089.8V1098.8M1502.7 1089.5V1096.5M1506.3 1088.9V1093.9M1523.0 1086.0V1093.0M1525.2 1085.7V1092.7M1527.2 1085.3V1090.3" stroke="#a0a0ff" stroke-width="1.4"/>
<path d="M688 710.5 L690 712.0 L692 715.2 L694 713.7 L696 710.0 L698 711.8 L700 713.0 L702 712.0 L704 715.0 L706 711.9 L708 714.5 L710 715.3 L712 715.9 L714 715.8 L716 713.6 L718 713.6 L720 719.0 L722 717.0 L724 717.7 L726 714.6 L728 716.4 L730 711.8 L732 715.5 L734 718.1 L736 713.0 L738 717.1 L740 714.2 L742 717.4 L744 712.5 L746 719.2 L748 712.4 L750 718.7 L752 715.5 L754 719.9 L756 713.7 L758 713.2 L760 715.5 L762 713.7 L764 713.8 L766 715.9 L768 720.2 L770 714.2 L772 714.2 L774 713.5 L776 719.4 L778 720.5 L780 721.5 L782 722.8 L784 721.1 L786 717.7 L788 723.2 L790 723.6 L792 724.1 L794 721.4 L796 725.1 L798 728.8 L800 724.9 L802 730.5 L804 725.1 L806 731.0 L808 730.4 L810 729.0 L812 733.4 L814 732.6 L816 730.1 L818 731.9 L820 731.1 L822 738.4 L824 734.8 L826 738.6 L828 741.1 L830 737.8 L832 742.8 L834 746.6 L836 745.5 L838 755.2 L840 756.2 L842 759.1 L844 760.9 L846 758.1 L848 764.7 L850 762.5 L852 770.5 L854 771.8 L856 772.6 L858 770.8 L860 773.6 L862 771.0 L864 775.4 L866 769.9 L868 771.4 L870 772.2 L872 770.0 L874 769.9 L876 768.7 L878 769.2 L880 768.0 L882 766.0 L884 773.0 L886 769.2 L888 771.5 L890 767.9 L892 768.8 L894 765.1 L896 762.6 L898 761.4 L900 764.9 L902 762.0 L904 761.7 L906 765.8 L908 765.7 L910 764.1 L912 760.1 L914 760.7 L916 757.4 L918 755.9 L920 745.4 L922 747.4 L924 749.3 L926 747.4 L928 747.9 L930 746.3 L932 751.4 L934 748.6 L936 746.2 L938 747.2 L940 752.7 L942 751.6 L944 749.8 L946 749.8 L948 748.9 L950 745.0 L952 745.2 L954 746.3 L956 745.8 L958 750.3 L960 748.3 L962 750.1 L964 748.3 L966 749.1 L968 750.0 L970 750.8 L972 749.3 L974 748.5 L976 745.6 L978 746.4 L980 747.1 L982 746.0 L984 752.4 L986 747.1 L988 750.1 L990 750.5 L992 752.8 L994 752.4 L996 745.7 L998 746.4 L1000 751.7 L1002 746.8 L1004 747.6 L1006 751.5 L1008 754.0 L1010 755.6 L1012 752.6 L1014 753.1 L1016 749.6 L1018 751.8 L1020 756.8 L1022 755.8 L1024 753.0 L1026 753.1 L1028 754.0 L1030 758.7 L1032 754.4 L1034 753.9 L1036 754.1 L1038 760.1 L1040 761.8 L1042 759.7 L1044 760.7 L1046 757.9 L1048 756.7 L1050 762.9 L1052 761.5 L1054 761.7 L1056 759.7 L1058 762.5 L1060 758.7 L1062 758.7 L1064 764.2 L1066 763.1 L1068 764.4 L1070 763.3 L1072 766.7 L1074 762.2 L1076 764.0 L1078 764.9 L1080 771.5 L1082 771.6 L1084 771.7 L1086 771.8 L1088 771.2 L1090 772.8 L1092 779.9 L1094 779.4 L1096 780.1 L1098 778.6 L1100 786.2 L1102 781.3 L1104 787.5 L1106 791.4 L1108 787.1 L1110 789.9 L1112 799.1 L1114 798.2 L1116 800.7 L1118 804.0 L1120 803.2 L1122 806.4 L1124 802.0 L1126 806.1 L1128 800.5 L1130 804.0 L1132 803.0 L1134 801.6 L1136 804.1 L1138 800.0 L1140 802.9 L1142 801.5 L1144 803.0 L1146 801.0 L1148 803.0 L1150 799.1 L1152 795.3 L1154 794.5 L1156 801.4 L1158 801.5 L1160 800.3 L1162 804.3 L1164 806.9 L1166 814.9 L1168 816.8 L1170 811.2 L1172 816.0 L1174 821.7 L1176 815.4 L1178 822.6 L1180 820.0 L1182 825.0 L1184 826.0 L1186 827.6 L1188 830.6 L1190 829.7 L1192 827.7 L1194 831.0 L1196 834.4 L1198 831.9 L1200 837.0 L1202 839.3 L1204 833.9 L1206 839.1 L1208 842.2 L1210 838.1 L1212 842.4 L1214 836.9 L1216 838.0 L1218 844.1 L1220 839.5 L1222 840.7 L1224 840.8 L1226 843.3 L1228 839.7 L1230 840.7 L1232 838.5 L1234 844.5 L1236 841.9 L1238 839.0 L1240 837.5 L1242 844.3 L1244 842.4 L1246 837.9 L1248 840.6 L1250 845.8 L1252 846.5 L1254 840.8 L1256 840.8 L1258 842.5 L1260 847.4 L1262 843.6 L1264 850.0 L1266 847.6 L1268 851.3 L1270 852.3 L1272 853.3 L1274 856.0 L1276 861.5 L1278 860.9 L1280 866.7 L1282 868.9 L1284 870.9 L1286 871.0 L1288 874.9 L1290 880.1 L1292 884.9 L1294 890.2 L1296 886.8 L1298 890.7 L1300 887.3 L1302 893.0 L1304 896.3 L1306 894.5 L1308 893.9 L1310 897.9 L1312 900.5 L1314 897.0 L1316 901.6 L1318 899.9 L1320 899.5 L1322 904.9 L1324 899.4 L1326 902.2 L1328 903.0 L1330 903.4 L1332 905.4 L1334 901.5 L1336 906.4 L1338 903.4 L1340 905.1 L1342 905.2 L1344 909.8 L1346 903.4 L1348 907.2 L1350 902.4 L1352 910.0 L1354 902.8 L1356 908.1 L1358 903.7 L1360 903.0 L1362 907.3 L1364 908.2 L1366 909.3 L1368 904.7 L1370 902.4 L1372 904.8 L1374 904.7 L1376 909.0 L1378 903.6 L1380 902.9 L1382 907.7 L1384 909.8 L1386 910.0 L1388 906.4 L1390 906.6 L1392 902.9 L1394 908.6 L1396 908.1 L1398 906.0 L1400 905.0 L1402 907.4 L1404 909.0 L1406 902.3 L1408 907.0 L1410 907.3 L1412 905.4 L1414 909.4 L1416 909.0 L1418 904.5 L1420 908.9 L1422 902.3 L1424 906.5 L1426 909.3 L1428 906.2 L1430 908.2 L1432 912.6 L1434 917.5 L1436 931.8 L1438 937.7 L1440 939.5 L1442 934.8 L1444 942.2 L1446 939.3 L1448 942.1 L1450 944.5 L1452 939.5 L1454 941.6 L1456 943.9 L1458 948.5 L1460 948.0 L1462 943.7 L1464 945.3 L1466 947.5 L1468 951.1 L1470 944.9 L1472 945.5 L1474 951.0 L1476 949.1 L1478 951.3 L1480 953.7 L1482 950.0 L1484 953.8 L1486 949.8 L1488 949.9 L1490 950.8 L1492 953.8 L1494 954.1 L1496 957.0 L1498 953.7 L1500 957.2 L1502 956.5 L1504 957.1 L1506 952.2 L1508 955.3 L1510 952.2 L1512 952.9 L1514 951.5 L1516 954.7 L1518 951.0 L1520 955.9 L1522 954.5 L1524 949.0 L1526 955.5 L1528 955.0 L1530 951.4 L1530 1086.0 L1528 1086.3 L1526 1080.8 L1524 1087.9 L1522 1082.8 L1520 1087.4 L1518 1082.3 L1516 1084.1 L1514 1085.6 L1512 1088.9 L1510 1085.8 L1508 1091.4 L1506 1090.5 L1504 1083.4 L1502 1091.5 L1500 1091.2 L1498 1089.8 L1496 1087.4 L1494 1087.0 L1492 1091.8 L1490 1092.2 L1488 1093.8 L1486 1094.1 L1484 1089.8 L1482 1094.3 L1480 1091.5 L1478 1093.9 L1476 1087.4 L1474 1089.5 L1472 1091.1 L1470 1082.8 L1468 1090.0 L1466 1087.1 L1464 1085.4 L1462 1086.5 L1460 1085.3 L1458 1080.1 L1456 1081.4 L1454 1077.6 L1452 1074.6 L1450 1070.1 L1448 1074.8 L1446 1063.9 L1444 1067.3 L1442 1063.7 L1440 1062.2 L1438 1056.5 L1436 1054.9 L1434 1036.1 L1432 1017.6 L1430 1010.0 L1428 1013.9 L1426 1011.3 L1424 1012.4 L1422 1007.7 L1420 1009.5 L1418 1014.5 L1416 1009.7 L1414 1008.9 L1412 1010.0 L1410 1017.3 L1408 1011.3 L1406 1015.8 L1404 1011.2 L1402 1017.0 L1400 1012.4 L1398 1016.3 L1396 1012.3 L1394 1016.3 L1392 1012.8 L1390 1016.3 L1388 1016.7 L1386 1017.0 L1384 1014.5 L1382 1015.2 L1380 1016.1 L1378 1019.1 L1376 1018.1 L1374 1024.2 L1372 1020.1 L1370 1018.6 L1368 1018.1 L1366 1018.2 L1364 1020.5 L1362 1018.4 L1360 1016.1 L1358 1018.8 L1356 1016.2 L1354 1019.1 L1352 1021.8 L1350 1021.0 L1348 1014.4 L1346 1017.3 L1344 1019.8 L1342 1017.0 L1340 1015.3 L1338 1018.4 L1336 1013.0 L1334 1016.5 L1332 1012.8 L1330 1018.1 L1328 1014.5 L1326 1016.4 L1324 1009.5 L1322 1013.9 L1320 1008.0 L1318 1011.3 L1316 1012.0 L1314 1013.6 L1312 1013.2 L1310 1008.8 L1308 1005.8 L1306 1008.2 L1304 1001.7 L1302 1004.1 L1300 1000.5 L1298 998.6 L1296 1000.9 L1294 999.3 L1292 996.6 L1290 993.8 L1288 995.1 L1286 999.7 L1284 996.6 L1282 993.2 L1280 992.9 L1278 996.2 L1276 994.4 L1274 993.9 L1272 989.1 L1270 990.3 L1268 991.0 L1266 993.2 L1264 990.5 L1262 988.4 L1260 988.4 L1258 985.0 L1256 984.5 L1254 983.9 L1252 977.8 L1250 980.7 L1248 978.5 L1246 971.2 L1244 972.7 L1242 972.1 L1240 966.0 L1238 967.8 L1236 969.0 L1234 968.8 L1232 965.8 L1230 969.1 L1228 965.8 L1226 961.4 L1224 957.2 L1222 957.8 L1220 962.7 L1218 956.0 L1216 959.8 L1214 954.8 L1212 959.8 L1210 950.8 L1208 957.9 L1206 954.9 L1204 955.9 L1202 951.6 L1200 947.8 L1198 949.1 L1196 952.7 L1194 946.1 L1192 944.0 L1190 944.1 L1188 944.9 L1186 942.1 L1184 941.0 L1182 935.8 L1180 935.3 L1178 924.8 L1176 924.2 L1174 921.7 L1172 918.2 L1170 921.0 L1168 914.6 L1166 911.0 L1164 908.5 L1162 909.2 L1160 906.8 L1158 906.3 L1156 905.0 L1154 911.2 L1152 910.5 L1150 904.3 L1148 907.0 L1146 906.2 L1144 906.4 L1142 899.6 L1140 901.6 L1138 896.5 L1136 894.0 L1134 894.0 L1132 892.9 L1130 893.9 L1128 889.5 L1126 887.9 L1124 885.9 L1122 887.3 L1120 885.8 L1118 880.2 L1116 876.6 L1114 878.2 L1112 877.7 L1110 877.9 L1108 871.1 L1106 871.8 L1104 870.3 L1102 874.0 L1100 867.4 L1098 872.4 L1096 870.0 L1094 873.1 L1092 873.0 L1090 870.3 L1088 866.8 L1086 870.1 L1084 867.7 L1082 865.3 L1080 869.8 L1078 867.1 L1076 865.9 L1074 866.0 L1072 868.1 L1070 863.3 L1068 865.8 L1066 868.2 L1064 860.3 L1062 862.8 L1060 862.5 L1058 865.2 L1056 860.4 L1054 864.7 L1052 859.7 L1050 866.9 L1048 858.8 L1046 860.6 L1044 864.6 L1042 866.0 L1040 862.7 L1038 859.5 L1036 865.3 L1034 858.0 L1032 863.0 L1030 857.4 L1028 865.7 L1026 862.3 L1024 856.8 L1022 861.4 L1020 859.6 L1018 863.8 L1016 864.3 L1014 855.5 L1012 859.5 L1010 862.6 L1008 863.1 L1006 858.0 L1004 857.9 L1002 862.4 L1000 855.8 L998 862.1 L996 858.6 L994 862.0 L992 856.7 L990 862.3 L988 860.1 L986 854.5 L984 862.5 L982 862.0 L980 859.8 L978 863.0 L976 859.9 L974 862.2 L972 857.4 L970 858.3 L968 862.9 L966 854.6 L964 859.5 L962 859.8 L960 858.7 L958 855.8 L956 859.5 L954 862.2 L952 855.7 L950 854.6 L948 855.5 L946 858.7 L944 859.2 L942 862.0 L940 854.5 L938 861.3 L936 860.0 L934 854.6 L932 860.4 L930 854.1 L928 861.5 L926 855.2 L924 857.7 L922 858.7 L920 859.1 L918 856.9 L916 863.4 L914 862.3 L912 864.6 L910 861.0 L908 865.6 L906 867.4 L904 867.7 L902 863.6 L900 867.6 L898 860.9 L896 861.7 L894 861.9 L892 861.8 L890 866.0 L888 860.4 L886 864.2 L884 861.9 L882 865.4 L880 864.5 L878 864.6 L876 860.2 L874 862.9 L872 858.8 L870 859.0 L868 862.0 L866 865.3 L864 860.5 L862 861.8 L860 858.4 L858 863.5 L856 860.6 L854 859.5 L852 853.1 L850 849.8 L848 853.0 L846 845.5 L844 848.8 L842 845.4 L840 833.7 L838 831.3 L836 825.3 L834 825.6 L832 822.5 L830 814.1 L828 810.0 L826 809.5 L824 807.4 L822 805.9 L820 801.6 L818 805.9 L816 804.7 L814 803.9 L812 807.9 L810 804.9 L808 803.5 L806 806.5 L804 808.3 L802 807.5 L800 801.3 L798 800.6 L796 798.7 L794 801.7 L792 802.1 L790 803.4 L788 802.9 L786 800.4 L784 796.1 L782 789.6 L780 783.5 L778 782.2 L776 782.9 L774 777.3 L772 775.1 L770 776.4 L768 779.6 L766 777.9 L764 779.7 L762 772.6 L760 778.8 L758 776.8 L756 772.3 L754 774.9 L752 774.4 L750 776.2 L748 777.0 L746 773.6 L744 776.3 L742 773.0 L740 777.9 L738 772.4 L736 773.5 L734 774.5 L732 772.1 L730 772.7 L728 768.8 L726 771.3 L724 775.2 L722 775.9 L720 767.8 L718 767.7 L716 767.5 L714 773.4 L712 767.0 L710 773.7 L708 768.2 L706 767.1 L704 773.8 L702 766.6 L700 773.9 L698 770.0 L696 773.9 L694 766.3 L692 766.9 L690 770.7 L688 768.3Z" fill="url(#pc)"/>
<path d="M688.0 572.7 L691.0 572.7 L691.0 569.1 L693.0 569.1 L693.0 569.0 L695.0 569.0 L695.0 721.0 L688.0 721.0Z" fill="url(#pd)"/>
<path d="M695.0 583.5 L697.0 583.5 L697.0 583.0 L700.0 583.0 L700.0 583.0 L702.0 583.0 L702.0 583.8 L704.0 583.8 L704.0 721.2 L695.0 721.0Z" fill="url(#pl)"/>
<path d="M704.0 615.1 L707.0 615.1 L707.0 608.4 L709.0 608.4 L709.0 608.3 L711.0 608.3 L711.0 721.5 L704.0 721.2Z" fill="url(#pl)"/>
<path d="M716.0 575.5 L719.0 575.5 L719.0 595.1 L721.0 595.1 L721.0 690.0 L723.0 690.0 L723.0 571.9 L726.0 571.9 L726.0 571.0 L727.5 571.0 L727.5 574.3 L729.0 574.3 L729.0 571.1 L732.0 571.1 L732.0 722.6 L716.0 721.8Z" fill="url(#pd)"/>
<path d="M733.0 676.2 L735.0 676.2 L735.0 693.1 L737.0 693.1 L737.0 676.0 L739.0 676.0 L739.0 677.1 L740.0 677.1 L740.0 723.0 L733.0 722.6Z" fill="url(#pl)"/>
<path d="M740.0 670.4 L743.0 670.4 L743.0 633.7 L744.5 633.7 L744.5 615.2 L746.0 615.2 L746.0 601.0 L748.0 601.0 L748.0 615.2 L751.0 615.2 L751.0 634.2 L752.0 634.2 L752.0 723.3 L740.0 723.0Z" fill="url(#pl)"/>
<path d="M752.0 618.2 L754.0 618.2 L754.0 610.3 L756.0 610.3 L756.0 580.1 L757.5 580.1 L757.5 576.0 L760.5 576.0 L760.5 576.0 L762.0 576.0 L762.0 585.2 L764.0 585.2 L764.0 577.7 L765.5 577.7 L765.5 576.8 L768.5 576.8 L768.5 578.3 L770.5 578.3 L770.5 594.6 L772.0 594.6 L772.0 606.4 L773.5 606.4 L773.5 597.1 L775.0 597.1 L775.0 724.0 L752.0 723.3Z" fill="url(#pd)"/>
<path d="M786.0 702.7 L788.0 702.7 L788.0 706.3 L791.0 706.3 L791.0 696.9 L794.0 696.9 L794.0 693.5 L796.0 693.5 L796.0 697.1 L798.0 697.1 L798.0 699.7 L799.0 699.7 L799.0 732.6 L786.0 728.0Z" fill="url(#pl)"/>
<path d="M800.0 582.3 L802.0 582.3 L802.0 578.0 L805.0 578.0 L805.0 578.0 L807.0 578.0 L807.0 578.4 L809.0 578.4 L809.0 578.0 L812.0 578.0 L812.0 578.0 L813.5 578.0 L813.5 596.3 L815.5 596.3 L815.5 601.2 L817.0 601.2 L817.0 578.1 L819.0 578.1 L819.0 578.2 L821.0 578.2 L821.0 578.0 L822.0 578.0 L822.0 741.5 L800.0 733.0Z" fill="url(#pd)"/>
<path d="M827.0 605.3 L829.0 605.3 L829.0 621.5 L832.0 621.5 L832.0 607.6 L834.0 607.6 L834.0 637.5 L836.0 637.5 L836.0 610.5 L839.0 610.5 L839.0 617.8 L840.0 617.8 L840.0 761.4 L827.0 744.3Z" fill="url(#pl)"/>
<path d="M840.0 686.0 L842.0 686.0 L842.0 681.3 L843.5 681.3 L843.5 707.3 L846.5 707.3 L846.5 681.2 L848.5 681.2 L848.5 695.1 L850.5 695.1 L850.5 681.3 L852.0 681.3 L852.0 686.8 L853.5 686.8 L853.5 682.8 L855.5 682.8 L855.5 708.5 L858.0 708.5 L858.0 780.0 L840.0 761.4Z" fill="url(#pl)"/>
<path d="M916.0 734.0 L919.0 734.0 L919.0 736.2 L921.0 736.2 L921.0 738.4 L923.0 738.4 L923.0 746.7 L924.5 746.7 L924.5 740.7 L925.0 740.7 L925.0 756.0 L916.0 768.0Z" fill="url(#pl)"/>
<path d="M1066.0 532.8 L1068.0 532.8 L1068.0 556.3 L1069.5 556.3 L1069.5 513.0 L1072.5 513.0 L1072.5 513.0 L1074.5 513.0 L1074.5 715.4 L1076.5 715.4 L1076.5 513.1 L1078.5 513.1 L1078.5 547.9 L1080.0 547.9 L1080.0 712.8 L1082.0 712.8 L1082.0 551.8 L1085.0 551.8 L1085.0 532.4 L1086.5 532.4 L1086.5 513.0 L1088.0 513.0 L1088.0 781.8 L1066.0 768.0Z" fill="url(#pd)"/>
<path d="M1088.0 619.0 L1091.0 619.0 L1091.0 553.6 L1092.5 553.6 L1092.5 530.1 L1094.5 530.1 L1094.5 528.2 L1096.5 528.2 L1096.5 536.3 L1099.5 536.3 L1099.5 564.2 L1101.0 564.2 L1101.0 790.3 L1088.0 781.8Z" fill="url(#pd)"/>
<path d="M1101.0 530.2 L1102.5 530.2 L1102.5 583.4 L1104.5 583.4 L1104.5 520.3 L1106.5 520.3 L1106.5 561.4 L1108.5 561.4 L1108.5 562.7 L1110.0 562.7 L1110.0 520.0 L1112.0 520.0 L1112.0 522.7 L1113.5 522.7 L1113.5 526.7 L1115.0 526.7 L1115.0 520.1 L1116.5 520.1 L1116.5 522.7 L1119.0 522.7 L1119.0 813.0 L1101.0 790.3Z" fill="url(#pd)"/>
<path d="M1155.0 610.3 L1156.5 610.3 L1156.5 598.9 L1158.0 598.9 L1158.0 709.6 L1160.0 709.6 L1160.0 564.6 L1161.5 564.6 L1161.5 553.3 L1163.0 553.3 L1163.0 616.6 L1165.0 616.6 L1165.0 554.1 L1167.0 554.1 L1167.0 820.0 L1155.0 803.0Z" fill="url(#pd)"/>
<path d="M1206.0 585.1 L1208.0 585.1 L1208.0 584.8 L1210.0 584.8 L1210.0 580.5 L1212.0 580.5 L1212.0 584.0 L1214.0 584.0 L1214.0 575.0 L1216.0 575.0 L1216.0 586.2 L1218.0 586.2 L1218.0 575.1 L1220.0 575.1 L1220.0 582.3 L1222.0 582.3 L1222.0 848.0 L1206.0 846.0Z" fill="url(#pd)"/>
<path d="M1222.0 626.0 L1224.0 626.0 L1224.0 623.7 L1227.0 623.7 L1227.0 629.3 L1229.0 629.3 L1229.0 709.6 L1231.0 709.6 L1231.0 634.9 L1233.0 634.9 L1233.0 624.0 L1234.5 624.0 L1234.5 623.4 L1236.0 623.4 L1236.0 627.2 L1237.5 627.2 L1237.5 681.3 L1239.5 681.3 L1239.5 623.1 L1241.5 623.1 L1241.5 654.2 L1243.5 654.2 L1243.5 652.9 L1245.5 652.9 L1245.5 646.5 L1247.0 646.5 L1247.0 848.0 L1222.0 848.0Z" fill="url(#pl)"/>
<path d="M1232.0 657.2 L1235.0 657.2 L1235.0 662.2 L1237.0 662.2 L1237.0 653.0 L1240.0 653.0 L1240.0 659.8 L1243.0 659.8 L1243.0 709.3 L1245.0 709.3 L1245.0 674.8 L1246.0 674.8 L1246.0 848.0 L1232.0 848.0Z" fill="url(#pd)"/>
<path d="M1261.0 714.7 L1264.0 714.7 L1264.0 713.6 L1266.0 713.6 L1266.0 717.0 L1269.0 717.0 L1269.0 713.0 L1272.0 713.0 L1272.0 858.0 L1261.0 853.0Z" fill="url(#pd)"/>
<path d="M1370.0 616.6 L1372.0 616.6 L1372.0 624.1 L1375.0 624.1 L1375.0 613.1 L1377.0 613.1 L1377.0 693.4 L1379.0 693.4 L1379.0 614.1 L1382.0 614.1 L1382.0 730.1 L1383.5 730.1 L1383.5 786.6 L1386.5 786.6 L1386.5 633.7 L1387.0 633.7 L1387.0 913.0 L1370.0 913.0Z" fill="url(#pl)"/>
<path d="M1387.0 785.1 L1390.0 785.1 L1390.0 687.7 L1392.0 687.7 L1392.0 683.0 L1393.5 683.0 L1393.5 683.1 L1395.5 683.1 L1395.5 711.0 L1397.5 711.0 L1397.5 775.0 L1400.5 775.0 L1400.5 729.4 L1402.5 729.4 L1402.5 725.7 L1404.0 725.7 L1404.0 686.3 L1405.5 686.3 L1405.5 696.8 L1407.0 696.8 L1407.0 685.6 L1409.0 685.6 L1409.0 782.6 L1412.0 782.6 L1412.0 913.0 L1387.0 913.0Z" fill="url(#pl)"/>
<path d="M1412.0 654.0 L1414.0 654.0 L1414.0 648.1 L1416.0 648.1 L1416.0 656.0 L1417.5 656.0 L1417.5 724.9 L1419.0 724.9 L1419.0 648.0 L1420.5 648.0 L1420.5 666.0 L1422.0 666.0 L1422.0 650.0 L1423.5 650.0 L1423.5 663.7 L1425.5 663.7 L1425.5 675.6 L1427.5 675.6 L1427.5 698.8 L1429.5 698.8 L1429.5 650.3 L1431.0 650.3 L1431.0 913.0 L1412.0 913.0Z" fill="url(#pd)"/>
<path d="M1442.0 924.3 L1443.5 924.3 L1443.5 930.0 L1446.5 930.0 L1446.5 925.3 L1448.0 925.3 L1448.0 926.3 L1450.0 926.3 L1450.0 923.1 L1452.0 923.1 L1452.0 923.2 L1453.5 923.2 L1453.5 932.6 L1455.0 932.6 L1455.0 924.1 L1458.0 924.1 L1458.0 934.1 L1460.0 934.1 L1460.0 953.0 L1442.0 945.2Z" fill="url(#pl)"/>
<path d="M720 527V719M780 626V723M793 626V728M800 606V730M822 497V738M845 618V765M850 626V770M890 667V772M929 686V753M945 694V753M970 720V753M981 659V753M993 639V753M1009 656V755M1097 480V785M1107 480V793M1158 480V804M1266 536V852M1280 717V868M1287 781V880M1318 760V906M1344 786V910M1355 802V910M1364 617V910M1396 598V910M1405 602V910M1422 612V910M1438 708V940M1471 849V953M1479 849V955M1497 864V959M1508 836V959M1522 708V956M705 600V718M712 640V719M745 600V720M760 600V721M836 610V753M1113 540V801M1215 590V844M1240 620V845M1300 830V895M1330 850V908M1450 900V946M1490 880V958M1515 870V957" stroke="#9494ff" stroke-width="2"/>
<path d="M1368 1009V1212M1427 1009V1212M1432 1009V1212M1437 1009V1212M1522 1090V1166M1073 865V911M1101 865V887" stroke="#a8a8ff" stroke-width="2"/>
<path d="M720.0 527.0h0M720.0 711.2h0M720.0 646.1h0M720.0 535.4h0M720.0 699.6h0M780.0 626.0h0M780.0 684.3h0M780.0 717.9h0M793.0 626.0h0M793.0 665.6h0M793.0 657.4h0M800.0 606.0h0M800.0 704.3h0M800.0 627.5h0M800.0 629.1h0M822.0 497.0h0M822.0 632.6h0M822.0 625.9h0M822.0 594.4h0M822.0 526.8h0M822.0 556.1h0M822.0 565.5h0M822.0 505.4h0M845.0 618.0h0M845.0 640.9h0M845.0 657.6h0M845.0 683.2h0M850.0 626.0h0M850.0 676.7h0M850.0 763.6h0M890.0 667.0h0M890.0 766.4h0M890.0 690.8h0M890.0 680.7h0M929.0 686.0h0M929.0 746.3h0M929.0 710.7h0M945.0 694.0h0M945.0 729.9h0M945.0 745.5h0M970.0 720.0h0M970.0 736.9h0M981.0 659.0h0M981.0 684.4h0M981.0 720.8h0M993.0 639.0h0M993.0 674.4h0M993.0 648.8h0M993.0 736.0h0M993.0 714.6h0M1009.0 656.0h0M1009.0 711.9h0M1009.0 705.8h0M1009.0 662.6h0M1097.0 480.0h0M1097.0 549.0h0M1097.0 698.4h0M1097.0 602.9h0M1097.0 564.2h0M1097.0 687.1h0M1097.0 605.7h0M1107.0 480.0h0M1107.0 744.9h0M1107.0 676.7h0M1107.0 516.1h0M1107.0 492.5h0M1107.0 542.0h0M1107.0 599.1h0M1107.0 577.3h0M1158.0 480.0h0M1158.0 752.2h0M1158.0 712.4h0M1158.0 621.0h0M1158.0 480.3h0M1158.0 493.9h0M1158.0 559.3h0M1158.0 736.6h0M1266.0 536.0h0M1266.0 825.2h0M1266.0 755.7h0M1266.0 772.4h0M1266.0 564.4h0M1266.0 830.2h0M1280.0 717.0h0M1280.0 725.2h0M1280.0 794.5h0M1280.0 832.3h0M1280.0 823.3h0M1287.0 781.0h0M1287.0 835.1h0M1318.0 760.0h0M1318.0 796.3h0M1318.0 812.1h0M1318.0 789.3h0M1318.0 779.9h0M1344.0 786.0h0M1344.0 815.9h0M1344.0 841.1h0M1355.0 802.0h0M1355.0 834.3h0M1355.0 862.8h0M1364.0 617.0h0M1364.0 855.9h0M1364.0 839.8h0M1364.0 812.3h0M1364.0 752.1h0M1364.0 701.8h0M1364.0 677.5h0M1364.0 699.3h0M1364.0 822.6h0M1364.0 650.1h0M1396.0 598.0h0M1396.0 744.2h0M1396.0 650.4h0M1396.0 601.4h0M1396.0 821.7h0M1396.0 631.9h0M1396.0 733.5h0M1396.0 767.4h0M1396.0 884.9h0M1405.0 602.0h0M1405.0 677.8h0M1405.0 610.5h0M1405.0 659.2h0M1405.0 843.7h0M1422.0 612.0h0M1422.0 667.0h0M1422.0 721.8h0M1422.0 722.0h0M1422.0 624.3h0M1422.0 799.2h0M1438.0 708.0h0M1438.0 824.1h0M1438.0 777.6h0M1438.0 726.6h0M1438.0 811.0h0M1438.0 717.3h0M1471.0 849.0h0M1471.0 868.8h0M1471.0 936.2h0M1479.0 849.0h0M1479.0 879.0h0M1479.0 893.5h0M1497.0 864.0h0M1497.0 905.8h0M1508.0 836.0h0M1508.0 872.3h0M1508.0 905.1h0M1508.0 860.0h0M1522.0 708.0h0M1522.0 788.3h0M1522.0 949.1h0M1522.0 875.9h0M705.0 600.0h0M705.0 667.5h0M705.0 676.6h0M712.0 640.0h0M712.0 667.0h0M712.0 654.8h0M745.0 600.0h0M745.0 610.2h0M745.0 669.8h0M760.0 600.0h0M760.0 663.9h0M760.0 647.8h0M760.0 621.8h0M836.0 610.0h0M836.0 626.1h0M836.0 623.6h0M836.0 646.0h0M836.0 689.3h0M1113.0 540.0h0M1113.0 689.7h0M1113.0 674.2h0M1113.0 561.0h0M1113.0 559.2h0M1113.0 765.7h0M1113.0 726.8h0M1113.0 799.0h0M1113.0 757.0h0M1215.0 590.0h0M1215.0 633.5h0M1215.0 786.9h0M1215.0 787.2h0M1215.0 650.2h0M1215.0 593.9h0M1215.0 644.2h0M1215.0 769.8h0M1215.0 815.8h0M1240.0 620.0h0M1240.0 826.4h0M1240.0 787.7h0M1240.0 791.8h0M1240.0 703.9h0M1300.0 830.0h0M1330.0 850.0h0M1330.0 884.7h0M1330.0 881.6h0M1450.0 900.0h0M1490.0 880.0h0M1490.0 951.7h0M1490.0 895.0h0M1515.0 870.0h0M1515.0 943.3h0M1515.0 879.9h0M1515.0 879.7h0M1427.0 1060.0h0M1427.0 1100.0h0M1432.0 1150.0h0M1437.0 1190.0h0M1522.0 1110.0h0M1522.0 1166.0h0M1073.0 911.0h0M1101.0 887.0h0M1432.0 1180.0h0M689.0 787.0h0M696.1 781.0h0M697.8 784.0h0M699.6 775.0h0M702.6 791.0h0M706.2 775.5h0M712.3 777.9h0M716.4 788.2h0M724.3 778.8h0M726.0 781.0h0M729.3 794.2h0M742.5 787.4h0M746.9 791.0h0M750.0 791.4h0M759.3 801.8h0M764.4 787.5h0M783.5 800.4h0M786.6 805.3h0M788.8 808.2h0M791.8 814.5h0M808.4 815.6h0M810.1 811.8h0M819.5 816.5h0M821.3 814.6h0M824.0 816.8h0M826.7 824.6h0M829.1 819.8h0M831.9 845.1h0M838.5 838.6h0M841.7 847.8h0M844.1 860.1h0M846.5 856.3h0M853.3 864.7h0M867.8 882.1h0M883.3 878.8h0M894.9 867.6h0M898.2 869.9h0M911.1 868.0h0M925.3 865.0h0M928.7 865.0h0M943.1 869.0h0M950.0 872.0h0M962.4 872.0h0M965.0 879.1h0M970.3 872.0h0M988.5 863.0h0M993.8 865.0h0M1000.0 869.0h0M1013.2 868.4h0M1015.0 870.5h0M1017.6 873.8h0M1025.4 883.7h0M1041.8 879.0h0M1045.9 871.4h0M1052.0 871.9h0M1055.0 868.1h0M1058.9 872.4h0M1067.2 873.2h0M1068.8 871.5h0M1071.6 881.9h0M1091.7 875.2h0M1108.2 881.3h0M1110.8 910.7h0M1113.7 901.5h0M1116.1 888.9h0M1126.5 891.9h0M1138.6 920.5h0M1166.9 922.0h0M1170.8 923.5h0M1188.6 961.0h0M1192.0 957.9h0M1194.7 965.1h0M1196.9 956.0h0M1198.6 966.8h0M1208.2 970.9h0M1213.6 979.7h0M1225.3 968.7h0M1227.0 971.6h0M1230.8 978.6h0M1233.0 976.7h0M1238.3 979.5h0M1243.4 980.1h0M1248.5 1006.5h0M1252.3 988.9h0M1262.0 1003.5h0M1265.9 1002.2h0M1278.6 1010.2h0M1288.5 1005.5h0M1294.7 1007.9h0M1307.1 1016.7h0M1308.9 1015.7h0M1311.8 1022.3h0M1313.8 1020.4h0M1318.8 1020.0h0M1321.7 1025.8h0M1326.8 1024.2h0M1336.2 1026.6h0M1351.7 1035.5h0M1360.5 1024.2h0M1363.9 1050.5h0M1366.2 1036.7h0M1370.5 1043.2h0M1378.2 1025.7h0M1380.9 1029.2h0M1384.1 1028.7h0M1389.5 1025.8h0M1391.6 1027.5h0M1394.0 1025.1h0M1403.7 1023.5h0M1416.7 1026.3h0M1418.5 1023.0h0M1423.4 1018.2h0M1425.8 1043.5h0M1429.8 1017.2h0M1431.6 1025.5h0M1435.5 1069.2h0M1447.4 1089.9h0M1453.4 1080.8h0M1456.9 1084.6h0M1460.6 1097.2h0M1474.6 1093.1h0M1481.1 1100.9h0M1484.7 1094.5h0M1494.8 1097.5h0M1501.0 1098.8h0M1502.7 1096.5h0M1506.3 1093.9h0M1523.0 1093.0h0M1525.2 1092.7h0M1527.2 1090.3h0" stroke="#1010ff" stroke-width="3.2" stroke-linecap="round"/>
</g>
<path d="M688.0 1194.2h6.5M688.0 1152.8h6.5M688.0 1113.2h6.5M688.0 1075.2h6.5M688.0 1038.7h6.5M688.0 1003.6h12.5M688.0 969.8h6.5M688.0 937.1h6.5M688.0 905.5h6.5M688.0 875.0h6.5M688.0 845.5h6.5M688.0 816.8h6.5M688.0 789.1h6.5M688.0 762.1h6.5M688.0 735.9h12.5M688.0 710.4h6.5M688.0 685.5h6.5M688.0 661.4h6.5M688.0 637.8h6.5M688.0 614.8h6.5M688.0 592.4h6.5M688.0 570.5h6.5M688.0 549.1h6.5M688.0 528.2h12.5M688.0 507.7h6.5M721.1 1211.0v-6.5M753.5 1211.0v-6.5M785.1 1211.0v-6.5M815.9 1211.0v-6.5M845.9 1211.0v-6.5M875.2 1211.0v-6.5M903.8 1211.0v-6.5M931.8 1211.0v-6.5M959.1 1211.0v-12M985.8 1211.0v-6.5M1012.0 1211.0v-6.5M1037.6 1211.0v-6.5M1062.6 1211.0v-6.5M1087.2 1211.0v-6.5M1111.3 1211.0v-6.5M1134.9 1211.0v-6.5M1158.0 1211.0v-6.5M1180.8 1211.0v-12M1203.1 1211.0v-6.5M1225.0 1211.0v-6.5M1246.5 1211.0v-6.5M1267.6 1211.0v-6.5M1288.4 1211.0v-6.5M1308.9 1211.0v-6.5M1329.0 1211.0v-6.5M1348.7 1211.0v-6.5M1368.2 1211.0v-12M1387.3 1211.0v-6.5M1406.2 1211.0v-6.5M1424.7 1211.0v-6.5M1443.0 1211.0v-6.5M1461.0 1211.0v-6.5M1478.8 1211.0v-6.5M1496.3 1211.0v-6.5M1513.5 1211.0v-6.5" stroke="#222" stroke-width="2.6"/>
<rect x="688.0" y="493.0" width="842.5" height="718.0" fill="none" stroke="#222" stroke-width="3"/>
<text transform="translate(580.19,542.91) scale(0.9521,1)" font-size="79.09">2.5</text>
<text transform="translate(638.59,749.05) scale(1.0360,1)" font-size="75.15">2</text>
<text transform="translate(572.37,1019.90) scale(1.0404,1)" font-size="79.70">1.5</text>
<text transform="translate(667.48,1282.70) scale(0.9324,1)" font-size="88.31">4</text>
<text transform="translate(936.22,1282.95) scale(1.0170,1)" font-size="85.45">5</text>
<text transform="translate(1159.46,1280.94) scale(1.0170,1)" font-size="83.13">6</text>
<text transform="translate(1343.83,1282.60) scale(1.0836,1)" font-size="85.69">7</text>
<text transform="translate(1510.29,1280.94) scale(0.9650,1)" font-size="83.13">8</text>
<g transform="translate(0,1200) rotate(-90)"><text transform="translate(27.89,534.90) scale(0.8812,1)" font-size="101.08" font-style="italic">I</text><text transform="translate(70.00,570.00) scale(0.8567,1)" font-size="66.46" font-style="italic">P</text><text transform="translate(128.27,533.02) scale(1.1400,1)" font-size="92.78">(</text><text transform="translate(160.00,543.00) scale(1.0000,1)" font-size="100.00" font-weight="normal">&#215;</text><text transform="translate(233.39,534.51) scale(1.0086,1)" font-size="99.26">10</text><text transform="translate(346.87,485.84) scale(1.6392,1)" font-size="47.76">-6</text><text transform="translate(438.99,534.90) scale(0.9863,1)" font-size="101.97">A</text><text transform="translate(507.56,533.02) scale(1.2354,1)" font-size="92.78">)</text></g>
<text transform="translate(526.05,1406.54) scale(1.0177,1)" font-size="96.00" font-style="italic">electron</text>
<text transform="translate(863.20,1411.08) scale(0.9366,1)" font-size="102.97" font-style="italic">fluence</text>
<text transform="translate(1185.80,1397.90) scale(0.9209,1)" font-size="81.44">(</text>
<text transform="translate(1208.56,1414.77) scale(1.0638,1)" font-size="109.75" font-weight="normal">&#215;</text>
<text transform="translate(1286.45,1405.67) scale(1.0721,1)" font-size="91.47">10</text>
<text transform="translate(1381.90,1353.80) scale(1.0254,1)" font-size="53.64">17</text>
<text transform="translate(1464.30,1406.59) scale(0.9868,1)" font-size="91.25">e&#183;cm</text>

<text transform="translate(1693.71,1361.74) scale(1.0248,1)" font-size="55.76">2</text>
<text transform="translate(1662.85,1361.69) scale(0.9573,1)" font-size="56.25">-</text>
<text transform="translate(1721.79,1397.43) scale(1.0629,1)" font-size="81.78">)</text>
<ellipse cx="2024" cy="1128.1" rx="132.5" ry="328.6" fill="none" stroke="#f00" stroke-width="10.5"/><path d="M1637.8 969.1L1843.0 1112.5" stroke="#f00" stroke-width="10" stroke-linecap="butt"/><path d="M1594.3 938.8L1634.3 988.1L1654.3 959.4Z" fill="#f00" stroke="#f00" stroke-width="3" stroke-linejoin="round"/>
</svg>
</body></html>
